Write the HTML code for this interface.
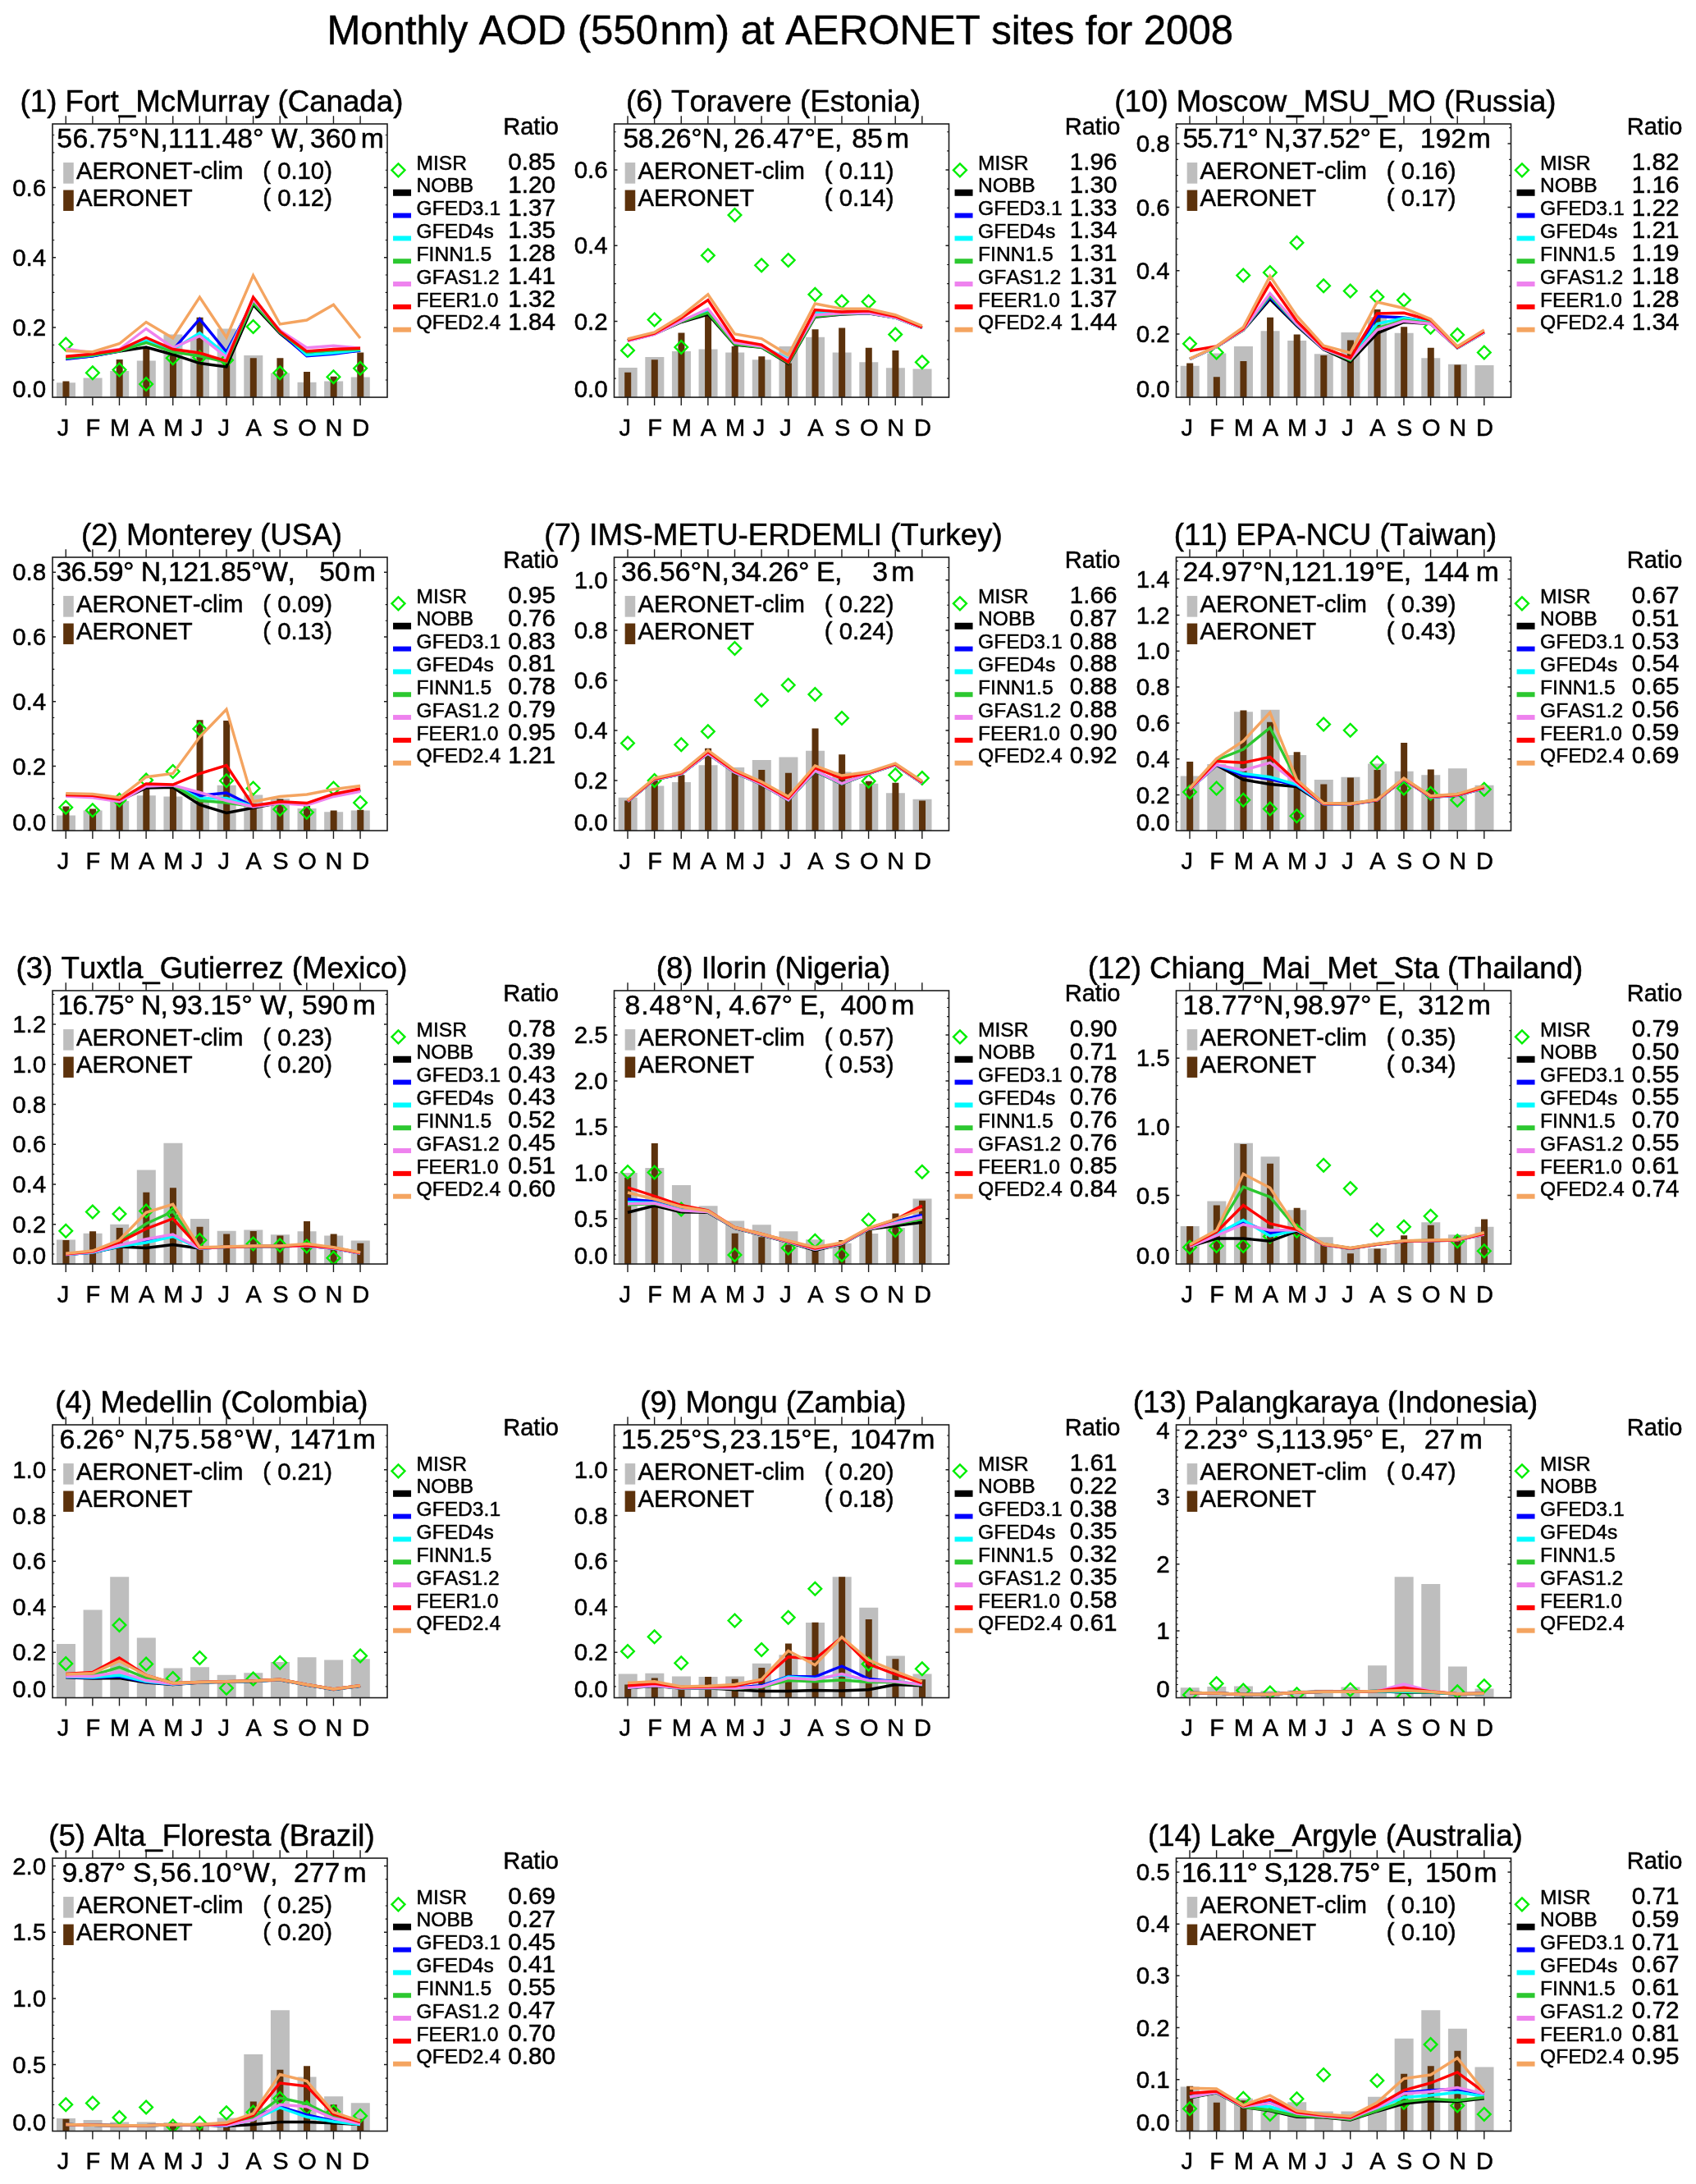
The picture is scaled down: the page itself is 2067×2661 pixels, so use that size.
<!DOCTYPE html>
<html><head><meta charset="utf-8"><title>Monthly AOD (550 nm) at AERONET sites for 2008</title>
<style>
html,body{margin:0;padding:0;background:#fff;overflow:hidden;}
svg{display:block;will-change:transform;}
text{font-family:"Liberation Sans",sans-serif;fill:#000;stroke:#000;stroke-width:0.5px;font-kerning:none;font-variant-ligatures:none;}
</style></head><body>
<svg width="2067" height="2661" viewBox="0 0 2067 2661" shape-rendering="geometricPrecision">
<rect width="2067" height="2661" fill="#fff"/>
<text transform="translate(398.5 53.8) scale(1 1)" font-size="49.05" xml:space="preserve">Monthly AOD (550</text>
<text transform="translate(1503 53.8) scale(1 1)" font-size="49.1" text-anchor="end" xml:space="preserve">nm) at AERONET sites for 2008</text>
<g>
<rect x="68.95" y="466.25" width="23" height="18" fill="#bebebe"/>
<rect x="101.57" y="460.5" width="23" height="23.75" fill="#bebebe"/>
<rect x="134.19" y="452" width="23" height="32.25" fill="#bebebe"/>
<rect x="166.81" y="439.5" width="23" height="44.75" fill="#bebebe"/>
<rect x="199.43" y="407.5" width="23" height="76.75" fill="#bebebe"/>
<rect x="232.05" y="411.25" width="23" height="73" fill="#bebebe"/>
<rect x="264.67" y="400.5" width="23" height="83.75" fill="#bebebe"/>
<rect x="297.29" y="433" width="23" height="51.25" fill="#bebebe"/>
<rect x="329.91" y="454.5" width="23" height="29.75" fill="#bebebe"/>
<rect x="362.53" y="465.75" width="23" height="18.5" fill="#bebebe"/>
<rect x="395.15" y="464.5" width="23" height="19.75" fill="#bebebe"/>
<rect x="427.77" y="459.5" width="23" height="24.75" fill="#bebebe"/>
<rect x="76.45" y="464.5" width="8" height="19.75" fill="#5c320c"/>
<rect x="141.69" y="438" width="8" height="46.25" fill="#5c320c"/>
<rect x="174.31" y="422.5" width="8" height="61.75" fill="#5c320c"/>
<rect x="206.93" y="426.25" width="8" height="58" fill="#5c320c"/>
<rect x="239.55" y="386.75" width="8" height="97.5" fill="#5c320c"/>
<rect x="272.17" y="442.5" width="8" height="41.75" fill="#5c320c"/>
<rect x="304.79" y="436.25" width="8" height="48" fill="#5c320c"/>
<rect x="337.41" y="436.25" width="8" height="48" fill="#5c320c"/>
<rect x="370.03" y="453" width="8" height="31.25" fill="#5c320c"/>
<rect x="402.65" y="458.75" width="8" height="25.5" fill="#5c320c"/>
<rect x="435.27" y="429.5" width="8" height="54.75" fill="#5c320c"/>
<clipPath id="c1"><rect x="64.75" y="151.75" width="407.5" height="332.5"/></clipPath>
<g clip-path="url(#c1)">
<path d="M72.45 419.5L80.25 411.7L88.05 419.5L80.25 427.3Z" fill="none" stroke="#00ee00" stroke-width="2.4"/>
<path d="M105.07 454.25L112.87 446.45L120.67 454.25L112.87 462.05Z" fill="none" stroke="#00ee00" stroke-width="2.4"/>
<path d="M137.69 450.5L145.49 442.7L153.29 450.5L145.49 458.3Z" fill="none" stroke="#00ee00" stroke-width="2.4"/>
<path d="M170.31 468L178.11 460.2L185.91 468L178.11 475.8Z" fill="none" stroke="#00ee00" stroke-width="2.4"/>
<path d="M202.93 436.25L210.73 428.45L218.53 436.25L210.73 444.05Z" fill="none" stroke="#00ee00" stroke-width="2.4"/>
<path d="M235.55 435.5L243.35 427.7L251.15 435.5L243.35 443.3Z" fill="none" stroke="#00ee00" stroke-width="2.4"/>
<path d="M268.17 438.75L275.97 430.95L283.77 438.75L275.97 446.55Z" fill="none" stroke="#00ee00" stroke-width="2.4"/>
<path d="M300.79 398L308.59 390.2L316.39 398L308.59 405.8Z" fill="none" stroke="#00ee00" stroke-width="2.4"/>
<path d="M333.41 454.25L341.21 446.45L349.01 454.25L341.21 462.05Z" fill="none" stroke="#00ee00" stroke-width="2.4"/>
<path d="M398.65 459.25L406.45 451.45L414.25 459.25L406.45 467.05Z" fill="none" stroke="#00ee00" stroke-width="2.4"/>
<path d="M431.27 448.75L439.07 440.95L446.87 448.75L439.07 456.55Z" fill="none" stroke="#00ee00" stroke-width="2.4"/>
<polyline points="80.25,437 112.87,433.75 145.49,428 178.11,423 210.73,432 243.35,442.5 275.97,447 308.59,371.25 341.21,406.25 373.83,432.5 406.45,430 439.07,427" fill="none" stroke="#000000" stroke-width="3.4" stroke-linejoin="miter"/>
<polyline points="80.25,437.5 112.87,433.75 145.49,427.5 178.11,416.25 210.73,426.25 243.35,388.75 275.97,428.75 308.59,367.5 341.21,405 373.83,433.75 406.45,431.25 439.07,427" fill="none" stroke="#0000ff" stroke-width="3.4" stroke-linejoin="miter"/>
<polyline points="80.25,436.25 112.87,433 145.49,427.5 178.11,415 210.73,426.25 243.35,405.5 275.97,432.5 308.59,367 341.21,402.5 373.83,432.5 406.45,430 439.07,426.25" fill="none" stroke="#00fbff" stroke-width="3.4" stroke-linejoin="miter"/>
<polyline points="80.25,436.25 112.87,432.5 145.49,427.5 178.11,417.5 210.73,428.75 243.35,433.75 275.97,441.25 308.59,368.75 341.21,405 373.83,429 406.45,426.75 439.07,425.25" fill="none" stroke="#2cc830" stroke-width="3.4" stroke-linejoin="miter"/>
<polyline points="80.25,425 112.87,430 145.49,425.5 178.11,400.5 210.73,423.75 243.35,409.5 275.97,435 308.59,365 341.21,402.5 373.83,423.75 406.45,421.25 439.07,424.25" fill="none" stroke="#ee82ee" stroke-width="3.4" stroke-linejoin="miter"/>
<polyline points="80.25,434.25 112.87,431.25 145.49,426.25 178.11,411.25 210.73,425.5 243.35,430 275.97,440 308.59,362 341.21,403.75 373.83,428 406.45,425.5 439.07,424.25" fill="none" stroke="#ff0000" stroke-width="3.4" stroke-linejoin="miter"/>
<polyline points="80.25,427.5 112.87,428.75 145.49,418.75 178.11,392.5 210.73,412 243.35,362 275.97,411.25 308.59,335.5 341.21,395 373.83,390 406.45,371.25 439.07,412" fill="none" stroke="#f4a460" stroke-width="3.4" stroke-linejoin="miter"/>
</g>
<rect x="64" y="151" width="408" height="333.05" fill="none" stroke="#1c1c1c" stroke-width="1.6"/>
<path d="M80.25 151v-9.8M80.25 484.05v10M112.87 151v-9.8M112.87 484.05v10M145.49 151v-9.8M145.49 484.05v10M178.11 151v-9.8M178.11 484.05v10M210.73 151v-9.8M210.73 484.05v10M243.35 151v-9.8M243.35 484.05v10M275.97 151v-9.8M275.97 484.05v10M308.59 151v-9.8M308.59 484.05v10M341.21 151v-9.8M341.21 484.05v10M373.83 151v-9.8M373.83 484.05v10M406.45 151v-9.8M406.45 484.05v10M439.07 151v-9.8M439.07 484.05v10M64 228.5h4M472 228.5h-4M64 313.75h4M472 313.75h-4M64 399h4M472 399h-4" stroke="#1c1c1c" stroke-width="1.4" fill="none"/>
<path d="M64 462.94h2.3M472 462.94h-2.3M64 441.62h2.3M472 441.62h-2.3M64 420.31h2.3M472 420.31h-2.3M64 377.69h2.3M472 377.69h-2.3M64 356.38h2.3M472 356.38h-2.3M64 335.06h2.3M472 335.06h-2.3M64 292.44h2.3M472 292.44h-2.3M64 271.12h2.3M472 271.12h-2.3M64 249.81h2.3M472 249.81h-2.3M64 207.19h2.3M472 207.19h-2.3M64 185.88h2.3M472 185.88h-2.3M64 164.56h2.3M472 164.56h-2.3" stroke="#111" stroke-width="1.1" fill="none"/>
<text transform="translate(56.15 483.85) scale(1 1)" font-size="29.5" text-anchor="end" xml:space="preserve">0.0</text>
<text transform="translate(56.15 409.1) scale(1 1)" font-size="29.5" text-anchor="end" xml:space="preserve">0.2</text>
<text transform="translate(56.15 323.85) scale(1 1)" font-size="29.5" text-anchor="end" xml:space="preserve">0.4</text>
<text transform="translate(56.15 238.6) scale(1 1)" font-size="29.5" text-anchor="end" xml:space="preserve">0.6</text>
<text transform="translate(77.05 530.85) scale(1 1)" font-size="29" text-anchor="middle" xml:space="preserve">J</text>
<text transform="translate(113.47 530.85) scale(1 1)" font-size="29" text-anchor="middle" xml:space="preserve">F</text>
<text transform="translate(146.09 530.85) scale(1 1)" font-size="29" text-anchor="middle" xml:space="preserve">M</text>
<text transform="translate(178.71 530.85) scale(1 1)" font-size="29" text-anchor="middle" xml:space="preserve">A</text>
<text transform="translate(211.33 530.85) scale(1 1)" font-size="29" text-anchor="middle" xml:space="preserve">M</text>
<text transform="translate(240.15 530.85) scale(1 1)" font-size="29" text-anchor="middle" xml:space="preserve">J</text>
<text transform="translate(272.77 530.85) scale(1 1)" font-size="29" text-anchor="middle" xml:space="preserve">J</text>
<text transform="translate(309.19 530.85) scale(1 1)" font-size="29" text-anchor="middle" xml:space="preserve">A</text>
<text transform="translate(341.81 530.85) scale(1 1)" font-size="29" text-anchor="middle" xml:space="preserve">S</text>
<text transform="translate(374.43 530.85) scale(1 1)" font-size="29" text-anchor="middle" xml:space="preserve">O</text>
<text transform="translate(407.05 530.85) scale(1 1)" font-size="29" text-anchor="middle" xml:space="preserve">N</text>
<text transform="translate(439.67 530.85) scale(1 1)" font-size="29" text-anchor="middle" xml:space="preserve">D</text>
<text transform="translate(257.95 136.45) scale(1 1)" font-size="36.7" text-anchor="middle" xml:space="preserve">(1) Fort_McMurray (Canada)</text>
<text transform="translate(69.15 180.35) scale(1 1)" font-size="33.8" textLength="135.75" lengthAdjust="spacing" xml:space="preserve">56.75°N,</text>
<text transform="translate(204.9 180.35) scale(1 1)" font-size="33.8" textLength="167" lengthAdjust="spacing" xml:space="preserve">111.48° W,</text>
<text transform="translate(377.9 180.35) scale(1 1)" font-size="33.8" xml:space="preserve">360</text>
<text transform="translate(468 180.35) scale(1 1)" font-size="33.8" text-anchor="end" xml:space="preserve">m</text>
<rect x="77.15" y="198.05" width="12.6" height="25.6" fill="#bebebe"/>
<rect x="77.15" y="231.55" width="12.6" height="25.4" fill="#5c320c"/>
<text transform="translate(93.05 217.55) scale(1 1)" font-size="29.3" xml:space="preserve">AERONET-clim</text>
<text transform="translate(93.05 251.25) scale(1 1)" font-size="29.3" xml:space="preserve">AERONET</text>
<text transform="translate(320.25 217.55) scale(1 1)" font-size="29.3" xml:space="preserve">( 0.10)</text>
<text transform="translate(320.25 251.25) scale(1 1)" font-size="29.3" xml:space="preserve">( 0.12)</text>
<text transform="translate(613.25 163.95) scale(1 1)" font-size="29" xml:space="preserve">Ratio</text>
<text transform="translate(507.55 206.65) scale(1 1)" font-size="24.6" xml:space="preserve">MISR</text>
<path d="M477.45 207.35L485.45 199.35L493.45 207.35L485.45 215.35Z" fill="none" stroke="#00ee00" stroke-width="2.4"/>
<text transform="translate(619.25 206.95) scale(1 1)" font-size="29.6" xml:space="preserve">0.85</text>
<text transform="translate(507.55 234.47) scale(1 1)" font-size="24.6" xml:space="preserve">NOBB</text>
<rect x="479.05" y="230.77" width="22" height="8" fill="#000000"/>
<text transform="translate(619.25 234.77) scale(1 1)" font-size="29.6" xml:space="preserve">1.20</text>
<text transform="translate(507.55 262.29) scale(1 1)" font-size="24.6" xml:space="preserve">GFED3.1</text>
<rect x="479.05" y="259.59" width="22" height="6" fill="#0000ff"/>
<text transform="translate(619.25 262.59) scale(1 1)" font-size="29.6" xml:space="preserve">1.37</text>
<text transform="translate(507.55 290.11) scale(1 1)" font-size="24.6" xml:space="preserve">GFED4s</text>
<rect x="479.05" y="287.41" width="22" height="6" fill="#00fbff"/>
<text transform="translate(619.25 290.41) scale(1 1)" font-size="29.6" xml:space="preserve">1.35</text>
<text transform="translate(507.55 317.93) scale(1 1)" font-size="24.6" xml:space="preserve">FINN1.5</text>
<rect x="479.05" y="315.23" width="22" height="6" fill="#2cc830"/>
<text transform="translate(619.25 318.23) scale(1 1)" font-size="29.6" xml:space="preserve">1.28</text>
<text transform="translate(507.55 345.75) scale(1 1)" font-size="24.6" xml:space="preserve">GFAS1.2</text>
<rect x="479.05" y="343.05" width="22" height="6" fill="#ee82ee"/>
<text transform="translate(619.25 346.05) scale(1 1)" font-size="29.6" xml:space="preserve">1.41</text>
<text transform="translate(507.55 373.57) scale(1 1)" font-size="24.6" xml:space="preserve">FEER1.0</text>
<rect x="479.05" y="370.87" width="22" height="6" fill="#ff0000"/>
<text transform="translate(619.25 373.87) scale(1 1)" font-size="29.6" xml:space="preserve">1.32</text>
<text transform="translate(507.55 401.39) scale(1 1)" font-size="24.6" xml:space="preserve">QFED2.4</text>
<rect x="479.05" y="398.69" width="22" height="6" fill="#f4a460"/>
<text transform="translate(619.25 401.69) scale(1 1)" font-size="29.6" xml:space="preserve">1.84</text>
</g>
<g>
<rect x="68.95" y="993.5" width="23" height="18.75" fill="#bebebe"/>
<rect x="101.57" y="987.5" width="23" height="24.75" fill="#bebebe"/>
<rect x="134.19" y="976" width="23" height="36.25" fill="#bebebe"/>
<rect x="166.81" y="969.25" width="23" height="43" fill="#bebebe"/>
<rect x="199.43" y="970.5" width="23" height="41.75" fill="#bebebe"/>
<rect x="232.05" y="976.75" width="23" height="35.5" fill="#bebebe"/>
<rect x="264.67" y="956.75" width="23" height="55.5" fill="#bebebe"/>
<rect x="297.29" y="968.5" width="23" height="43.75" fill="#bebebe"/>
<rect x="329.91" y="973" width="23" height="39.25" fill="#bebebe"/>
<rect x="362.53" y="985" width="23" height="27.25" fill="#bebebe"/>
<rect x="395.15" y="989.25" width="23" height="23" fill="#bebebe"/>
<rect x="427.77" y="987.5" width="23" height="24.75" fill="#bebebe"/>
<rect x="76.45" y="982.5" width="8" height="29.75" fill="#5c320c"/>
<rect x="109.07" y="985.5" width="8" height="26.75" fill="#5c320c"/>
<rect x="141.69" y="973" width="8" height="39.25" fill="#5c320c"/>
<rect x="174.31" y="955.5" width="8" height="56.75" fill="#5c320c"/>
<rect x="206.93" y="958" width="8" height="54.25" fill="#5c320c"/>
<rect x="239.55" y="877.25" width="8" height="135" fill="#5c320c"/>
<rect x="272.17" y="878" width="8" height="134.25" fill="#5c320c"/>
<rect x="304.79" y="979.25" width="8" height="33" fill="#5c320c"/>
<rect x="337.41" y="973.5" width="8" height="38.75" fill="#5c320c"/>
<rect x="370.03" y="981.75" width="8" height="30.5" fill="#5c320c"/>
<rect x="402.65" y="987.5" width="8" height="24.75" fill="#5c320c"/>
<rect x="435.27" y="986.75" width="8" height="25.5" fill="#5c320c"/>
<clipPath id="c2"><rect x="64.75" y="679.75" width="407.5" height="332.5"/></clipPath>
<g clip-path="url(#c2)">
<path d="M72.45 983.75L80.25 975.95L88.05 983.75L80.25 991.55Z" fill="none" stroke="#00ee00" stroke-width="2.4"/>
<path d="M105.07 987.25L112.87 979.45L120.67 987.25L112.87 995.05Z" fill="none" stroke="#00ee00" stroke-width="2.4"/>
<path d="M137.69 974.75L145.49 966.95L153.29 974.75L145.49 982.55Z" fill="none" stroke="#00ee00" stroke-width="2.4"/>
<path d="M170.31 950.5L178.11 942.7L185.91 950.5L178.11 958.3Z" fill="none" stroke="#00ee00" stroke-width="2.4"/>
<path d="M202.93 940L210.73 932.2L218.53 940L210.73 947.8Z" fill="none" stroke="#00ee00" stroke-width="2.4"/>
<path d="M235.55 888L243.35 880.2L251.15 888L243.35 895.8Z" fill="none" stroke="#00ee00" stroke-width="2.4"/>
<path d="M268.17 951.25L275.97 943.45L283.77 951.25L275.97 959.05Z" fill="none" stroke="#00ee00" stroke-width="2.4"/>
<path d="M300.79 960.5L308.59 952.7L316.39 960.5L308.59 968.3Z" fill="none" stroke="#00ee00" stroke-width="2.4"/>
<path d="M333.41 986L341.21 978.2L349.01 986L341.21 993.8Z" fill="none" stroke="#00ee00" stroke-width="2.4"/>
<path d="M366.03 989.75L373.83 981.95L381.63 989.75L373.83 997.55Z" fill="none" stroke="#00ee00" stroke-width="2.4"/>
<path d="M398.65 960.5L406.45 952.7L414.25 960.5L406.45 968.3Z" fill="none" stroke="#00ee00" stroke-width="2.4"/>
<path d="M431.27 978L439.07 970.2L446.87 978L439.07 985.8Z" fill="none" stroke="#00ee00" stroke-width="2.4"/>
<polyline points="80.25,969.25 112.87,970.5 145.49,975.5 178.11,960 210.73,959.25 243.35,980.5 275.97,990.5 308.59,984.25 341.21,978 373.83,980 406.45,969.25 439.07,962.5" fill="none" stroke="#000000" stroke-width="3.4" stroke-linejoin="miter"/>
<polyline points="80.25,969.25 112.87,970.5 145.49,975.5 178.11,956.75 210.73,956.75 243.35,969.25 275.97,966 308.59,982.5 341.21,978 373.83,980 406.45,969.25 439.07,962.5" fill="none" stroke="#0000ff" stroke-width="3.4" stroke-linejoin="miter"/>
<polyline points="80.25,969.25 112.87,970.5 145.49,975.5 178.11,956.75 210.73,956.75 243.35,973 275.97,972.5 308.59,982.5 341.21,978 373.83,980 406.45,969.25 439.07,962.5" fill="none" stroke="#00fbff" stroke-width="3.4" stroke-linejoin="miter"/>
<polyline points="80.25,969.25 112.87,970.5 145.49,975.5 178.11,956.75 210.73,956.75 243.35,975.5 275.97,978 308.59,982.5 341.21,978 373.83,980 406.45,969.25 439.07,962.5" fill="none" stroke="#2cc830" stroke-width="3.4" stroke-linejoin="miter"/>
<polyline points="80.25,970 112.87,971.75 145.49,976.75 178.11,958 210.73,956.75 243.35,965.5 275.97,975.5 308.59,983 341.21,978.5 373.83,981 406.45,970.5 439.07,964.25" fill="none" stroke="#ee82ee" stroke-width="3.4" stroke-linejoin="miter"/>
<polyline points="80.25,968.5 112.87,969.25 145.49,974.25 178.11,955 210.73,956 243.35,942.5 275.97,932.5 308.59,981.75 341.21,976.75 373.83,978.5 406.45,967.5 439.07,961" fill="none" stroke="#ff0000" stroke-width="3.4" stroke-linejoin="miter"/>
<polyline points="80.25,966.75 112.87,967.5 145.49,971.75 178.11,946.75 210.73,942.5 243.35,898 275.97,864.25 308.59,976.75 341.21,970.5 373.83,968 406.45,961.75 439.07,957.5" fill="none" stroke="#f4a460" stroke-width="3.4" stroke-linejoin="miter"/>
</g>
<rect x="64" y="679" width="408" height="333.05" fill="none" stroke="#1c1c1c" stroke-width="1.6"/>
<path d="M80.25 679v-9.8M80.25 1012.05v10M112.87 679v-9.8M112.87 1012.05v10M145.49 679v-9.8M145.49 1012.05v10M178.11 679v-9.8M178.11 1012.05v10M210.73 679v-9.8M210.73 1012.05v10M243.35 679v-9.8M243.35 1012.05v10M275.97 679v-9.8M275.97 1012.05v10M308.59 679v-9.8M308.59 1012.05v10M341.21 679v-9.8M341.21 1012.05v10M373.83 679v-9.8M373.83 1012.05v10M406.45 679v-9.8M406.45 1012.05v10M439.07 679v-9.8M439.07 1012.05v10M64 697.25h4M472 697.25h-4M64 776h4M472 776h-4M64 854.75h4M472 854.75h-4M64 933.5h4M472 933.5h-4" stroke="#1c1c1c" stroke-width="1.4" fill="none"/>
<path d="M64 992.56h2.3M472 992.56h-2.3M64 972.88h2.3M472 972.88h-2.3M64 953.19h2.3M472 953.19h-2.3M64 913.81h2.3M472 913.81h-2.3M64 894.12h2.3M472 894.12h-2.3M64 874.44h2.3M472 874.44h-2.3M64 835.06h2.3M472 835.06h-2.3M64 815.38h2.3M472 815.38h-2.3M64 795.69h2.3M472 795.69h-2.3M64 756.31h2.3M472 756.31h-2.3M64 736.62h2.3M472 736.62h-2.3M64 716.94h2.3M472 716.94h-2.3" stroke="#111" stroke-width="1.1" fill="none"/>
<text transform="translate(56.15 1011.85) scale(1 1)" font-size="29.5" text-anchor="end" xml:space="preserve">0.0</text>
<text transform="translate(56.15 943.6) scale(1 1)" font-size="29.5" text-anchor="end" xml:space="preserve">0.2</text>
<text transform="translate(56.15 864.85) scale(1 1)" font-size="29.5" text-anchor="end" xml:space="preserve">0.4</text>
<text transform="translate(56.15 786.1) scale(1 1)" font-size="29.5" text-anchor="end" xml:space="preserve">0.6</text>
<text transform="translate(56.15 707.35) scale(1 1)" font-size="29.5" text-anchor="end" xml:space="preserve">0.8</text>
<text transform="translate(77.05 1058.85) scale(1 1)" font-size="29" text-anchor="middle" xml:space="preserve">J</text>
<text transform="translate(113.47 1058.85) scale(1 1)" font-size="29" text-anchor="middle" xml:space="preserve">F</text>
<text transform="translate(146.09 1058.85) scale(1 1)" font-size="29" text-anchor="middle" xml:space="preserve">M</text>
<text transform="translate(178.71 1058.85) scale(1 1)" font-size="29" text-anchor="middle" xml:space="preserve">A</text>
<text transform="translate(211.33 1058.85) scale(1 1)" font-size="29" text-anchor="middle" xml:space="preserve">M</text>
<text transform="translate(240.15 1058.85) scale(1 1)" font-size="29" text-anchor="middle" xml:space="preserve">J</text>
<text transform="translate(272.77 1058.85) scale(1 1)" font-size="29" text-anchor="middle" xml:space="preserve">J</text>
<text transform="translate(309.19 1058.85) scale(1 1)" font-size="29" text-anchor="middle" xml:space="preserve">A</text>
<text transform="translate(341.81 1058.85) scale(1 1)" font-size="29" text-anchor="middle" xml:space="preserve">S</text>
<text transform="translate(374.43 1058.85) scale(1 1)" font-size="29" text-anchor="middle" xml:space="preserve">O</text>
<text transform="translate(407.05 1058.85) scale(1 1)" font-size="29" text-anchor="middle" xml:space="preserve">N</text>
<text transform="translate(439.67 1058.85) scale(1 1)" font-size="29" text-anchor="middle" xml:space="preserve">D</text>
<text transform="translate(257.95 664.45) scale(1 1)" font-size="36.7" text-anchor="middle" xml:space="preserve">(2) Monterey (USA)</text>
<text transform="translate(68.4 708.35) scale(1 1)" font-size="33.8" textLength="136.5" lengthAdjust="spacing" xml:space="preserve">36.59° N,</text>
<text transform="translate(204.9 708.35) scale(1 1)" font-size="33.8" textLength="155" lengthAdjust="spacing" xml:space="preserve">121.85°W,</text>
<text transform="translate(389.15 708.35) scale(1 1)" font-size="33.8" xml:space="preserve">50</text>
<text transform="translate(458 708.35) scale(1 1)" font-size="33.8" text-anchor="end" xml:space="preserve">m</text>
<rect x="77.15" y="726.05" width="12.6" height="25.6" fill="#bebebe"/>
<rect x="77.15" y="759.55" width="12.6" height="25.4" fill="#5c320c"/>
<text transform="translate(93.05 745.55) scale(1 1)" font-size="29.3" xml:space="preserve">AERONET-clim</text>
<text transform="translate(93.05 779.25) scale(1 1)" font-size="29.3" xml:space="preserve">AERONET</text>
<text transform="translate(320.25 745.55) scale(1 1)" font-size="29.3" xml:space="preserve">( 0.09)</text>
<text transform="translate(320.25 779.25) scale(1 1)" font-size="29.3" xml:space="preserve">( 0.13)</text>
<text transform="translate(613.25 691.95) scale(1 1)" font-size="29" xml:space="preserve">Ratio</text>
<text transform="translate(507.55 734.65) scale(1 1)" font-size="24.6" xml:space="preserve">MISR</text>
<path d="M477.45 735.35L485.45 727.35L493.45 735.35L485.45 743.35Z" fill="none" stroke="#00ee00" stroke-width="2.4"/>
<text transform="translate(619.25 734.95) scale(1 1)" font-size="29.6" xml:space="preserve">0.95</text>
<text transform="translate(507.55 762.47) scale(1 1)" font-size="24.6" xml:space="preserve">NOBB</text>
<rect x="479.05" y="758.77" width="22" height="8" fill="#000000"/>
<text transform="translate(619.25 762.77) scale(1 1)" font-size="29.6" xml:space="preserve">0.76</text>
<text transform="translate(507.55 790.29) scale(1 1)" font-size="24.6" xml:space="preserve">GFED3.1</text>
<rect x="479.05" y="787.59" width="22" height="6" fill="#0000ff"/>
<text transform="translate(619.25 790.59) scale(1 1)" font-size="29.6" xml:space="preserve">0.83</text>
<text transform="translate(507.55 818.11) scale(1 1)" font-size="24.6" xml:space="preserve">GFED4s</text>
<rect x="479.05" y="815.41" width="22" height="6" fill="#00fbff"/>
<text transform="translate(619.25 818.41) scale(1 1)" font-size="29.6" xml:space="preserve">0.81</text>
<text transform="translate(507.55 845.93) scale(1 1)" font-size="24.6" xml:space="preserve">FINN1.5</text>
<rect x="479.05" y="843.23" width="22" height="6" fill="#2cc830"/>
<text transform="translate(619.25 846.23) scale(1 1)" font-size="29.6" xml:space="preserve">0.78</text>
<text transform="translate(507.55 873.75) scale(1 1)" font-size="24.6" xml:space="preserve">GFAS1.2</text>
<rect x="479.05" y="871.05" width="22" height="6" fill="#ee82ee"/>
<text transform="translate(619.25 874.05) scale(1 1)" font-size="29.6" xml:space="preserve">0.79</text>
<text transform="translate(507.55 901.57) scale(1 1)" font-size="24.6" xml:space="preserve">FEER1.0</text>
<rect x="479.05" y="898.87" width="22" height="6" fill="#ff0000"/>
<text transform="translate(619.25 901.87) scale(1 1)" font-size="29.6" xml:space="preserve">0.95</text>
<text transform="translate(507.55 929.39) scale(1 1)" font-size="24.6" xml:space="preserve">QFED2.4</text>
<rect x="479.05" y="926.69" width="22" height="6" fill="#f4a460"/>
<text transform="translate(619.25 929.69) scale(1 1)" font-size="29.6" xml:space="preserve">1.21</text>
</g>
<g>
<rect x="68.95" y="1510.5" width="23" height="29.75" fill="#bebebe"/>
<rect x="101.57" y="1502.75" width="23" height="37.5" fill="#bebebe"/>
<rect x="134.19" y="1491.75" width="23" height="48.5" fill="#bebebe"/>
<rect x="166.81" y="1425.5" width="23" height="114.75" fill="#bebebe"/>
<rect x="199.43" y="1392.75" width="23" height="147.5" fill="#bebebe"/>
<rect x="232.05" y="1485" width="23" height="55.25" fill="#bebebe"/>
<rect x="264.67" y="1499.75" width="23" height="40.5" fill="#bebebe"/>
<rect x="297.29" y="1498.5" width="23" height="41.75" fill="#bebebe"/>
<rect x="329.91" y="1504.25" width="23" height="36" fill="#bebebe"/>
<rect x="362.53" y="1500.25" width="23" height="40" fill="#bebebe"/>
<rect x="395.15" y="1505.5" width="23" height="34.75" fill="#bebebe"/>
<rect x="427.77" y="1511.5" width="23" height="28.75" fill="#bebebe"/>
<rect x="76.45" y="1511" width="8" height="29.25" fill="#5c320c"/>
<rect x="109.07" y="1500.25" width="8" height="40" fill="#5c320c"/>
<rect x="141.69" y="1496" width="8" height="44.25" fill="#5c320c"/>
<rect x="174.31" y="1452.75" width="8" height="87.5" fill="#5c320c"/>
<rect x="206.93" y="1447.25" width="8" height="93" fill="#5c320c"/>
<rect x="239.55" y="1494.75" width="8" height="45.5" fill="#5c320c"/>
<rect x="272.17" y="1503.5" width="8" height="36.75" fill="#5c320c"/>
<rect x="304.79" y="1500" width="8" height="40.25" fill="#5c320c"/>
<rect x="337.41" y="1505.5" width="8" height="34.75" fill="#5c320c"/>
<rect x="370.03" y="1488" width="8" height="52.25" fill="#5c320c"/>
<rect x="402.65" y="1503.5" width="8" height="36.75" fill="#5c320c"/>
<rect x="435.27" y="1514.75" width="8" height="25.5" fill="#5c320c"/>
<clipPath id="c3"><rect x="64.75" y="1207.75" width="407.5" height="332.5"/></clipPath>
<g clip-path="url(#c3)">
<path d="M72.45 1499.75L80.25 1491.95L88.05 1499.75L80.25 1507.55Z" fill="none" stroke="#00ee00" stroke-width="2.4"/>
<path d="M105.07 1476.5L112.87 1468.7L120.67 1476.5L112.87 1484.3Z" fill="none" stroke="#00ee00" stroke-width="2.4"/>
<path d="M137.69 1479L145.49 1471.2L153.29 1479L145.49 1486.8Z" fill="none" stroke="#00ee00" stroke-width="2.4"/>
<path d="M170.31 1475.5L178.11 1467.7L185.91 1475.5L178.11 1483.3Z" fill="none" stroke="#00ee00" stroke-width="2.4"/>
<path d="M202.93 1479L210.73 1471.2L218.53 1479L210.73 1486.8Z" fill="none" stroke="#00ee00" stroke-width="2.4"/>
<path d="M235.55 1511L243.35 1503.2L251.15 1511L243.35 1518.8Z" fill="none" stroke="#00ee00" stroke-width="2.4"/>
<path d="M300.79 1515.5L308.59 1507.7L316.39 1515.5L308.59 1523.3Z" fill="none" stroke="#00ee00" stroke-width="2.4"/>
<path d="M333.41 1517.25L341.21 1509.45L349.01 1517.25L341.21 1525.05Z" fill="none" stroke="#00ee00" stroke-width="2.4"/>
<path d="M366.03 1518.5L373.83 1510.7L381.63 1518.5L373.83 1526.3Z" fill="none" stroke="#00ee00" stroke-width="2.4"/>
<path d="M398.65 1532.75L406.45 1524.95L414.25 1532.75L406.45 1540.55Z" fill="none" stroke="#00ee00" stroke-width="2.4"/>
<polyline points="80.25,1528.5 112.87,1526 145.49,1519 178.11,1520.5 210.73,1516.5 243.35,1521 275.97,1519.25 308.59,1518.5 341.21,1518.5 373.83,1518 406.45,1521 439.07,1527" fill="none" stroke="#000000" stroke-width="3.4" stroke-linejoin="miter"/>
<polyline points="80.25,1528.5 112.87,1526 145.49,1518.5 178.11,1512.25 210.73,1505.5 243.35,1521 275.97,1519.25 308.59,1518.5 341.21,1518.5 373.83,1518 406.45,1521 439.07,1527" fill="none" stroke="#0000ff" stroke-width="3.4" stroke-linejoin="miter"/>
<polyline points="80.25,1528.5 112.87,1526 145.49,1518.5 178.11,1514 210.73,1506.5 243.35,1521 275.97,1519.25 308.59,1518.5 341.21,1518.5 373.83,1518 406.45,1521 439.07,1527" fill="none" stroke="#00fbff" stroke-width="3.4" stroke-linejoin="miter"/>
<polyline points="80.25,1527.75 112.87,1524.75 145.49,1513 178.11,1491 210.73,1476 243.35,1520.5 275.97,1519.25 308.59,1518.5 341.21,1518.5 373.83,1516.5 406.45,1520.25 439.07,1526.5" fill="none" stroke="#2cc830" stroke-width="3.4" stroke-linejoin="miter"/>
<polyline points="80.25,1528.5 112.87,1525.5 145.49,1517.25 178.11,1509.75 210.73,1504 243.35,1521 275.97,1519.25 308.59,1518.5 341.21,1518.5 373.83,1518 406.45,1521 439.07,1527" fill="none" stroke="#ee82ee" stroke-width="3.4" stroke-linejoin="miter"/>
<polyline points="80.25,1527.75 112.87,1524.75 145.49,1513.5 178.11,1497.25 210.73,1484.75 243.35,1520.5 275.97,1519.25 308.59,1518.5 341.21,1518.5 373.83,1517.25 406.45,1520.25 439.07,1526.5" fill="none" stroke="#ff0000" stroke-width="3.4" stroke-linejoin="miter"/>
<polyline points="80.25,1527.25 112.87,1524 145.49,1511 178.11,1477.25 210.73,1467.25 243.35,1519.75 275.97,1519 308.59,1518 341.21,1518 373.83,1515.5 406.45,1519.75 439.07,1526" fill="none" stroke="#f4a460" stroke-width="3.4" stroke-linejoin="miter"/>
</g>
<rect x="64" y="1207" width="408" height="333.05" fill="none" stroke="#1c1c1c" stroke-width="1.6"/>
<path d="M80.25 1207v-9.8M80.25 1540.05v10M112.87 1207v-9.8M112.87 1540.05v10M145.49 1207v-9.8M145.49 1540.05v10M178.11 1207v-9.8M178.11 1540.05v10M210.73 1207v-9.8M210.73 1540.05v10M243.35 1207v-9.8M243.35 1540.05v10M275.97 1207v-9.8M275.97 1540.05v10M308.59 1207v-9.8M308.59 1540.05v10M341.21 1207v-9.8M341.21 1540.05v10M373.83 1207v-9.8M373.83 1540.05v10M406.45 1207v-9.8M406.45 1540.05v10M439.07 1207v-9.8M439.07 1540.05v10M64 1248h4M472 1248h-4M64 1296.75h4M472 1296.75h-4M64 1345.5h4M472 1345.5h-4M64 1394.25h4M472 1394.25h-4M64 1443h4M472 1443h-4M64 1491.75h4M472 1491.75h-4" stroke="#1c1c1c" stroke-width="1.4" fill="none"/>
<path d="M64 1528.07h2.3M472 1528.07h-2.3M64 1515.9h2.3M472 1515.9h-2.3M64 1503.72h2.3M472 1503.72h-2.3M64 1479.36h2.3M472 1479.36h-2.3M64 1467.19h2.3M472 1467.19h-2.3M64 1455.01h2.3M472 1455.01h-2.3M64 1430.66h2.3M472 1430.66h-2.3M64 1418.48h2.3M472 1418.48h-2.3M64 1406.3h2.3M472 1406.3h-2.3M64 1381.95h2.3M472 1381.95h-2.3M64 1369.77h2.3M472 1369.77h-2.3M64 1357.59h2.3M472 1357.59h-2.3M64 1333.24h2.3M472 1333.24h-2.3M64 1321.06h2.3M472 1321.06h-2.3M64 1308.89h2.3M472 1308.89h-2.3M64 1284.53h2.3M472 1284.53h-2.3M64 1272.35h2.3M472 1272.35h-2.3M64 1260.18h2.3M472 1260.18h-2.3M64 1235.82h2.3M472 1235.82h-2.3M64 1223.65h2.3M472 1223.65h-2.3M64 1211.47h2.3M472 1211.47h-2.3" stroke="#111" stroke-width="1.1" fill="none"/>
<text transform="translate(56.15 1539.85) scale(1 1)" font-size="29.5" text-anchor="end" xml:space="preserve">0.0</text>
<text transform="translate(56.15 1501.85) scale(1 1)" font-size="29.5" text-anchor="end" xml:space="preserve">0.2</text>
<text transform="translate(56.15 1453.1) scale(1 1)" font-size="29.5" text-anchor="end" xml:space="preserve">0.4</text>
<text transform="translate(56.15 1404.35) scale(1 1)" font-size="29.5" text-anchor="end" xml:space="preserve">0.6</text>
<text transform="translate(56.15 1355.6) scale(1 1)" font-size="29.5" text-anchor="end" xml:space="preserve">0.8</text>
<text transform="translate(56.15 1306.85) scale(1 1)" font-size="29.5" text-anchor="end" xml:space="preserve">1.0</text>
<text transform="translate(56.15 1258.1) scale(1 1)" font-size="29.5" text-anchor="end" xml:space="preserve">1.2</text>
<text transform="translate(77.05 1586.85) scale(1 1)" font-size="29" text-anchor="middle" xml:space="preserve">J</text>
<text transform="translate(113.47 1586.85) scale(1 1)" font-size="29" text-anchor="middle" xml:space="preserve">F</text>
<text transform="translate(146.09 1586.85) scale(1 1)" font-size="29" text-anchor="middle" xml:space="preserve">M</text>
<text transform="translate(178.71 1586.85) scale(1 1)" font-size="29" text-anchor="middle" xml:space="preserve">A</text>
<text transform="translate(211.33 1586.85) scale(1 1)" font-size="29" text-anchor="middle" xml:space="preserve">M</text>
<text transform="translate(240.15 1586.85) scale(1 1)" font-size="29" text-anchor="middle" xml:space="preserve">J</text>
<text transform="translate(272.77 1586.85) scale(1 1)" font-size="29" text-anchor="middle" xml:space="preserve">J</text>
<text transform="translate(309.19 1586.85) scale(1 1)" font-size="29" text-anchor="middle" xml:space="preserve">A</text>
<text transform="translate(341.81 1586.85) scale(1 1)" font-size="29" text-anchor="middle" xml:space="preserve">S</text>
<text transform="translate(374.43 1586.85) scale(1 1)" font-size="29" text-anchor="middle" xml:space="preserve">O</text>
<text transform="translate(407.05 1586.85) scale(1 1)" font-size="29" text-anchor="middle" xml:space="preserve">N</text>
<text transform="translate(439.67 1586.85) scale(1 1)" font-size="29" text-anchor="middle" xml:space="preserve">D</text>
<text transform="translate(257.95 1192.45) scale(1 1)" font-size="36.7" text-anchor="middle" xml:space="preserve">(3) Tuxtla_Gutierrez (Mexico)</text>
<text transform="translate(70.4 1236.35) scale(1 1)" font-size="33.8" textLength="134.5" lengthAdjust="spacing" xml:space="preserve">16.75° N,</text>
<text transform="translate(209.15 1236.35) scale(1 1)" font-size="33.8" textLength="149.5" lengthAdjust="spacing" xml:space="preserve">93.15° W,</text>
<text transform="translate(367.9 1236.35) scale(1 1)" font-size="33.8" xml:space="preserve">590</text>
<text transform="translate(458 1236.35) scale(1 1)" font-size="33.8" text-anchor="end" xml:space="preserve">m</text>
<rect x="77.15" y="1254.05" width="12.6" height="25.6" fill="#bebebe"/>
<rect x="77.15" y="1287.55" width="12.6" height="25.4" fill="#5c320c"/>
<text transform="translate(93.05 1273.55) scale(1 1)" font-size="29.3" xml:space="preserve">AERONET-clim</text>
<text transform="translate(93.05 1307.25) scale(1 1)" font-size="29.3" xml:space="preserve">AERONET</text>
<text transform="translate(320.25 1273.55) scale(1 1)" font-size="29.3" xml:space="preserve">( 0.23)</text>
<text transform="translate(320.25 1307.25) scale(1 1)" font-size="29.3" xml:space="preserve">( 0.20)</text>
<text transform="translate(613.25 1219.95) scale(1 1)" font-size="29" xml:space="preserve">Ratio</text>
<text transform="translate(507.55 1262.65) scale(1 1)" font-size="24.6" xml:space="preserve">MISR</text>
<path d="M477.45 1263.35L485.45 1255.35L493.45 1263.35L485.45 1271.35Z" fill="none" stroke="#00ee00" stroke-width="2.4"/>
<text transform="translate(619.25 1262.95) scale(1 1)" font-size="29.6" xml:space="preserve">0.78</text>
<text transform="translate(507.55 1290.47) scale(1 1)" font-size="24.6" xml:space="preserve">NOBB</text>
<rect x="479.05" y="1286.77" width="22" height="8" fill="#000000"/>
<text transform="translate(619.25 1290.77) scale(1 1)" font-size="29.6" xml:space="preserve">0.39</text>
<text transform="translate(507.55 1318.29) scale(1 1)" font-size="24.6" xml:space="preserve">GFED3.1</text>
<rect x="479.05" y="1315.59" width="22" height="6" fill="#0000ff"/>
<text transform="translate(619.25 1318.59) scale(1 1)" font-size="29.6" xml:space="preserve">0.43</text>
<text transform="translate(507.55 1346.11) scale(1 1)" font-size="24.6" xml:space="preserve">GFED4s</text>
<rect x="479.05" y="1343.41" width="22" height="6" fill="#00fbff"/>
<text transform="translate(619.25 1346.41) scale(1 1)" font-size="29.6" xml:space="preserve">0.43</text>
<text transform="translate(507.55 1373.93) scale(1 1)" font-size="24.6" xml:space="preserve">FINN1.5</text>
<rect x="479.05" y="1371.23" width="22" height="6" fill="#2cc830"/>
<text transform="translate(619.25 1374.23) scale(1 1)" font-size="29.6" xml:space="preserve">0.52</text>
<text transform="translate(507.55 1401.75) scale(1 1)" font-size="24.6" xml:space="preserve">GFAS1.2</text>
<rect x="479.05" y="1399.05" width="22" height="6" fill="#ee82ee"/>
<text transform="translate(619.25 1402.05) scale(1 1)" font-size="29.6" xml:space="preserve">0.45</text>
<text transform="translate(507.55 1429.57) scale(1 1)" font-size="24.6" xml:space="preserve">FEER1.0</text>
<rect x="479.05" y="1426.87" width="22" height="6" fill="#ff0000"/>
<text transform="translate(619.25 1429.87) scale(1 1)" font-size="29.6" xml:space="preserve">0.51</text>
<text transform="translate(507.55 1457.39) scale(1 1)" font-size="24.6" xml:space="preserve">QFED2.4</text>
<rect x="479.05" y="1454.69" width="22" height="6" fill="#f4a460"/>
<text transform="translate(619.25 1457.69) scale(1 1)" font-size="29.6" xml:space="preserve">0.60</text>
</g>
<g>
<rect x="68.95" y="2003" width="23" height="65.75" fill="#bebebe"/>
<rect x="101.57" y="1961.5" width="23" height="107.25" fill="#bebebe"/>
<rect x="134.19" y="1921.25" width="23" height="147.5" fill="#bebebe"/>
<rect x="166.81" y="1995.5" width="23" height="73.25" fill="#bebebe"/>
<rect x="199.43" y="2032.5" width="23" height="36.25" fill="#bebebe"/>
<rect x="232.05" y="2031.25" width="23" height="37.5" fill="#bebebe"/>
<rect x="264.67" y="2040.75" width="23" height="28" fill="#bebebe"/>
<rect x="297.29" y="2038.25" width="23" height="30.5" fill="#bebebe"/>
<rect x="329.91" y="2025" width="23" height="43.75" fill="#bebebe"/>
<rect x="362.53" y="2019.25" width="23" height="49.5" fill="#bebebe"/>
<rect x="395.15" y="2022.5" width="23" height="46.25" fill="#bebebe"/>
<rect x="427.77" y="2021.25" width="23" height="47.5" fill="#bebebe"/>
<clipPath id="c4"><rect x="64.75" y="1736.75" width="407.5" height="332"/></clipPath>
<g clip-path="url(#c4)">
<path d="M72.45 2027L80.25 2019.2L88.05 2027L80.25 2034.8Z" fill="none" stroke="#00ee00" stroke-width="2.4"/>
<path d="M137.69 1980L145.49 1972.2L153.29 1980L145.49 1987.8Z" fill="none" stroke="#00ee00" stroke-width="2.4"/>
<path d="M170.31 2027.5L178.11 2019.7L185.91 2027.5L178.11 2035.3Z" fill="none" stroke="#00ee00" stroke-width="2.4"/>
<path d="M202.93 2045L210.73 2037.2L218.53 2045L210.73 2052.8Z" fill="none" stroke="#00ee00" stroke-width="2.4"/>
<path d="M235.55 2020L243.35 2012.2L251.15 2020L243.35 2027.8Z" fill="none" stroke="#00ee00" stroke-width="2.4"/>
<path d="M268.17 2056.75L275.97 2048.95L283.77 2056.75L275.97 2064.55Z" fill="none" stroke="#00ee00" stroke-width="2.4"/>
<path d="M300.79 2045.5L308.59 2037.7L316.39 2045.5L308.59 2053.3Z" fill="none" stroke="#00ee00" stroke-width="2.4"/>
<path d="M333.41 2025.75L341.21 2017.95L349.01 2025.75L341.21 2033.55Z" fill="none" stroke="#00ee00" stroke-width="2.4"/>
<path d="M431.27 2017.5L439.07 2009.7L446.87 2017.5L439.07 2025.3Z" fill="none" stroke="#00ee00" stroke-width="2.4"/>
<polyline points="80.25,2043.75 112.87,2045 145.49,2044.5 178.11,2050 210.73,2052.5 243.35,2050 275.97,2049.25 308.59,2048.5 341.21,2046.75 373.83,2053 406.45,2058.5 439.07,2054.25" fill="none" stroke="#000000" stroke-width="3.4" stroke-linejoin="miter"/>
<polyline points="80.25,2043.25 112.87,2044.25 145.49,2042.5 178.11,2049.25 210.73,2052 243.35,2049.75 275.97,2049 308.59,2048.25 341.21,2046.5 373.83,2052.75 406.45,2058.25 439.07,2054" fill="none" stroke="#0000ff" stroke-width="3.4" stroke-linejoin="miter"/>
<polyline points="80.25,2043 112.87,2043.75 145.49,2041.25 178.11,2048.75 210.73,2052 243.35,2049.75 275.97,2049 308.59,2048.25 341.21,2046.5 373.83,2052.75 406.45,2058.25 439.07,2054" fill="none" stroke="#00fbff" stroke-width="3.4" stroke-linejoin="miter"/>
<polyline points="80.25,2041.25 112.87,2041.25 145.49,2031.25 178.11,2044.5 210.73,2051.25 243.35,2049.5 275.97,2048.75 308.59,2048 341.21,2046.25 373.83,2052.5 406.45,2058 439.07,2053.75" fill="none" stroke="#2cc830" stroke-width="3.4" stroke-linejoin="miter"/>
<polyline points="80.25,2042.5 112.87,2042.5 145.49,2037 178.11,2047.5 210.73,2051.75 243.35,2049.5 275.97,2048.75 308.59,2048 341.21,2046.25 373.83,2052.5 406.45,2058 439.07,2053.75" fill="none" stroke="#ee82ee" stroke-width="3.4" stroke-linejoin="miter"/>
<polyline points="80.25,2039.5 112.87,2037.5 145.49,2020 178.11,2041.25 210.73,2050.75 243.35,2049.5 275.97,2048.75 308.59,2048 341.21,2046.25 373.83,2052.5 406.45,2058 439.07,2053.75" fill="none" stroke="#ff0000" stroke-width="3.4" stroke-linejoin="miter"/>
<polyline points="80.25,2040 112.87,2038.75 145.49,2023.75 178.11,2041.25 210.73,2050.75 243.35,2049.5 275.97,2048.75 308.59,2048 341.21,2046.25 373.83,2052.5 406.45,2058 439.07,2053.75" fill="none" stroke="#f4a460" stroke-width="3.4" stroke-linejoin="miter"/>
</g>
<rect x="64" y="1736" width="408" height="332.55" fill="none" stroke="#1c1c1c" stroke-width="1.6"/>
<path d="M80.25 1736v-9.8M80.25 2068.55v10M112.87 1736v-9.8M112.87 2068.55v10M145.49 1736v-9.8M145.49 2068.55v10M178.11 1736v-9.8M178.11 2068.55v10M210.73 1736v-9.8M210.73 2068.55v10M243.35 1736v-9.8M243.35 2068.55v10M275.97 1736v-9.8M275.97 2068.55v10M308.59 1736v-9.8M308.59 2068.55v10M341.21 1736v-9.8M341.21 2068.55v10M373.83 1736v-9.8M373.83 2068.55v10M406.45 1736v-9.8M406.45 2068.55v10M439.07 1736v-9.8M439.07 2068.55v10M64 1790.75h4M472 1790.75h-4M64 1846.5h4M472 1846.5h-4M64 1902.25h4M472 1902.25h-4M64 1957.75h4M472 1957.75h-4M64 2013.25h4M472 2013.25h-4" stroke="#1c1c1c" stroke-width="1.4" fill="none"/>
<path d="M64 2054.85h2.3M472 2054.85h-2.3M64 2040.95h2.3M472 2040.95h-2.3M64 2027.05h2.3M472 2027.05h-2.3M64 1999.25h2.3M472 1999.25h-2.3M64 1985.35h2.3M472 1985.35h-2.3M64 1971.45h2.3M472 1971.45h-2.3M64 1943.65h2.3M472 1943.65h-2.3M64 1929.75h2.3M472 1929.75h-2.3M64 1915.85h2.3M472 1915.85h-2.3M64 1888.05h2.3M472 1888.05h-2.3M64 1874.15h2.3M472 1874.15h-2.3M64 1860.25h2.3M472 1860.25h-2.3M64 1832.45h2.3M472 1832.45h-2.3M64 1818.55h2.3M472 1818.55h-2.3M64 1804.65h2.3M472 1804.65h-2.3M64 1776.85h2.3M472 1776.85h-2.3M64 1762.95h2.3M472 1762.95h-2.3M64 1749.05h2.3M472 1749.05h-2.3" stroke="#111" stroke-width="1.1" fill="none"/>
<text transform="translate(56.15 2068.35) scale(1 1)" font-size="29.5" text-anchor="end" xml:space="preserve">0.0</text>
<text transform="translate(56.15 2023.35) scale(1 1)" font-size="29.5" text-anchor="end" xml:space="preserve">0.2</text>
<text transform="translate(56.15 1967.85) scale(1 1)" font-size="29.5" text-anchor="end" xml:space="preserve">0.4</text>
<text transform="translate(56.15 1912.35) scale(1 1)" font-size="29.5" text-anchor="end" xml:space="preserve">0.6</text>
<text transform="translate(56.15 1856.6) scale(1 1)" font-size="29.5" text-anchor="end" xml:space="preserve">0.8</text>
<text transform="translate(56.15 1800.85) scale(1 1)" font-size="29.5" text-anchor="end" xml:space="preserve">1.0</text>
<text transform="translate(77.05 2115.35) scale(1 1)" font-size="29" text-anchor="middle" xml:space="preserve">J</text>
<text transform="translate(113.47 2115.35) scale(1 1)" font-size="29" text-anchor="middle" xml:space="preserve">F</text>
<text transform="translate(146.09 2115.35) scale(1 1)" font-size="29" text-anchor="middle" xml:space="preserve">M</text>
<text transform="translate(178.71 2115.35) scale(1 1)" font-size="29" text-anchor="middle" xml:space="preserve">A</text>
<text transform="translate(211.33 2115.35) scale(1 1)" font-size="29" text-anchor="middle" xml:space="preserve">M</text>
<text transform="translate(240.15 2115.35) scale(1 1)" font-size="29" text-anchor="middle" xml:space="preserve">J</text>
<text transform="translate(272.77 2115.35) scale(1 1)" font-size="29" text-anchor="middle" xml:space="preserve">J</text>
<text transform="translate(309.19 2115.35) scale(1 1)" font-size="29" text-anchor="middle" xml:space="preserve">A</text>
<text transform="translate(341.81 2115.35) scale(1 1)" font-size="29" text-anchor="middle" xml:space="preserve">S</text>
<text transform="translate(374.43 2115.35) scale(1 1)" font-size="29" text-anchor="middle" xml:space="preserve">O</text>
<text transform="translate(407.05 2115.35) scale(1 1)" font-size="29" text-anchor="middle" xml:space="preserve">N</text>
<text transform="translate(439.67 2115.35) scale(1 1)" font-size="29" text-anchor="middle" xml:space="preserve">D</text>
<text transform="translate(257.95 1721.45) scale(1 1)" font-size="36.7" text-anchor="middle" xml:space="preserve">(4) Medellin (Colombia)</text>
<text transform="translate(72.4 1765.35) scale(1 1)" font-size="33.8" textLength="123.75" lengthAdjust="spacing" xml:space="preserve">6.26° N,</text>
<text transform="translate(192.4 1765.35) scale(1 1)" font-size="33.8" textLength="150" lengthAdjust="spacing" xml:space="preserve">75.58°W,</text>
<text transform="translate(352.9 1765.35) scale(1 1)" font-size="33.8" xml:space="preserve">1471</text>
<text transform="translate(458 1765.35) scale(1 1)" font-size="33.8" text-anchor="end" xml:space="preserve">m</text>
<rect x="77.15" y="1783.05" width="12.6" height="25.6" fill="#bebebe"/>
<rect x="77.15" y="1816.55" width="12.6" height="25.4" fill="#5c320c"/>
<text transform="translate(93.05 1802.55) scale(1 1)" font-size="29.3" xml:space="preserve">AERONET-clim</text>
<text transform="translate(93.05 1836.25) scale(1 1)" font-size="29.3" xml:space="preserve">AERONET</text>
<text transform="translate(320.25 1802.55) scale(1 1)" font-size="29.3" xml:space="preserve">( 0.21)</text>
<text transform="translate(613.25 1748.95) scale(1 1)" font-size="29" xml:space="preserve">Ratio</text>
<text transform="translate(507.55 1791.65) scale(1 1)" font-size="24.6" xml:space="preserve">MISR</text>
<path d="M477.45 1792.35L485.45 1784.35L493.45 1792.35L485.45 1800.35Z" fill="none" stroke="#00ee00" stroke-width="2.4"/>
<text transform="translate(507.55 1819.47) scale(1 1)" font-size="24.6" xml:space="preserve">NOBB</text>
<rect x="479.05" y="1815.77" width="22" height="8" fill="#000000"/>
<text transform="translate(507.55 1847.29) scale(1 1)" font-size="24.6" xml:space="preserve">GFED3.1</text>
<rect x="479.05" y="1844.59" width="22" height="6" fill="#0000ff"/>
<text transform="translate(507.55 1875.11) scale(1 1)" font-size="24.6" xml:space="preserve">GFED4s</text>
<rect x="479.05" y="1872.41" width="22" height="6" fill="#00fbff"/>
<text transform="translate(507.55 1902.93) scale(1 1)" font-size="24.6" xml:space="preserve">FINN1.5</text>
<rect x="479.05" y="1900.23" width="22" height="6" fill="#2cc830"/>
<text transform="translate(507.55 1930.75) scale(1 1)" font-size="24.6" xml:space="preserve">GFAS1.2</text>
<rect x="479.05" y="1928.05" width="22" height="6" fill="#ee82ee"/>
<text transform="translate(507.55 1958.57) scale(1 1)" font-size="24.6" xml:space="preserve">FEER1.0</text>
<rect x="479.05" y="1955.87" width="22" height="6" fill="#ff0000"/>
<text transform="translate(507.55 1986.39) scale(1 1)" font-size="24.6" xml:space="preserve">QFED2.4</text>
<rect x="479.05" y="1983.69" width="22" height="6" fill="#f4a460"/>
</g>
<g>
<rect x="68.95" y="2581" width="23" height="15.75" fill="#bebebe"/>
<rect x="101.57" y="2583" width="23" height="13.75" fill="#bebebe"/>
<rect x="134.19" y="2585.5" width="23" height="11.25" fill="#bebebe"/>
<rect x="166.81" y="2585.5" width="23" height="11.25" fill="#bebebe"/>
<rect x="199.43" y="2586" width="23" height="10.75" fill="#bebebe"/>
<rect x="232.05" y="2586" width="23" height="10.75" fill="#bebebe"/>
<rect x="264.67" y="2580.5" width="23" height="16.25" fill="#bebebe"/>
<rect x="297.29" y="2503" width="23" height="93.75" fill="#bebebe"/>
<rect x="329.91" y="2449.25" width="23" height="147.5" fill="#bebebe"/>
<rect x="362.53" y="2530.5" width="23" height="66.25" fill="#bebebe"/>
<rect x="395.15" y="2554.25" width="23" height="42.5" fill="#bebebe"/>
<rect x="427.77" y="2562.25" width="23" height="34.5" fill="#bebebe"/>
<rect x="76.45" y="2581.75" width="8" height="15" fill="#5c320c"/>
<rect x="206.93" y="2586" width="8" height="10.75" fill="#5c320c"/>
<rect x="239.55" y="2587.5" width="8" height="9.25" fill="#5c320c"/>
<rect x="272.17" y="2588.5" width="8" height="8.25" fill="#5c320c"/>
<rect x="304.79" y="2560.5" width="8" height="36.25" fill="#5c320c"/>
<rect x="337.41" y="2521.75" width="8" height="75" fill="#5c320c"/>
<rect x="370.03" y="2517.25" width="8" height="79.5" fill="#5c320c"/>
<rect x="402.65" y="2564.25" width="8" height="32.5" fill="#5c320c"/>
<rect x="435.27" y="2581.75" width="8" height="15" fill="#5c320c"/>
<clipPath id="c5"><rect x="64.75" y="2264.75" width="407.5" height="332"/></clipPath>
<g clip-path="url(#c5)">
<path d="M72.45 2564.25L80.25 2556.45L88.05 2564.25L80.25 2572.05Z" fill="none" stroke="#00ee00" stroke-width="2.4"/>
<path d="M105.07 2562.5L112.87 2554.7L120.67 2562.5L112.87 2570.3Z" fill="none" stroke="#00ee00" stroke-width="2.4"/>
<path d="M137.69 2580L145.49 2572.2L153.29 2580L145.49 2587.8Z" fill="none" stroke="#00ee00" stroke-width="2.4"/>
<path d="M170.31 2567.5L178.11 2559.7L185.91 2567.5L178.11 2575.3Z" fill="none" stroke="#00ee00" stroke-width="2.4"/>
<path d="M202.93 2590.5L210.73 2582.7L218.53 2590.5L210.73 2598.3Z" fill="none" stroke="#00ee00" stroke-width="2.4"/>
<path d="M235.55 2586.75L243.35 2578.95L251.15 2586.75L243.35 2594.55Z" fill="none" stroke="#00ee00" stroke-width="2.4"/>
<path d="M268.17 2574.25L275.97 2566.45L283.77 2574.25L275.97 2582.05Z" fill="none" stroke="#00ee00" stroke-width="2.4"/>
<path d="M300.79 2573.5L308.59 2565.7L316.39 2573.5L308.59 2581.3Z" fill="none" stroke="#00ee00" stroke-width="2.4"/>
<path d="M333.41 2556.75L341.21 2548.95L349.01 2556.75L341.21 2564.55Z" fill="none" stroke="#00ee00" stroke-width="2.4"/>
<path d="M366.03 2568L373.83 2560.2L381.63 2568L373.83 2575.8Z" fill="none" stroke="#00ee00" stroke-width="2.4"/>
<path d="M398.65 2573L406.45 2565.2L414.25 2573L406.45 2580.8Z" fill="none" stroke="#00ee00" stroke-width="2.4"/>
<path d="M431.27 2578L439.07 2570.2L446.87 2578L439.07 2585.8Z" fill="none" stroke="#00ee00" stroke-width="2.4"/>
<polyline points="80.25,2588.5 112.87,2589.25 145.49,2589.75 178.11,2589.75 210.73,2588.75 243.35,2588.75 275.97,2590.5 308.59,2588.5 341.21,2585.5 373.83,2585.5 406.45,2586.75 439.07,2588.5" fill="none" stroke="#000000" stroke-width="3.4" stroke-linejoin="miter"/>
<polyline points="80.25,2588.5 112.87,2589.25 145.49,2589.75 178.11,2589.75 210.73,2588.75 243.35,2588.75 275.97,2590 308.59,2579.25 341.21,2566.75 373.83,2576.75 406.45,2584.25 439.07,2588" fill="none" stroke="#0000ff" stroke-width="3.4" stroke-linejoin="miter"/>
<polyline points="80.25,2588.5 112.87,2589.25 145.49,2589.75 178.11,2589.75 210.73,2588.75 243.35,2588.75 275.97,2590 308.59,2583 341.21,2568 373.83,2579.25 406.45,2585 439.07,2588.5" fill="none" stroke="#00fbff" stroke-width="3.4" stroke-linejoin="miter"/>
<polyline points="80.25,2588.5 112.87,2589.25 145.49,2589.75 178.11,2589.75 210.73,2588.75 243.35,2588.75 275.97,2589.25 308.59,2580.5 341.21,2556 373.83,2563 406.45,2579.25 439.07,2586.75" fill="none" stroke="#2cc830" stroke-width="3.4" stroke-linejoin="miter"/>
<polyline points="80.25,2588.5 112.87,2589.25 145.49,2589.75 178.11,2589.75 210.73,2588.75 243.35,2588.75 275.97,2589.75 308.59,2583 341.21,2564.25 373.83,2566.75 406.45,2581 439.07,2587.5" fill="none" stroke="#ee82ee" stroke-width="3.4" stroke-linejoin="miter"/>
<polyline points="80.25,2588.5 112.87,2589.25 145.49,2589.75 178.11,2589.75 210.73,2588.75 243.35,2588.75 275.97,2588 308.59,2577.5 341.21,2538 373.83,2541.75 406.45,2576 439.07,2585.5" fill="none" stroke="#ff0000" stroke-width="3.4" stroke-linejoin="miter"/>
<polyline points="80.25,2588.5 112.87,2589.25 145.49,2589.75 178.11,2589.75 210.73,2588.5 243.35,2588.5 275.97,2586.25 308.59,2575 341.21,2527.5 373.83,2535.5 406.45,2573.5 439.07,2584.25" fill="none" stroke="#f4a460" stroke-width="3.4" stroke-linejoin="miter"/>
</g>
<rect x="64" y="2264" width="408" height="332.55" fill="none" stroke="#1c1c1c" stroke-width="1.6"/>
<path d="M80.25 2264v-9.8M80.25 2596.55v10M112.87 2264v-9.8M112.87 2596.55v10M145.49 2264v-9.8M145.49 2596.55v10M178.11 2264v-9.8M178.11 2596.55v10M210.73 2264v-9.8M210.73 2596.55v10M243.35 2264v-9.8M243.35 2596.55v10M275.97 2264v-9.8M275.97 2596.55v10M308.59 2264v-9.8M308.59 2596.55v10M341.21 2264v-9.8M341.21 2596.55v10M373.83 2264v-9.8M373.83 2596.55v10M406.45 2264v-9.8M406.45 2596.55v10M439.07 2264v-9.8M439.07 2596.55v10M64 2273.5h4M472 2273.5h-4M64 2354.25h4M472 2354.25h-4M64 2435h4M472 2435h-4M64 2515.5h4M472 2515.5h-4" stroke="#1c1c1c" stroke-width="1.4" fill="none"/>
<path d="M64 2580.59h2.3M472 2580.59h-2.3M64 2564.43h2.3M472 2564.43h-2.3M64 2548.26h2.3M472 2548.26h-2.3M64 2532.1h2.3M472 2532.1h-2.3M64 2499.78h2.3M472 2499.78h-2.3M64 2483.61h2.3M472 2483.61h-2.3M64 2467.45h2.3M472 2467.45h-2.3M64 2451.29h2.3M472 2451.29h-2.3M64 2418.96h2.3M472 2418.96h-2.3M64 2402.8h2.3M472 2402.8h-2.3M64 2386.64h2.3M472 2386.64h-2.3M64 2370.47h2.3M472 2370.47h-2.3M64 2338.15h2.3M472 2338.15h-2.3M64 2321.99h2.3M472 2321.99h-2.3M64 2305.82h2.3M472 2305.82h-2.3M64 2289.66h2.3M472 2289.66h-2.3" stroke="#111" stroke-width="1.1" fill="none"/>
<text transform="translate(56.15 2596.35) scale(1 1)" font-size="29.5" text-anchor="end" xml:space="preserve">0.0</text>
<text transform="translate(56.15 2525.6) scale(1 1)" font-size="29.5" text-anchor="end" xml:space="preserve">0.5</text>
<text transform="translate(56.15 2445.1) scale(1 1)" font-size="29.5" text-anchor="end" xml:space="preserve">1.0</text>
<text transform="translate(56.15 2364.35) scale(1 1)" font-size="29.5" text-anchor="end" xml:space="preserve">1.5</text>
<text transform="translate(56.15 2283.6) scale(1 1)" font-size="29.5" text-anchor="end" xml:space="preserve">2.0</text>
<text transform="translate(77.05 2643.35) scale(1 1)" font-size="29" text-anchor="middle" xml:space="preserve">J</text>
<text transform="translate(113.47 2643.35) scale(1 1)" font-size="29" text-anchor="middle" xml:space="preserve">F</text>
<text transform="translate(146.09 2643.35) scale(1 1)" font-size="29" text-anchor="middle" xml:space="preserve">M</text>
<text transform="translate(178.71 2643.35) scale(1 1)" font-size="29" text-anchor="middle" xml:space="preserve">A</text>
<text transform="translate(211.33 2643.35) scale(1 1)" font-size="29" text-anchor="middle" xml:space="preserve">M</text>
<text transform="translate(240.15 2643.35) scale(1 1)" font-size="29" text-anchor="middle" xml:space="preserve">J</text>
<text transform="translate(272.77 2643.35) scale(1 1)" font-size="29" text-anchor="middle" xml:space="preserve">J</text>
<text transform="translate(309.19 2643.35) scale(1 1)" font-size="29" text-anchor="middle" xml:space="preserve">A</text>
<text transform="translate(341.81 2643.35) scale(1 1)" font-size="29" text-anchor="middle" xml:space="preserve">S</text>
<text transform="translate(374.43 2643.35) scale(1 1)" font-size="29" text-anchor="middle" xml:space="preserve">O</text>
<text transform="translate(407.05 2643.35) scale(1 1)" font-size="29" text-anchor="middle" xml:space="preserve">N</text>
<text transform="translate(439.67 2643.35) scale(1 1)" font-size="29" text-anchor="middle" xml:space="preserve">D</text>
<text transform="translate(257.95 2249.45) scale(1 1)" font-size="36.7" text-anchor="middle" xml:space="preserve">(5) Alta_Floresta (Brazil)</text>
<text transform="translate(75.4 2293.35) scale(1 1)" font-size="33.8" textLength="118.25" lengthAdjust="spacing" xml:space="preserve">9.87° S,</text>
<text transform="translate(195.4 2293.35) scale(1 1)" font-size="33.8" textLength="143.25" lengthAdjust="spacing" xml:space="preserve">56.10°W,</text>
<text transform="translate(357.9 2293.35) scale(1 1)" font-size="33.8" xml:space="preserve">277</text>
<text transform="translate(446.75 2293.35) scale(1 1)" font-size="33.8" text-anchor="end" xml:space="preserve">m</text>
<rect x="77.15" y="2311.05" width="12.6" height="25.6" fill="#bebebe"/>
<rect x="77.15" y="2344.55" width="12.6" height="25.4" fill="#5c320c"/>
<text transform="translate(93.05 2330.55) scale(1 1)" font-size="29.3" xml:space="preserve">AERONET-clim</text>
<text transform="translate(93.05 2364.25) scale(1 1)" font-size="29.3" xml:space="preserve">AERONET</text>
<text transform="translate(320.25 2330.55) scale(1 1)" font-size="29.3" xml:space="preserve">( 0.25)</text>
<text transform="translate(320.25 2364.25) scale(1 1)" font-size="29.3" xml:space="preserve">( 0.20)</text>
<text transform="translate(613.25 2276.95) scale(1 1)" font-size="29" xml:space="preserve">Ratio</text>
<text transform="translate(507.55 2319.65) scale(1 1)" font-size="24.6" xml:space="preserve">MISR</text>
<path d="M477.45 2320.35L485.45 2312.35L493.45 2320.35L485.45 2328.35Z" fill="none" stroke="#00ee00" stroke-width="2.4"/>
<text transform="translate(619.25 2319.95) scale(1 1)" font-size="29.6" xml:space="preserve">0.69</text>
<text transform="translate(507.55 2347.47) scale(1 1)" font-size="24.6" xml:space="preserve">NOBB</text>
<rect x="479.05" y="2343.77" width="22" height="8" fill="#000000"/>
<text transform="translate(619.25 2347.77) scale(1 1)" font-size="29.6" xml:space="preserve">0.27</text>
<text transform="translate(507.55 2375.29) scale(1 1)" font-size="24.6" xml:space="preserve">GFED3.1</text>
<rect x="479.05" y="2372.59" width="22" height="6" fill="#0000ff"/>
<text transform="translate(619.25 2375.59) scale(1 1)" font-size="29.6" xml:space="preserve">0.45</text>
<text transform="translate(507.55 2403.11) scale(1 1)" font-size="24.6" xml:space="preserve">GFED4s</text>
<rect x="479.05" y="2400.41" width="22" height="6" fill="#00fbff"/>
<text transform="translate(619.25 2403.41) scale(1 1)" font-size="29.6" xml:space="preserve">0.41</text>
<text transform="translate(507.55 2430.93) scale(1 1)" font-size="24.6" xml:space="preserve">FINN1.5</text>
<rect x="479.05" y="2428.23" width="22" height="6" fill="#2cc830"/>
<text transform="translate(619.25 2431.23) scale(1 1)" font-size="29.6" xml:space="preserve">0.55</text>
<text transform="translate(507.55 2458.75) scale(1 1)" font-size="24.6" xml:space="preserve">GFAS1.2</text>
<rect x="479.05" y="2456.05" width="22" height="6" fill="#ee82ee"/>
<text transform="translate(619.25 2459.05) scale(1 1)" font-size="29.6" xml:space="preserve">0.47</text>
<text transform="translate(507.55 2486.57) scale(1 1)" font-size="24.6" xml:space="preserve">FEER1.0</text>
<rect x="479.05" y="2483.87" width="22" height="6" fill="#ff0000"/>
<text transform="translate(619.25 2486.87) scale(1 1)" font-size="29.6" xml:space="preserve">0.70</text>
<text transform="translate(507.55 2514.39) scale(1 1)" font-size="24.6" xml:space="preserve">QFED2.4</text>
<rect x="479.05" y="2511.69" width="22" height="6" fill="#f4a460"/>
<text transform="translate(619.25 2514.69) scale(1 1)" font-size="29.6" xml:space="preserve">0.80</text>
</g>
<g>
<rect x="753.7" y="448" width="23" height="36.25" fill="#bebebe"/>
<rect x="786.32" y="435" width="23" height="49.25" fill="#bebebe"/>
<rect x="818.94" y="428" width="23" height="56.25" fill="#bebebe"/>
<rect x="851.56" y="425.5" width="23" height="58.75" fill="#bebebe"/>
<rect x="884.18" y="429.5" width="23" height="54.75" fill="#bebebe"/>
<rect x="916.8" y="438.25" width="23" height="46" fill="#bebebe"/>
<rect x="949.42" y="422" width="23" height="62.25" fill="#bebebe"/>
<rect x="982.04" y="410.75" width="23" height="73.5" fill="#bebebe"/>
<rect x="1014.66" y="429.5" width="23" height="54.75" fill="#bebebe"/>
<rect x="1047.28" y="441.25" width="23" height="43" fill="#bebebe"/>
<rect x="1079.9" y="448.25" width="23" height="36" fill="#bebebe"/>
<rect x="1112.52" y="449.5" width="23" height="34.75" fill="#bebebe"/>
<rect x="761.2" y="453.75" width="8" height="30.5" fill="#5c320c"/>
<rect x="793.82" y="438.25" width="8" height="46" fill="#5c320c"/>
<rect x="826.44" y="405.5" width="8" height="78.75" fill="#5c320c"/>
<rect x="859.06" y="384.5" width="8" height="99.75" fill="#5c320c"/>
<rect x="891.68" y="422" width="8" height="62.25" fill="#5c320c"/>
<rect x="924.3" y="434.25" width="8" height="50" fill="#5c320c"/>
<rect x="956.92" y="442.5" width="8" height="41.75" fill="#5c320c"/>
<rect x="989.54" y="401.25" width="8" height="83" fill="#5c320c"/>
<rect x="1022.16" y="399.5" width="8" height="84.75" fill="#5c320c"/>
<rect x="1054.78" y="423.75" width="8" height="60.5" fill="#5c320c"/>
<rect x="1087.4" y="427" width="8" height="57.25" fill="#5c320c"/>
<clipPath id="c6"><rect x="749.25" y="151.75" width="407.5" height="332.5"/></clipPath>
<g clip-path="url(#c6)">
<path d="M757.2 427L765 419.2L772.8 427L765 434.8Z" fill="none" stroke="#00ee00" stroke-width="2.4"/>
<path d="M789.82 389.5L797.62 381.7L805.42 389.5L797.62 397.3Z" fill="none" stroke="#00ee00" stroke-width="2.4"/>
<path d="M822.44 423L830.24 415.2L838.04 423L830.24 430.8Z" fill="none" stroke="#00ee00" stroke-width="2.4"/>
<path d="M855.06 311.25L862.86 303.45L870.66 311.25L862.86 319.05Z" fill="none" stroke="#00ee00" stroke-width="2.4"/>
<path d="M887.68 262L895.48 254.2L903.28 262L895.48 269.8Z" fill="none" stroke="#00ee00" stroke-width="2.4"/>
<path d="M920.3 323.25L928.1 315.45L935.9 323.25L928.1 331.05Z" fill="none" stroke="#00ee00" stroke-width="2.4"/>
<path d="M952.92 317L960.72 309.2L968.52 317L960.72 324.8Z" fill="none" stroke="#00ee00" stroke-width="2.4"/>
<path d="M985.54 358.75L993.34 350.95L1001.14 358.75L993.34 366.55Z" fill="none" stroke="#00ee00" stroke-width="2.4"/>
<path d="M1018.16 367.5L1025.96 359.7L1033.76 367.5L1025.96 375.3Z" fill="none" stroke="#00ee00" stroke-width="2.4"/>
<path d="M1050.78 367.5L1058.58 359.7L1066.38 367.5L1058.58 375.3Z" fill="none" stroke="#00ee00" stroke-width="2.4"/>
<path d="M1083.4 407.5L1091.2 399.7L1099 407.5L1091.2 415.3Z" fill="none" stroke="#00ee00" stroke-width="2.4"/>
<path d="M1116.02 441.25L1123.82 433.45L1131.62 441.25L1123.82 449.05Z" fill="none" stroke="#00ee00" stroke-width="2.4"/>
<polyline points="765,415 797.62,407 830.24,392.5 862.86,383 895.48,420 928.1,423.25 960.72,443 993.34,386.25 1025.96,383 1058.58,381.75 1091.2,387 1123.82,399.5" fill="none" stroke="#000000" stroke-width="3.4" stroke-linejoin="miter"/>
<polyline points="765,415 797.62,407 830.24,391.75 862.86,380 895.48,418.75 928.1,422.5 960.72,440 993.34,385 1025.96,382.5 1058.58,381.25 1091.2,387 1123.82,399.5" fill="none" stroke="#0000ff" stroke-width="3.4" stroke-linejoin="miter"/>
<polyline points="765,415 797.62,407 830.24,391.25 862.86,378 895.48,418.25 928.1,422 960.72,437.5 993.34,380 1025.96,382 1058.58,381.25 1091.2,387 1123.82,399.5" fill="none" stroke="#00fbff" stroke-width="3.4" stroke-linejoin="miter"/>
<polyline points="765,415 797.62,407 830.24,392 862.86,381.25 895.48,419.5 928.1,423 960.72,442 993.34,385.5 1025.96,382.5 1058.58,381.25 1091.2,387 1123.82,399.5" fill="none" stroke="#2cc830" stroke-width="3.4" stroke-linejoin="miter"/>
<polyline points="765,415.5 797.62,407.5 830.24,391.25 862.86,376.25 895.48,417.5 928.1,422 960.72,438.75 993.34,383.75 1025.96,381.75 1058.58,381.25 1091.2,387 1123.82,399.5" fill="none" stroke="#ee82ee" stroke-width="3.4" stroke-linejoin="miter"/>
<polyline points="765,414.25 797.62,406.25 830.24,387.5 862.86,365.5 895.48,414.5 928.1,420 960.72,441.25 993.34,377.5 1025.96,380 1058.58,378.75 1091.2,385.5 1123.82,398.75" fill="none" stroke="#ff0000" stroke-width="3.4" stroke-linejoin="miter"/>
<polyline points="765,413 797.62,405 830.24,385 862.86,358.75 895.48,407 928.1,412.5 960.72,432.5 993.34,370 1025.96,376.25 1058.58,376.25 1091.2,383.75 1123.82,397" fill="none" stroke="#f4a460" stroke-width="3.4" stroke-linejoin="miter"/>
</g>
<rect x="748.5" y="151" width="408" height="333.05" fill="none" stroke="#1c1c1c" stroke-width="1.6"/>
<path d="M765 151v-9.8M765 484.05v10M797.62 151v-9.8M797.62 484.05v10M830.24 151v-9.8M830.24 484.05v10M862.86 151v-9.8M862.86 484.05v10M895.48 151v-9.8M895.48 484.05v10M928.1 151v-9.8M928.1 484.05v10M960.72 151v-9.8M960.72 484.05v10M993.34 151v-9.8M993.34 484.05v10M1025.96 151v-9.8M1025.96 484.05v10M1058.58 151v-9.8M1058.58 484.05v10M1091.2 151v-9.8M1091.2 484.05v10M1123.82 151v-9.8M1123.82 484.05v10M748.5 207h4M1156.5 207h-4M748.5 299.25h4M1156.5 299.25h-4M748.5 391.5h4M1156.5 391.5h-4" stroke="#1c1c1c" stroke-width="1.4" fill="none"/>
<path d="M748.5 461.15h2.3M1156.5 461.15h-2.3M748.5 438.04h2.3M1156.5 438.04h-2.3M748.5 414.94h2.3M1156.5 414.94h-2.3M748.5 368.73h2.3M1156.5 368.73h-2.3M748.5 345.62h2.3M1156.5 345.62h-2.3M748.5 322.52h2.3M1156.5 322.52h-2.3M748.5 276.31h2.3M1156.5 276.31h-2.3M748.5 253.21h2.3M1156.5 253.21h-2.3M748.5 230.1h2.3M1156.5 230.1h-2.3M748.5 183.9h2.3M1156.5 183.9h-2.3M748.5 160.79h2.3M1156.5 160.79h-2.3" stroke="#111" stroke-width="1.1" fill="none"/>
<text transform="translate(740.65 483.85) scale(1 1)" font-size="29.5" text-anchor="end" xml:space="preserve">0.0</text>
<text transform="translate(740.65 401.6) scale(1 1)" font-size="29.5" text-anchor="end" xml:space="preserve">0.2</text>
<text transform="translate(740.65 309.35) scale(1 1)" font-size="29.5" text-anchor="end" xml:space="preserve">0.4</text>
<text transform="translate(740.65 217.1) scale(1 1)" font-size="29.5" text-anchor="end" xml:space="preserve">0.6</text>
<text transform="translate(761.8 530.85) scale(1 1)" font-size="29" text-anchor="middle" xml:space="preserve">J</text>
<text transform="translate(798.22 530.85) scale(1 1)" font-size="29" text-anchor="middle" xml:space="preserve">F</text>
<text transform="translate(830.84 530.85) scale(1 1)" font-size="29" text-anchor="middle" xml:space="preserve">M</text>
<text transform="translate(863.46 530.85) scale(1 1)" font-size="29" text-anchor="middle" xml:space="preserve">A</text>
<text transform="translate(896.08 530.85) scale(1 1)" font-size="29" text-anchor="middle" xml:space="preserve">M</text>
<text transform="translate(924.9 530.85) scale(1 1)" font-size="29" text-anchor="middle" xml:space="preserve">J</text>
<text transform="translate(957.52 530.85) scale(1 1)" font-size="29" text-anchor="middle" xml:space="preserve">J</text>
<text transform="translate(993.94 530.85) scale(1 1)" font-size="29" text-anchor="middle" xml:space="preserve">A</text>
<text transform="translate(1026.56 530.85) scale(1 1)" font-size="29" text-anchor="middle" xml:space="preserve">S</text>
<text transform="translate(1059.18 530.85) scale(1 1)" font-size="29" text-anchor="middle" xml:space="preserve">O</text>
<text transform="translate(1091.8 530.85) scale(1 1)" font-size="29" text-anchor="middle" xml:space="preserve">N</text>
<text transform="translate(1124.42 530.85) scale(1 1)" font-size="29" text-anchor="middle" xml:space="preserve">D</text>
<text transform="translate(942.45 136.45) scale(1 1)" font-size="36.7" text-anchor="middle" xml:space="preserve">(6) Toravere (Estonia)</text>
<text transform="translate(759.4 180.35) scale(1 1)" font-size="33.8" textLength="129.5" lengthAdjust="spacing" xml:space="preserve">58.26°N,</text>
<text transform="translate(894.4 180.35) scale(1 1)" font-size="33.8" textLength="132" lengthAdjust="spacing" xml:space="preserve">26.47°E,</text>
<text transform="translate(1038.15 180.35) scale(1 1)" font-size="33.8" xml:space="preserve">85</text>
<text transform="translate(1108.25 180.35) scale(1 1)" font-size="33.8" text-anchor="end" xml:space="preserve">m</text>
<rect x="761.65" y="198.05" width="12.6" height="25.6" fill="#bebebe"/>
<rect x="761.65" y="231.55" width="12.6" height="25.4" fill="#5c320c"/>
<text transform="translate(777.55 217.55) scale(1 1)" font-size="29.3" xml:space="preserve">AERONET-clim</text>
<text transform="translate(777.55 251.25) scale(1 1)" font-size="29.3" xml:space="preserve">AERONET</text>
<text transform="translate(1004.75 217.55) scale(1 1)" font-size="29.3" xml:space="preserve">( 0.11)</text>
<text transform="translate(1004.75 251.25) scale(1 1)" font-size="29.3" xml:space="preserve">( 0.14)</text>
<text transform="translate(1297.75 163.95) scale(1 1)" font-size="29" xml:space="preserve">Ratio</text>
<text transform="translate(1192.05 206.65) scale(1 1)" font-size="24.6" xml:space="preserve">MISR</text>
<path d="M1161.95 207.35L1169.95 199.35L1177.95 207.35L1169.95 215.35Z" fill="none" stroke="#00ee00" stroke-width="2.4"/>
<text transform="translate(1303.75 206.95) scale(1 1)" font-size="29.6" xml:space="preserve">1.96</text>
<text transform="translate(1192.05 234.47) scale(1 1)" font-size="24.6" xml:space="preserve">NOBB</text>
<rect x="1163.55" y="230.77" width="22" height="8" fill="#000000"/>
<text transform="translate(1303.75 234.77) scale(1 1)" font-size="29.6" xml:space="preserve">1.30</text>
<text transform="translate(1192.05 262.29) scale(1 1)" font-size="24.6" xml:space="preserve">GFED3.1</text>
<rect x="1163.55" y="259.59" width="22" height="6" fill="#0000ff"/>
<text transform="translate(1303.75 262.59) scale(1 1)" font-size="29.6" xml:space="preserve">1.33</text>
<text transform="translate(1192.05 290.11) scale(1 1)" font-size="24.6" xml:space="preserve">GFED4s</text>
<rect x="1163.55" y="287.41" width="22" height="6" fill="#00fbff"/>
<text transform="translate(1303.75 290.41) scale(1 1)" font-size="29.6" xml:space="preserve">1.34</text>
<text transform="translate(1192.05 317.93) scale(1 1)" font-size="24.6" xml:space="preserve">FINN1.5</text>
<rect x="1163.55" y="315.23" width="22" height="6" fill="#2cc830"/>
<text transform="translate(1303.75 318.23) scale(1 1)" font-size="29.6" xml:space="preserve">1.31</text>
<text transform="translate(1192.05 345.75) scale(1 1)" font-size="24.6" xml:space="preserve">GFAS1.2</text>
<rect x="1163.55" y="343.05" width="22" height="6" fill="#ee82ee"/>
<text transform="translate(1303.75 346.05) scale(1 1)" font-size="29.6" xml:space="preserve">1.31</text>
<text transform="translate(1192.05 373.57) scale(1 1)" font-size="24.6" xml:space="preserve">FEER1.0</text>
<rect x="1163.55" y="370.87" width="22" height="6" fill="#ff0000"/>
<text transform="translate(1303.75 373.87) scale(1 1)" font-size="29.6" xml:space="preserve">1.37</text>
<text transform="translate(1192.05 401.39) scale(1 1)" font-size="24.6" xml:space="preserve">QFED2.4</text>
<rect x="1163.55" y="398.69" width="22" height="6" fill="#f4a460"/>
<text transform="translate(1303.75 401.69) scale(1 1)" font-size="29.6" xml:space="preserve">1.44</text>
</g>
<g>
<rect x="753.7" y="971.75" width="23" height="40.5" fill="#bebebe"/>
<rect x="786.32" y="957.5" width="23" height="54.75" fill="#bebebe"/>
<rect x="818.94" y="953" width="23" height="59.25" fill="#bebebe"/>
<rect x="851.56" y="932.25" width="23" height="80" fill="#bebebe"/>
<rect x="884.18" y="935" width="23" height="77.25" fill="#bebebe"/>
<rect x="916.8" y="926" width="23" height="86.25" fill="#bebebe"/>
<rect x="949.42" y="922.5" width="23" height="89.75" fill="#bebebe"/>
<rect x="982.04" y="914.75" width="23" height="97.5" fill="#bebebe"/>
<rect x="1014.66" y="940.5" width="23" height="71.75" fill="#bebebe"/>
<rect x="1047.28" y="954.75" width="23" height="57.5" fill="#bebebe"/>
<rect x="1079.9" y="966.25" width="23" height="46" fill="#bebebe"/>
<rect x="1112.52" y="973.75" width="23" height="38.5" fill="#bebebe"/>
<rect x="761.2" y="975.5" width="8" height="36.75" fill="#5c320c"/>
<rect x="793.82" y="950.5" width="8" height="61.75" fill="#5c320c"/>
<rect x="826.44" y="944.25" width="8" height="68" fill="#5c320c"/>
<rect x="859.06" y="911.75" width="8" height="100.5" fill="#5c320c"/>
<rect x="891.68" y="941.75" width="8" height="70.5" fill="#5c320c"/>
<rect x="924.3" y="938" width="8" height="74.25" fill="#5c320c"/>
<rect x="956.92" y="941.75" width="8" height="70.5" fill="#5c320c"/>
<rect x="989.54" y="887.5" width="8" height="124.75" fill="#5c320c"/>
<rect x="1022.16" y="919.25" width="8" height="93" fill="#5c320c"/>
<rect x="1054.78" y="951.75" width="8" height="60.5" fill="#5c320c"/>
<rect x="1087.4" y="953.75" width="8" height="58.5" fill="#5c320c"/>
<rect x="1120.02" y="975.5" width="8" height="36.75" fill="#5c320c"/>
<clipPath id="c7"><rect x="749.25" y="679.75" width="407.5" height="332.5"/></clipPath>
<g clip-path="url(#c7)">
<path d="M757.2 905.5L765 897.7L772.8 905.5L765 913.3Z" fill="none" stroke="#00ee00" stroke-width="2.4"/>
<path d="M789.82 951L797.62 943.2L805.42 951L797.62 958.8Z" fill="none" stroke="#00ee00" stroke-width="2.4"/>
<path d="M822.44 907.25L830.24 899.45L838.04 907.25L830.24 915.05Z" fill="none" stroke="#00ee00" stroke-width="2.4"/>
<path d="M855.06 891.25L862.86 883.45L870.66 891.25L862.86 899.05Z" fill="none" stroke="#00ee00" stroke-width="2.4"/>
<path d="M887.68 790L895.48 782.2L903.28 790L895.48 797.8Z" fill="none" stroke="#00ee00" stroke-width="2.4"/>
<path d="M920.3 853L928.1 845.2L935.9 853L928.1 860.8Z" fill="none" stroke="#00ee00" stroke-width="2.4"/>
<path d="M952.92 834.75L960.72 826.95L968.52 834.75L960.72 842.55Z" fill="none" stroke="#00ee00" stroke-width="2.4"/>
<path d="M985.54 846L993.34 838.2L1001.14 846L993.34 853.8Z" fill="none" stroke="#00ee00" stroke-width="2.4"/>
<path d="M1018.16 875L1025.96 867.2L1033.76 875L1025.96 882.8Z" fill="none" stroke="#00ee00" stroke-width="2.4"/>
<path d="M1050.78 951.75L1058.58 943.95L1066.38 951.75L1058.58 959.55Z" fill="none" stroke="#00ee00" stroke-width="2.4"/>
<path d="M1083.4 944.25L1091.2 936.45L1099 944.25L1091.2 952.05Z" fill="none" stroke="#00ee00" stroke-width="2.4"/>
<path d="M1116.02 948L1123.82 940.2L1131.62 948L1123.82 955.8Z" fill="none" stroke="#00ee00" stroke-width="2.4"/>
<polyline points="765,976.75 797.62,950 830.24,943.25 862.86,918.25 895.48,941.25 928.1,955.75 960.72,974.75 993.34,939.75 1025.96,955.25 1058.58,942.75 1091.2,932 1123.82,954.25" fill="none" stroke="#000000" stroke-width="3.4" stroke-linejoin="miter"/>
<polyline points="765,976.5 797.62,949.75 830.24,943 862.86,918 895.48,941 928.1,955.5 960.72,974.5 993.34,939.5 1025.96,955 1058.58,942.5 1091.2,931.75 1123.82,954" fill="none" stroke="#0000ff" stroke-width="3.4" stroke-linejoin="miter"/>
<polyline points="765,976.5 797.62,949.75 830.24,943 862.86,918 895.48,941 928.1,955.5 960.72,974.5 993.34,939.5 1025.96,955 1058.58,942.5 1091.2,931.75 1123.82,954" fill="none" stroke="#00fbff" stroke-width="3.4" stroke-linejoin="miter"/>
<polyline points="765,976.5 797.62,949.75 830.24,943 862.86,918 895.48,941 928.1,955.5 960.72,974.5 993.34,939.5 1025.96,955 1058.58,942.5 1091.2,931.75 1123.82,954" fill="none" stroke="#2cc830" stroke-width="3.4" stroke-linejoin="miter"/>
<polyline points="765,976.5 797.62,949.75 830.24,943 862.86,918 895.48,941 928.1,955.5 960.72,974.5 993.34,939 1025.96,954.75 1058.58,942.5 1091.2,931.75 1123.82,954" fill="none" stroke="#ee82ee" stroke-width="3.4" stroke-linejoin="miter"/>
<polyline points="765,975.75 797.62,949 830.24,942 862.86,916 895.48,939.5 928.1,954 960.72,972.25 993.34,935.5 1025.96,948.5 1058.58,941.5 1091.2,931 1123.82,953" fill="none" stroke="#ff0000" stroke-width="3.4" stroke-linejoin="miter"/>
<polyline points="765,975 797.62,948 830.24,941 862.86,914.25 895.48,938 928.1,952.5 960.72,970.5 993.34,933 1025.96,945 1058.58,940.5 1091.2,930 1123.82,951.75" fill="none" stroke="#f4a460" stroke-width="3.4" stroke-linejoin="miter"/>
</g>
<rect x="748.5" y="679" width="408" height="333.05" fill="none" stroke="#1c1c1c" stroke-width="1.6"/>
<path d="M765 679v-9.8M765 1012.05v10M797.62 679v-9.8M797.62 1012.05v10M830.24 679v-9.8M830.24 1012.05v10M862.86 679v-9.8M862.86 1012.05v10M895.48 679v-9.8M895.48 1012.05v10M928.1 679v-9.8M928.1 1012.05v10M960.72 679v-9.8M960.72 1012.05v10M993.34 679v-9.8M993.34 1012.05v10M1025.96 679v-9.8M1025.96 1012.05v10M1058.58 679v-9.8M1058.58 1012.05v10M1091.2 679v-9.8M1091.2 1012.05v10M1123.82 679v-9.8M1123.82 1012.05v10M748.5 706.75h4M1156.5 706.75h-4M748.5 768h4M1156.5 768h-4M748.5 829h4M1156.5 829h-4M748.5 890h4M1156.5 890h-4M748.5 951h4M1156.5 951h-4" stroke="#1c1c1c" stroke-width="1.4" fill="none"/>
<path d="M748.5 996.98h2.3M1156.5 996.98h-2.3M748.5 981.7h2.3M1156.5 981.7h-2.3M748.5 966.42h2.3M1156.5 966.42h-2.3M748.5 935.88h2.3M1156.5 935.88h-2.3M748.5 920.6h2.3M1156.5 920.6h-2.3M748.5 905.33h2.3M1156.5 905.33h-2.3M748.5 874.77h2.3M1156.5 874.77h-2.3M748.5 859.5h2.3M1156.5 859.5h-2.3M748.5 844.23h2.3M1156.5 844.23h-2.3M748.5 813.67h2.3M1156.5 813.67h-2.3M748.5 798.4h2.3M1156.5 798.4h-2.3M748.5 783.12h2.3M1156.5 783.12h-2.3M748.5 752.58h2.3M1156.5 752.58h-2.3M748.5 737.3h2.3M1156.5 737.3h-2.3M748.5 722.02h2.3M1156.5 722.02h-2.3M748.5 691.47h2.3M1156.5 691.47h-2.3" stroke="#111" stroke-width="1.1" fill="none"/>
<text transform="translate(740.65 1011.85) scale(1 1)" font-size="29.5" text-anchor="end" xml:space="preserve">0.0</text>
<text transform="translate(740.65 961.1) scale(1 1)" font-size="29.5" text-anchor="end" xml:space="preserve">0.2</text>
<text transform="translate(740.65 900.1) scale(1 1)" font-size="29.5" text-anchor="end" xml:space="preserve">0.4</text>
<text transform="translate(740.65 839.1) scale(1 1)" font-size="29.5" text-anchor="end" xml:space="preserve">0.6</text>
<text transform="translate(740.65 778.1) scale(1 1)" font-size="29.5" text-anchor="end" xml:space="preserve">0.8</text>
<text transform="translate(740.65 716.85) scale(1 1)" font-size="29.5" text-anchor="end" xml:space="preserve">1.0</text>
<text transform="translate(761.8 1058.85) scale(1 1)" font-size="29" text-anchor="middle" xml:space="preserve">J</text>
<text transform="translate(798.22 1058.85) scale(1 1)" font-size="29" text-anchor="middle" xml:space="preserve">F</text>
<text transform="translate(830.84 1058.85) scale(1 1)" font-size="29" text-anchor="middle" xml:space="preserve">M</text>
<text transform="translate(863.46 1058.85) scale(1 1)" font-size="29" text-anchor="middle" xml:space="preserve">A</text>
<text transform="translate(896.08 1058.85) scale(1 1)" font-size="29" text-anchor="middle" xml:space="preserve">M</text>
<text transform="translate(924.9 1058.85) scale(1 1)" font-size="29" text-anchor="middle" xml:space="preserve">J</text>
<text transform="translate(957.52 1058.85) scale(1 1)" font-size="29" text-anchor="middle" xml:space="preserve">J</text>
<text transform="translate(993.94 1058.85) scale(1 1)" font-size="29" text-anchor="middle" xml:space="preserve">A</text>
<text transform="translate(1026.56 1058.85) scale(1 1)" font-size="29" text-anchor="middle" xml:space="preserve">S</text>
<text transform="translate(1059.18 1058.85) scale(1 1)" font-size="29" text-anchor="middle" xml:space="preserve">O</text>
<text transform="translate(1091.8 1058.85) scale(1 1)" font-size="29" text-anchor="middle" xml:space="preserve">N</text>
<text transform="translate(1124.42 1058.85) scale(1 1)" font-size="29" text-anchor="middle" xml:space="preserve">D</text>
<text transform="translate(942.45 664.45) scale(1 1)" font-size="36.7" text-anchor="middle" xml:space="preserve">(7) IMS-METU-ERDEMLI (Turkey)</text>
<text transform="translate(756.9 708.35) scale(1 1)" font-size="33.8" textLength="132" lengthAdjust="spacing" xml:space="preserve">36.56°N,</text>
<text transform="translate(890.65 708.35) scale(1 1)" font-size="33.8" textLength="135.75" lengthAdjust="spacing" xml:space="preserve">34.26° E,</text>
<text transform="translate(1063.15 708.35) scale(1 1)" font-size="33.8" xml:space="preserve">3</text>
<text transform="translate(1114.5 708.35) scale(1 1)" font-size="33.8" text-anchor="end" xml:space="preserve">m</text>
<rect x="761.65" y="726.05" width="12.6" height="25.6" fill="#bebebe"/>
<rect x="761.65" y="759.55" width="12.6" height="25.4" fill="#5c320c"/>
<text transform="translate(777.55 745.55) scale(1 1)" font-size="29.3" xml:space="preserve">AERONET-clim</text>
<text transform="translate(777.55 779.25) scale(1 1)" font-size="29.3" xml:space="preserve">AERONET</text>
<text transform="translate(1004.75 745.55) scale(1 1)" font-size="29.3" xml:space="preserve">( 0.22)</text>
<text transform="translate(1004.75 779.25) scale(1 1)" font-size="29.3" xml:space="preserve">( 0.24)</text>
<text transform="translate(1297.75 691.95) scale(1 1)" font-size="29" xml:space="preserve">Ratio</text>
<text transform="translate(1192.05 734.65) scale(1 1)" font-size="24.6" xml:space="preserve">MISR</text>
<path d="M1161.95 735.35L1169.95 727.35L1177.95 735.35L1169.95 743.35Z" fill="none" stroke="#00ee00" stroke-width="2.4"/>
<text transform="translate(1303.75 734.95) scale(1 1)" font-size="29.6" xml:space="preserve">1.66</text>
<text transform="translate(1192.05 762.47) scale(1 1)" font-size="24.6" xml:space="preserve">NOBB</text>
<rect x="1163.55" y="758.77" width="22" height="8" fill="#000000"/>
<text transform="translate(1303.75 762.77) scale(1 1)" font-size="29.6" xml:space="preserve">0.87</text>
<text transform="translate(1192.05 790.29) scale(1 1)" font-size="24.6" xml:space="preserve">GFED3.1</text>
<rect x="1163.55" y="787.59" width="22" height="6" fill="#0000ff"/>
<text transform="translate(1303.75 790.59) scale(1 1)" font-size="29.6" xml:space="preserve">0.88</text>
<text transform="translate(1192.05 818.11) scale(1 1)" font-size="24.6" xml:space="preserve">GFED4s</text>
<rect x="1163.55" y="815.41" width="22" height="6" fill="#00fbff"/>
<text transform="translate(1303.75 818.41) scale(1 1)" font-size="29.6" xml:space="preserve">0.88</text>
<text transform="translate(1192.05 845.93) scale(1 1)" font-size="24.6" xml:space="preserve">FINN1.5</text>
<rect x="1163.55" y="843.23" width="22" height="6" fill="#2cc830"/>
<text transform="translate(1303.75 846.23) scale(1 1)" font-size="29.6" xml:space="preserve">0.88</text>
<text transform="translate(1192.05 873.75) scale(1 1)" font-size="24.6" xml:space="preserve">GFAS1.2</text>
<rect x="1163.55" y="871.05" width="22" height="6" fill="#ee82ee"/>
<text transform="translate(1303.75 874.05) scale(1 1)" font-size="29.6" xml:space="preserve">0.88</text>
<text transform="translate(1192.05 901.57) scale(1 1)" font-size="24.6" xml:space="preserve">FEER1.0</text>
<rect x="1163.55" y="898.87" width="22" height="6" fill="#ff0000"/>
<text transform="translate(1303.75 901.87) scale(1 1)" font-size="29.6" xml:space="preserve">0.90</text>
<text transform="translate(1192.05 929.39) scale(1 1)" font-size="24.6" xml:space="preserve">QFED2.4</text>
<rect x="1163.55" y="926.69" width="22" height="6" fill="#f4a460"/>
<text transform="translate(1303.75 929.69) scale(1 1)" font-size="29.6" xml:space="preserve">0.92</text>
</g>
<g>
<rect x="753.7" y="1429" width="23" height="111.25" fill="#bebebe"/>
<rect x="786.32" y="1423" width="23" height="117.25" fill="#bebebe"/>
<rect x="818.94" y="1444" width="23" height="96.25" fill="#bebebe"/>
<rect x="851.56" y="1469.25" width="23" height="71" fill="#bebebe"/>
<rect x="884.18" y="1487.5" width="23" height="52.75" fill="#bebebe"/>
<rect x="916.8" y="1492.25" width="23" height="48" fill="#bebebe"/>
<rect x="949.42" y="1500.25" width="23" height="40" fill="#bebebe"/>
<rect x="982.04" y="1510.25" width="23" height="30" fill="#bebebe"/>
<rect x="1014.66" y="1514.75" width="23" height="25.5" fill="#bebebe"/>
<rect x="1047.28" y="1503" width="23" height="37.25" fill="#bebebe"/>
<rect x="1079.9" y="1496" width="23" height="44.25" fill="#bebebe"/>
<rect x="1112.52" y="1460.5" width="23" height="79.75" fill="#bebebe"/>
<rect x="761.2" y="1434.75" width="8" height="105.5" fill="#5c320c"/>
<rect x="793.82" y="1393" width="8" height="147.25" fill="#5c320c"/>
<rect x="891.68" y="1502.75" width="8" height="37.5" fill="#5c320c"/>
<rect x="924.3" y="1507.25" width="8" height="33" fill="#5c320c"/>
<rect x="956.92" y="1516.5" width="8" height="23.75" fill="#5c320c"/>
<rect x="989.54" y="1519.75" width="8" height="20.5" fill="#5c320c"/>
<rect x="1022.16" y="1511" width="8" height="29.25" fill="#5c320c"/>
<rect x="1054.78" y="1496" width="8" height="44.25" fill="#5c320c"/>
<rect x="1087.4" y="1478.5" width="8" height="61.75" fill="#5c320c"/>
<rect x="1120.02" y="1462.75" width="8" height="77.5" fill="#5c320c"/>
<clipPath id="c8"><rect x="749.25" y="1207.75" width="407.5" height="332.5"/></clipPath>
<g clip-path="url(#c8)">
<path d="M757.2 1428L765 1420.2L772.8 1428L765 1435.8Z" fill="none" stroke="#00ee00" stroke-width="2.4"/>
<path d="M789.82 1428.5L797.62 1420.7L805.42 1428.5L797.62 1436.3Z" fill="none" stroke="#00ee00" stroke-width="2.4"/>
<path d="M822.44 1473.5L830.24 1465.7L838.04 1473.5L830.24 1481.3Z" fill="none" stroke="#00ee00" stroke-width="2.4"/>
<path d="M887.68 1529L895.48 1521.2L903.28 1529L895.48 1536.8Z" fill="none" stroke="#00ee00" stroke-width="2.4"/>
<path d="M952.92 1520.5L960.72 1512.7L968.52 1520.5L960.72 1528.3Z" fill="none" stroke="#00ee00" stroke-width="2.4"/>
<path d="M985.54 1511.75L993.34 1503.95L1001.14 1511.75L993.34 1519.55Z" fill="none" stroke="#00ee00" stroke-width="2.4"/>
<path d="M1018.16 1529L1025.96 1521.2L1033.76 1529L1025.96 1536.8Z" fill="none" stroke="#00ee00" stroke-width="2.4"/>
<path d="M1050.78 1486.5L1058.58 1478.7L1066.38 1486.5L1058.58 1494.3Z" fill="none" stroke="#00ee00" stroke-width="2.4"/>
<path d="M1083.4 1499L1091.2 1491.2L1099 1499L1091.2 1506.8Z" fill="none" stroke="#00ee00" stroke-width="2.4"/>
<path d="M1116.02 1427.75L1123.82 1419.95L1131.62 1427.75L1123.82 1435.55Z" fill="none" stroke="#00ee00" stroke-width="2.4"/>
<polyline points="765,1477.25 797.62,1469 830.24,1476.75 862.86,1477.25 895.48,1496.5 928.1,1504.75 960.72,1513.5 993.34,1523.5 1025.96,1516 1058.58,1497.75 1091.2,1493.5 1123.82,1489.25" fill="none" stroke="#000000" stroke-width="3.4" stroke-linejoin="miter"/>
<polyline points="765,1461 797.62,1464 830.24,1473 862.86,1476 895.48,1496 928.1,1504.25 960.72,1513 993.34,1522.25 1025.96,1515.5 1058.58,1497.25 1091.2,1488.5 1123.82,1480.25" fill="none" stroke="#0000ff" stroke-width="3.4" stroke-linejoin="miter"/>
<polyline points="765,1464.75 797.62,1465.5 830.24,1474 862.86,1476.5 895.48,1496 928.1,1504.25 960.72,1513 993.34,1522.25 1025.96,1515.5 1058.58,1497.25 1091.2,1489.75 1123.82,1483" fill="none" stroke="#00fbff" stroke-width="3.4" stroke-linejoin="miter"/>
<polyline points="765,1468 797.62,1466.5 830.24,1474.75 862.86,1476.5 895.48,1496 928.1,1504.25 960.72,1513 993.34,1522.25 1025.96,1515.5 1058.58,1497.25 1091.2,1491 1123.82,1485.5" fill="none" stroke="#2cc830" stroke-width="3.4" stroke-linejoin="miter"/>
<polyline points="765,1466.75 797.62,1466 830.24,1474.75 862.86,1476.5 895.48,1496 928.1,1504.25 960.72,1513 993.34,1522.25 1025.96,1515.5 1058.58,1497.25 1091.2,1490.5 1123.82,1483" fill="none" stroke="#ee82ee" stroke-width="3.4" stroke-linejoin="miter"/>
<polyline points="765,1446.75 797.62,1457.25 830.24,1468.5 862.86,1474.75 895.48,1495.5 928.1,1503.5 960.72,1512.25 993.34,1521 1025.96,1514.75 1058.58,1496.5 1091.2,1486 1123.82,1469" fill="none" stroke="#ff0000" stroke-width="3.4" stroke-linejoin="miter"/>
<polyline points="765,1453 797.62,1461 830.24,1470.5 862.86,1475.5 895.48,1495.5 928.1,1503.5 960.72,1511.75 993.34,1519.75 1025.96,1514 1058.58,1496 1091.2,1485.5 1123.82,1473.5" fill="none" stroke="#f4a460" stroke-width="3.4" stroke-linejoin="miter"/>
</g>
<rect x="748.5" y="1207" width="408" height="333.05" fill="none" stroke="#1c1c1c" stroke-width="1.6"/>
<path d="M765 1207v-9.8M765 1540.05v10M797.62 1207v-9.8M797.62 1540.05v10M830.24 1207v-9.8M830.24 1540.05v10M862.86 1207v-9.8M862.86 1540.05v10M895.48 1207v-9.8M895.48 1540.05v10M928.1 1207v-9.8M928.1 1540.05v10M960.72 1207v-9.8M960.72 1540.05v10M993.34 1207v-9.8M993.34 1540.05v10M1025.96 1207v-9.8M1025.96 1540.05v10M1058.58 1207v-9.8M1058.58 1540.05v10M1091.2 1207v-9.8M1091.2 1540.05v10M1123.82 1207v-9.8M1123.82 1540.05v10M748.5 1261h4M1156.5 1261h-4M748.5 1317h4M1156.5 1317h-4M748.5 1373h4M1156.5 1373h-4M748.5 1428.75h4M1156.5 1428.75h-4M748.5 1484.75h4M1156.5 1484.75h-4" stroke="#1c1c1c" stroke-width="1.4" fill="none"/>
<path d="M748.5 1529.08h2.3M1156.5 1529.08h-2.3M748.5 1517.91h2.3M1156.5 1517.91h-2.3M748.5 1506.74h2.3M1156.5 1506.74h-2.3M748.5 1495.57h2.3M1156.5 1495.57h-2.3M748.5 1473.23h2.3M1156.5 1473.23h-2.3M748.5 1462.06h2.3M1156.5 1462.06h-2.3M748.5 1450.89h2.3M1156.5 1450.89h-2.3M748.5 1439.72h2.3M1156.5 1439.72h-2.3M748.5 1417.38h2.3M1156.5 1417.38h-2.3M748.5 1406.21h2.3M1156.5 1406.21h-2.3M748.5 1395.04h2.3M1156.5 1395.04h-2.3M748.5 1383.87h2.3M1156.5 1383.87h-2.3M748.5 1361.53h2.3M1156.5 1361.53h-2.3M748.5 1350.36h2.3M1156.5 1350.36h-2.3M748.5 1339.19h2.3M1156.5 1339.19h-2.3M748.5 1328.02h2.3M1156.5 1328.02h-2.3M748.5 1305.68h2.3M1156.5 1305.68h-2.3M748.5 1294.51h2.3M1156.5 1294.51h-2.3M748.5 1283.34h2.3M1156.5 1283.34h-2.3M748.5 1272.17h2.3M1156.5 1272.17h-2.3M748.5 1249.83h2.3M1156.5 1249.83h-2.3M748.5 1238.66h2.3M1156.5 1238.66h-2.3M748.5 1227.49h2.3M1156.5 1227.49h-2.3M748.5 1216.32h2.3M1156.5 1216.32h-2.3" stroke="#111" stroke-width="1.1" fill="none"/>
<text transform="translate(740.65 1539.85) scale(1 1)" font-size="29.5" text-anchor="end" xml:space="preserve">0.0</text>
<text transform="translate(740.65 1494.85) scale(1 1)" font-size="29.5" text-anchor="end" xml:space="preserve">0.5</text>
<text transform="translate(740.65 1438.85) scale(1 1)" font-size="29.5" text-anchor="end" xml:space="preserve">1.0</text>
<text transform="translate(740.65 1383.1) scale(1 1)" font-size="29.5" text-anchor="end" xml:space="preserve">1.5</text>
<text transform="translate(740.65 1327.1) scale(1 1)" font-size="29.5" text-anchor="end" xml:space="preserve">2.0</text>
<text transform="translate(740.65 1271.1) scale(1 1)" font-size="29.5" text-anchor="end" xml:space="preserve">2.5</text>
<text transform="translate(761.8 1586.85) scale(1 1)" font-size="29" text-anchor="middle" xml:space="preserve">J</text>
<text transform="translate(798.22 1586.85) scale(1 1)" font-size="29" text-anchor="middle" xml:space="preserve">F</text>
<text transform="translate(830.84 1586.85) scale(1 1)" font-size="29" text-anchor="middle" xml:space="preserve">M</text>
<text transform="translate(863.46 1586.85) scale(1 1)" font-size="29" text-anchor="middle" xml:space="preserve">A</text>
<text transform="translate(896.08 1586.85) scale(1 1)" font-size="29" text-anchor="middle" xml:space="preserve">M</text>
<text transform="translate(924.9 1586.85) scale(1 1)" font-size="29" text-anchor="middle" xml:space="preserve">J</text>
<text transform="translate(957.52 1586.85) scale(1 1)" font-size="29" text-anchor="middle" xml:space="preserve">J</text>
<text transform="translate(993.94 1586.85) scale(1 1)" font-size="29" text-anchor="middle" xml:space="preserve">A</text>
<text transform="translate(1026.56 1586.85) scale(1 1)" font-size="29" text-anchor="middle" xml:space="preserve">S</text>
<text transform="translate(1059.18 1586.85) scale(1 1)" font-size="29" text-anchor="middle" xml:space="preserve">O</text>
<text transform="translate(1091.8 1586.85) scale(1 1)" font-size="29" text-anchor="middle" xml:space="preserve">N</text>
<text transform="translate(1124.42 1586.85) scale(1 1)" font-size="29" text-anchor="middle" xml:space="preserve">D</text>
<text transform="translate(942.45 1192.45) scale(1 1)" font-size="36.7" text-anchor="middle" xml:space="preserve">(8) Ilorin (Nigeria)</text>
<text transform="translate(761.4 1236.35) scale(1 1)" font-size="33.8" textLength="118.75" lengthAdjust="spacing" xml:space="preserve">8.48°N,</text>
<text transform="translate(888.15 1236.35) scale(1 1)" font-size="33.8" textLength="118.25" lengthAdjust="spacing" xml:space="preserve">4.67° E,</text>
<text transform="translate(1024.4 1236.35) scale(1 1)" font-size="33.8" xml:space="preserve">400</text>
<text transform="translate(1114.5 1236.35) scale(1 1)" font-size="33.8" text-anchor="end" xml:space="preserve">m</text>
<rect x="761.65" y="1254.05" width="12.6" height="25.6" fill="#bebebe"/>
<rect x="761.65" y="1287.55" width="12.6" height="25.4" fill="#5c320c"/>
<text transform="translate(777.55 1273.55) scale(1 1)" font-size="29.3" xml:space="preserve">AERONET-clim</text>
<text transform="translate(777.55 1307.25) scale(1 1)" font-size="29.3" xml:space="preserve">AERONET</text>
<text transform="translate(1004.75 1273.55) scale(1 1)" font-size="29.3" xml:space="preserve">( 0.57)</text>
<text transform="translate(1004.75 1307.25) scale(1 1)" font-size="29.3" xml:space="preserve">( 0.53)</text>
<text transform="translate(1297.75 1219.95) scale(1 1)" font-size="29" xml:space="preserve">Ratio</text>
<text transform="translate(1192.05 1262.65) scale(1 1)" font-size="24.6" xml:space="preserve">MISR</text>
<path d="M1161.95 1263.35L1169.95 1255.35L1177.95 1263.35L1169.95 1271.35Z" fill="none" stroke="#00ee00" stroke-width="2.4"/>
<text transform="translate(1303.75 1262.95) scale(1 1)" font-size="29.6" xml:space="preserve">0.90</text>
<text transform="translate(1192.05 1290.47) scale(1 1)" font-size="24.6" xml:space="preserve">NOBB</text>
<rect x="1163.55" y="1286.77" width="22" height="8" fill="#000000"/>
<text transform="translate(1303.75 1290.77) scale(1 1)" font-size="29.6" xml:space="preserve">0.71</text>
<text transform="translate(1192.05 1318.29) scale(1 1)" font-size="24.6" xml:space="preserve">GFED3.1</text>
<rect x="1163.55" y="1315.59" width="22" height="6" fill="#0000ff"/>
<text transform="translate(1303.75 1318.59) scale(1 1)" font-size="29.6" xml:space="preserve">0.78</text>
<text transform="translate(1192.05 1346.11) scale(1 1)" font-size="24.6" xml:space="preserve">GFED4s</text>
<rect x="1163.55" y="1343.41" width="22" height="6" fill="#00fbff"/>
<text transform="translate(1303.75 1346.41) scale(1 1)" font-size="29.6" xml:space="preserve">0.76</text>
<text transform="translate(1192.05 1373.93) scale(1 1)" font-size="24.6" xml:space="preserve">FINN1.5</text>
<rect x="1163.55" y="1371.23" width="22" height="6" fill="#2cc830"/>
<text transform="translate(1303.75 1374.23) scale(1 1)" font-size="29.6" xml:space="preserve">0.76</text>
<text transform="translate(1192.05 1401.75) scale(1 1)" font-size="24.6" xml:space="preserve">GFAS1.2</text>
<rect x="1163.55" y="1399.05" width="22" height="6" fill="#ee82ee"/>
<text transform="translate(1303.75 1402.05) scale(1 1)" font-size="29.6" xml:space="preserve">0.76</text>
<text transform="translate(1192.05 1429.57) scale(1 1)" font-size="24.6" xml:space="preserve">FEER1.0</text>
<rect x="1163.55" y="1426.87" width="22" height="6" fill="#ff0000"/>
<text transform="translate(1303.75 1429.87) scale(1 1)" font-size="29.6" xml:space="preserve">0.85</text>
<text transform="translate(1192.05 1457.39) scale(1 1)" font-size="24.6" xml:space="preserve">QFED2.4</text>
<rect x="1163.55" y="1454.69" width="22" height="6" fill="#f4a460"/>
<text transform="translate(1303.75 1457.69) scale(1 1)" font-size="29.6" xml:space="preserve">0.84</text>
</g>
<g>
<rect x="753.7" y="2039.5" width="23" height="29.25" fill="#bebebe"/>
<rect x="786.32" y="2038.75" width="23" height="30" fill="#bebebe"/>
<rect x="818.94" y="2042.5" width="23" height="26.25" fill="#bebebe"/>
<rect x="851.56" y="2043" width="23" height="25.75" fill="#bebebe"/>
<rect x="884.18" y="2042.5" width="23" height="26.25" fill="#bebebe"/>
<rect x="916.8" y="2026.75" width="23" height="42" fill="#bebebe"/>
<rect x="949.42" y="2016.25" width="23" height="52.5" fill="#bebebe"/>
<rect x="982.04" y="1977" width="23" height="91.75" fill="#bebebe"/>
<rect x="1014.66" y="1921.25" width="23" height="147.5" fill="#bebebe"/>
<rect x="1047.28" y="1958.75" width="23" height="110" fill="#bebebe"/>
<rect x="1079.9" y="2017.5" width="23" height="51.25" fill="#bebebe"/>
<rect x="1112.52" y="2039.5" width="23" height="29.25" fill="#bebebe"/>
<rect x="761.2" y="2052.5" width="8" height="16.25" fill="#5c320c"/>
<rect x="793.82" y="2044.5" width="8" height="24.25" fill="#5c320c"/>
<rect x="826.44" y="2053.75" width="8" height="15" fill="#5c320c"/>
<rect x="859.06" y="2043" width="8" height="25.75" fill="#5c320c"/>
<rect x="891.68" y="2045.75" width="8" height="23" fill="#5c320c"/>
<rect x="924.3" y="2032" width="8" height="36.75" fill="#5c320c"/>
<rect x="956.92" y="2002.5" width="8" height="66.25" fill="#5c320c"/>
<rect x="989.54" y="1976.75" width="8" height="92" fill="#5c320c"/>
<rect x="1022.16" y="1921.25" width="8" height="147.5" fill="#5c320c"/>
<rect x="1054.78" y="1973" width="8" height="95.75" fill="#5c320c"/>
<rect x="1087.4" y="2021.25" width="8" height="47.5" fill="#5c320c"/>
<rect x="1120.02" y="2046.25" width="8" height="22.5" fill="#5c320c"/>
<clipPath id="c9"><rect x="749.25" y="1736.75" width="407.5" height="332"/></clipPath>
<g clip-path="url(#c9)">
<path d="M757.2 2012L765 2004.2L772.8 2012L765 2019.8Z" fill="none" stroke="#00ee00" stroke-width="2.4"/>
<path d="M789.82 1994.25L797.62 1986.45L805.42 1994.25L797.62 2002.05Z" fill="none" stroke="#00ee00" stroke-width="2.4"/>
<path d="M822.44 2026.25L830.24 2018.45L838.04 2026.25L830.24 2034.05Z" fill="none" stroke="#00ee00" stroke-width="2.4"/>
<path d="M887.68 1974.5L895.48 1966.7L903.28 1974.5L895.48 1982.3Z" fill="none" stroke="#00ee00" stroke-width="2.4"/>
<path d="M920.3 2010L928.1 2002.2L935.9 2010L928.1 2017.8Z" fill="none" stroke="#00ee00" stroke-width="2.4"/>
<path d="M952.92 1970.75L960.72 1962.95L968.52 1970.75L960.72 1978.55Z" fill="none" stroke="#00ee00" stroke-width="2.4"/>
<path d="M985.54 1935.75L993.34 1927.95L1001.14 1935.75L993.34 1943.55Z" fill="none" stroke="#00ee00" stroke-width="2.4"/>
<path d="M1050.78 2027.5L1058.58 2019.7L1066.38 2027.5L1058.58 2035.3Z" fill="none" stroke="#00ee00" stroke-width="2.4"/>
<path d="M1116.02 2033.25L1123.82 2025.45L1131.62 2033.25L1123.82 2041.05Z" fill="none" stroke="#00ee00" stroke-width="2.4"/>
<polyline points="765,2056.75 797.62,2054.25 830.24,2057 862.86,2056.75 895.48,2058.75 928.1,2060.5 960.72,2060.5 993.34,2059.5 1025.96,2060 1058.58,2058.75 1091.2,2052.5 1123.82,2053.75" fill="none" stroke="#000000" stroke-width="3.4" stroke-linejoin="miter"/>
<polyline points="765,2056.25 797.62,2053.75 830.24,2056.75 862.86,2056.25 895.48,2056.25 928.1,2053.75 960.72,2042.5 993.34,2043 1025.96,2030 1058.58,2045.5 1091.2,2048.75 1123.82,2053" fill="none" stroke="#0000ff" stroke-width="3.4" stroke-linejoin="miter"/>
<polyline points="765,2056.25 797.62,2053.75 830.24,2056.75 862.86,2056.25 895.48,2057 928.1,2055 960.72,2043 993.34,2045.5 1025.96,2040.5 1058.58,2047.5 1091.2,2048.75 1123.82,2052.5" fill="none" stroke="#00fbff" stroke-width="3.4" stroke-linejoin="miter"/>
<polyline points="765,2056.25 797.62,2053.75 830.24,2056.75 862.86,2056.25 895.48,2057.5 928.1,2055.5 960.72,2047.5 993.34,2048.75 1025.96,2047 1058.58,2049.5 1091.2,2049.5 1123.82,2053" fill="none" stroke="#2cc830" stroke-width="3.4" stroke-linejoin="miter"/>
<polyline points="765,2056.25 797.62,2053.75 830.24,2056.75 862.86,2056.25 895.48,2057 928.1,2055 960.72,2044.5 993.34,2046.25 1025.96,2039.5 1058.58,2047.5 1091.2,2048.75 1123.82,2052.5" fill="none" stroke="#ee82ee" stroke-width="3.4" stroke-linejoin="miter"/>
<polyline points="765,2053.75 797.62,2051.25 830.24,2055.75 862.86,2055 895.48,2054.25 928.1,2047.5 960.72,2018.75 993.34,2021.25 1025.96,1995 1058.58,2027.5 1091.2,2040 1123.82,2050.75" fill="none" stroke="#ff0000" stroke-width="3.4" stroke-linejoin="miter"/>
<polyline points="765,2050.5 797.62,2048.75 830.24,2055 862.86,2054.25 895.48,2052.5 928.1,2046.25 960.72,2011.25 993.34,2028.75 1025.96,1994.5 1058.58,2022.5 1091.2,2036.25 1123.82,2048.75" fill="none" stroke="#f4a460" stroke-width="3.4" stroke-linejoin="miter"/>
</g>
<rect x="748.5" y="1736" width="408" height="332.55" fill="none" stroke="#1c1c1c" stroke-width="1.6"/>
<path d="M765 1736v-9.8M765 2068.55v10M797.62 1736v-9.8M797.62 2068.55v10M830.24 1736v-9.8M830.24 2068.55v10M862.86 1736v-9.8M862.86 2068.55v10M895.48 1736v-9.8M895.48 2068.55v10M928.1 1736v-9.8M928.1 2068.55v10M960.72 1736v-9.8M960.72 2068.55v10M993.34 1736v-9.8M993.34 2068.55v10M1025.96 1736v-9.8M1025.96 2068.55v10M1058.58 1736v-9.8M1058.58 2068.55v10M1091.2 1736v-9.8M1091.2 2068.55v10M1123.82 1736v-9.8M1123.82 2068.55v10M748.5 1790.75h4M1156.5 1790.75h-4M748.5 1846.5h4M1156.5 1846.5h-4M748.5 1902h4M1156.5 1902h-4M748.5 1957.75h4M1156.5 1957.75h-4M748.5 2013.25h4M1156.5 2013.25h-4" stroke="#1c1c1c" stroke-width="1.4" fill="none"/>
<path d="M748.5 2054.85h2.3M1156.5 2054.85h-2.3M748.5 2040.95h2.3M1156.5 2040.95h-2.3M748.5 2027.05h2.3M1156.5 2027.05h-2.3M748.5 1999.25h2.3M1156.5 1999.25h-2.3M748.5 1985.35h2.3M1156.5 1985.35h-2.3M748.5 1971.45h2.3M1156.5 1971.45h-2.3M748.5 1943.65h2.3M1156.5 1943.65h-2.3M748.5 1929.75h2.3M1156.5 1929.75h-2.3M748.5 1915.85h2.3M1156.5 1915.85h-2.3M748.5 1888.05h2.3M1156.5 1888.05h-2.3M748.5 1874.15h2.3M1156.5 1874.15h-2.3M748.5 1860.25h2.3M1156.5 1860.25h-2.3M748.5 1832.45h2.3M1156.5 1832.45h-2.3M748.5 1818.55h2.3M1156.5 1818.55h-2.3M748.5 1804.65h2.3M1156.5 1804.65h-2.3M748.5 1776.85h2.3M1156.5 1776.85h-2.3M748.5 1762.95h2.3M1156.5 1762.95h-2.3M748.5 1749.05h2.3M1156.5 1749.05h-2.3" stroke="#111" stroke-width="1.1" fill="none"/>
<text transform="translate(740.65 2068.35) scale(1 1)" font-size="29.5" text-anchor="end" xml:space="preserve">0.0</text>
<text transform="translate(740.65 2023.35) scale(1 1)" font-size="29.5" text-anchor="end" xml:space="preserve">0.2</text>
<text transform="translate(740.65 1967.85) scale(1 1)" font-size="29.5" text-anchor="end" xml:space="preserve">0.4</text>
<text transform="translate(740.65 1912.1) scale(1 1)" font-size="29.5" text-anchor="end" xml:space="preserve">0.6</text>
<text transform="translate(740.65 1856.6) scale(1 1)" font-size="29.5" text-anchor="end" xml:space="preserve">0.8</text>
<text transform="translate(740.65 1800.85) scale(1 1)" font-size="29.5" text-anchor="end" xml:space="preserve">1.0</text>
<text transform="translate(761.8 2115.35) scale(1 1)" font-size="29" text-anchor="middle" xml:space="preserve">J</text>
<text transform="translate(798.22 2115.35) scale(1 1)" font-size="29" text-anchor="middle" xml:space="preserve">F</text>
<text transform="translate(830.84 2115.35) scale(1 1)" font-size="29" text-anchor="middle" xml:space="preserve">M</text>
<text transform="translate(863.46 2115.35) scale(1 1)" font-size="29" text-anchor="middle" xml:space="preserve">A</text>
<text transform="translate(896.08 2115.35) scale(1 1)" font-size="29" text-anchor="middle" xml:space="preserve">M</text>
<text transform="translate(924.9 2115.35) scale(1 1)" font-size="29" text-anchor="middle" xml:space="preserve">J</text>
<text transform="translate(957.52 2115.35) scale(1 1)" font-size="29" text-anchor="middle" xml:space="preserve">J</text>
<text transform="translate(993.94 2115.35) scale(1 1)" font-size="29" text-anchor="middle" xml:space="preserve">A</text>
<text transform="translate(1026.56 2115.35) scale(1 1)" font-size="29" text-anchor="middle" xml:space="preserve">S</text>
<text transform="translate(1059.18 2115.35) scale(1 1)" font-size="29" text-anchor="middle" xml:space="preserve">O</text>
<text transform="translate(1091.8 2115.35) scale(1 1)" font-size="29" text-anchor="middle" xml:space="preserve">N</text>
<text transform="translate(1124.42 2115.35) scale(1 1)" font-size="29" text-anchor="middle" xml:space="preserve">D</text>
<text transform="translate(942.45 1721.45) scale(1 1)" font-size="36.7" text-anchor="middle" xml:space="preserve">(9) Mongu (Zambia)</text>
<text transform="translate(756.9 1765.35) scale(1 1)" font-size="33.8" textLength="130.75" lengthAdjust="spacing" xml:space="preserve">15.25°S,</text>
<text transform="translate(889.4 1765.35) scale(1 1)" font-size="33.8" textLength="133.25" lengthAdjust="spacing" xml:space="preserve">23.15°E,</text>
<text transform="translate(1035.65 1765.35) scale(1 1)" font-size="33.8" xml:space="preserve">1047</text>
<text transform="translate(1139.5 1765.35) scale(1 1)" font-size="33.8" text-anchor="end" xml:space="preserve">m</text>
<rect x="761.65" y="1783.05" width="12.6" height="25.6" fill="#bebebe"/>
<rect x="761.65" y="1816.55" width="12.6" height="25.4" fill="#5c320c"/>
<text transform="translate(777.55 1802.55) scale(1 1)" font-size="29.3" xml:space="preserve">AERONET-clim</text>
<text transform="translate(777.55 1836.25) scale(1 1)" font-size="29.3" xml:space="preserve">AERONET</text>
<text transform="translate(1004.75 1802.55) scale(1 1)" font-size="29.3" xml:space="preserve">( 0.20)</text>
<text transform="translate(1004.75 1836.25) scale(1 1)" font-size="29.3" xml:space="preserve">( 0.18)</text>
<text transform="translate(1297.75 1748.95) scale(1 1)" font-size="29" xml:space="preserve">Ratio</text>
<text transform="translate(1192.05 1791.65) scale(1 1)" font-size="24.6" xml:space="preserve">MISR</text>
<path d="M1161.95 1792.35L1169.95 1784.35L1177.95 1792.35L1169.95 1800.35Z" fill="none" stroke="#00ee00" stroke-width="2.4"/>
<text transform="translate(1303.75 1791.95) scale(1 1)" font-size="29.6" xml:space="preserve">1.61</text>
<text transform="translate(1192.05 1819.47) scale(1 1)" font-size="24.6" xml:space="preserve">NOBB</text>
<rect x="1163.55" y="1815.77" width="22" height="8" fill="#000000"/>
<text transform="translate(1303.75 1819.77) scale(1 1)" font-size="29.6" xml:space="preserve">0.22</text>
<text transform="translate(1192.05 1847.29) scale(1 1)" font-size="24.6" xml:space="preserve">GFED3.1</text>
<rect x="1163.55" y="1844.59" width="22" height="6" fill="#0000ff"/>
<text transform="translate(1303.75 1847.59) scale(1 1)" font-size="29.6" xml:space="preserve">0.38</text>
<text transform="translate(1192.05 1875.11) scale(1 1)" font-size="24.6" xml:space="preserve">GFED4s</text>
<rect x="1163.55" y="1872.41" width="22" height="6" fill="#00fbff"/>
<text transform="translate(1303.75 1875.41) scale(1 1)" font-size="29.6" xml:space="preserve">0.35</text>
<text transform="translate(1192.05 1902.93) scale(1 1)" font-size="24.6" xml:space="preserve">FINN1.5</text>
<rect x="1163.55" y="1900.23" width="22" height="6" fill="#2cc830"/>
<text transform="translate(1303.75 1903.23) scale(1 1)" font-size="29.6" xml:space="preserve">0.32</text>
<text transform="translate(1192.05 1930.75) scale(1 1)" font-size="24.6" xml:space="preserve">GFAS1.2</text>
<rect x="1163.55" y="1928.05" width="22" height="6" fill="#ee82ee"/>
<text transform="translate(1303.75 1931.05) scale(1 1)" font-size="29.6" xml:space="preserve">0.35</text>
<text transform="translate(1192.05 1958.57) scale(1 1)" font-size="24.6" xml:space="preserve">FEER1.0</text>
<rect x="1163.55" y="1955.87" width="22" height="6" fill="#ff0000"/>
<text transform="translate(1303.75 1958.87) scale(1 1)" font-size="29.6" xml:space="preserve">0.58</text>
<text transform="translate(1192.05 1986.39) scale(1 1)" font-size="24.6" xml:space="preserve">QFED2.4</text>
<rect x="1163.55" y="1983.69" width="22" height="6" fill="#f4a460"/>
<text transform="translate(1303.75 1986.69) scale(1 1)" font-size="29.6" xml:space="preserve">0.61</text>
</g>
<g>
<rect x="1438.7" y="445.75" width="23" height="38.5" fill="#bebebe"/>
<rect x="1471.32" y="430.5" width="23" height="53.75" fill="#bebebe"/>
<rect x="1503.94" y="422" width="23" height="62.25" fill="#bebebe"/>
<rect x="1536.56" y="403.25" width="23" height="81" fill="#bebebe"/>
<rect x="1569.18" y="415" width="23" height="69.25" fill="#bebebe"/>
<rect x="1601.8" y="431.25" width="23" height="53" fill="#bebebe"/>
<rect x="1634.42" y="405" width="23" height="79.25" fill="#bebebe"/>
<rect x="1667.04" y="386.25" width="23" height="98" fill="#bebebe"/>
<rect x="1699.66" y="405.75" width="23" height="78.5" fill="#bebebe"/>
<rect x="1732.28" y="436.25" width="23" height="48" fill="#bebebe"/>
<rect x="1764.9" y="443.75" width="23" height="40.5" fill="#bebebe"/>
<rect x="1797.52" y="445" width="23" height="39.25" fill="#bebebe"/>
<rect x="1446.2" y="442.5" width="8" height="41.75" fill="#5c320c"/>
<rect x="1478.82" y="459.25" width="8" height="25" fill="#5c320c"/>
<rect x="1511.44" y="440" width="8" height="44.25" fill="#5c320c"/>
<rect x="1544.06" y="386.75" width="8" height="97.5" fill="#5c320c"/>
<rect x="1576.68" y="407.5" width="8" height="76.75" fill="#5c320c"/>
<rect x="1609.3" y="433" width="8" height="51.25" fill="#5c320c"/>
<rect x="1641.92" y="414.5" width="8" height="69.75" fill="#5c320c"/>
<rect x="1674.54" y="377" width="8" height="107.25" fill="#5c320c"/>
<rect x="1707.16" y="398.25" width="8" height="86" fill="#5c320c"/>
<rect x="1739.78" y="423.75" width="8" height="60.5" fill="#5c320c"/>
<rect x="1772.4" y="444.5" width="8" height="39.75" fill="#5c320c"/>
<clipPath id="c10"><rect x="1434.25" y="151.75" width="407.5" height="332.5"/></clipPath>
<g clip-path="url(#c10)">
<path d="M1442.2 418.75L1450 410.95L1457.8 418.75L1450 426.55Z" fill="none" stroke="#00ee00" stroke-width="2.4"/>
<path d="M1474.82 429.5L1482.62 421.7L1490.42 429.5L1482.62 437.3Z" fill="none" stroke="#00ee00" stroke-width="2.4"/>
<path d="M1507.44 335.5L1515.24 327.7L1523.04 335.5L1515.24 343.3Z" fill="none" stroke="#00ee00" stroke-width="2.4"/>
<path d="M1540.06 332L1547.86 324.2L1555.66 332L1547.86 339.8Z" fill="none" stroke="#00ee00" stroke-width="2.4"/>
<path d="M1572.68 295.75L1580.48 287.95L1588.28 295.75L1580.48 303.55Z" fill="none" stroke="#00ee00" stroke-width="2.4"/>
<path d="M1605.3 348.25L1613.1 340.45L1620.9 348.25L1613.1 356.05Z" fill="none" stroke="#00ee00" stroke-width="2.4"/>
<path d="M1637.92 354.5L1645.72 346.7L1653.52 354.5L1645.72 362.3Z" fill="none" stroke="#00ee00" stroke-width="2.4"/>
<path d="M1670.54 361.75L1678.34 353.95L1686.14 361.75L1678.34 369.55Z" fill="none" stroke="#00ee00" stroke-width="2.4"/>
<path d="M1703.16 365.5L1710.96 357.7L1718.76 365.5L1710.96 373.3Z" fill="none" stroke="#00ee00" stroke-width="2.4"/>
<path d="M1735.78 398.75L1743.58 390.95L1751.38 398.75L1743.58 406.55Z" fill="none" stroke="#00ee00" stroke-width="2.4"/>
<path d="M1768.4 408L1776.2 400.2L1784 408L1776.2 415.8Z" fill="none" stroke="#00ee00" stroke-width="2.4"/>
<path d="M1801.02 429.5L1808.82 421.7L1816.62 429.5L1808.82 437.3Z" fill="none" stroke="#00ee00" stroke-width="2.4"/>
<polyline points="1450,437.5 1482.62,422.5 1515.24,402.25 1547.86,364.5 1580.48,397 1613.1,425.75 1645.72,440.75 1678.34,406.25 1710.96,392.5 1743.58,394.5 1776.2,424 1808.82,405" fill="none" stroke="#000000" stroke-width="3.4" stroke-linejoin="miter"/>
<polyline points="1450,437.5 1482.62,422.5 1515.24,401.75 1547.86,362 1580.48,395.75 1613.1,425 1645.72,438 1678.34,385.5 1710.96,387 1743.58,392.5 1776.2,423.75 1808.82,405" fill="none" stroke="#0000ff" stroke-width="3.4" stroke-linejoin="miter"/>
<polyline points="1450,437.5 1482.62,422.5 1515.24,401.75 1547.86,360 1580.48,395 1613.1,425 1645.72,438 1678.34,394.5 1710.96,387.5 1743.58,392.5 1776.2,423.75 1808.82,405" fill="none" stroke="#00fbff" stroke-width="3.4" stroke-linejoin="miter"/>
<polyline points="1450,437.5 1482.62,422.5 1515.24,402 1547.86,359.5 1580.48,395 1613.1,424.75 1645.72,439 1678.34,400 1710.96,390 1743.58,393.75 1776.2,423.75 1808.82,405" fill="none" stroke="#2cc830" stroke-width="3.4" stroke-linejoin="miter"/>
<polyline points="1450,437.5 1482.62,422.5 1515.24,401.75 1547.86,357.5 1580.48,394.5 1613.1,425 1645.72,437.5 1678.34,402 1710.96,391.25 1743.58,394.5 1776.2,423.75 1808.82,405" fill="none" stroke="#ee82ee" stroke-width="3.4" stroke-linejoin="miter"/>
<polyline points="1450,427.5 1482.62,422 1515.24,400.5 1547.86,345 1580.48,391.25 1613.1,423.75 1645.72,436.25 1678.34,382 1710.96,381.25 1743.58,390 1776.2,423 1808.82,403.75" fill="none" stroke="#ff0000" stroke-width="3.4" stroke-linejoin="miter"/>
<polyline points="1450,437 1482.62,422 1515.24,398.75 1547.86,336.25 1580.48,385 1613.1,421.25 1645.72,430 1678.34,368 1710.96,375.5 1743.58,388.75 1776.2,422 1808.82,402" fill="none" stroke="#f4a460" stroke-width="3.4" stroke-linejoin="miter"/>
</g>
<rect x="1433.5" y="151" width="408" height="333.05" fill="none" stroke="#1c1c1c" stroke-width="1.6"/>
<path d="M1450 151v-9.8M1450 484.05v10M1482.62 151v-9.8M1482.62 484.05v10M1515.24 151v-9.8M1515.24 484.05v10M1547.86 151v-9.8M1547.86 484.05v10M1580.48 151v-9.8M1580.48 484.05v10M1613.1 151v-9.8M1613.1 484.05v10M1645.72 151v-9.8M1645.72 484.05v10M1678.34 151v-9.8M1678.34 484.05v10M1710.96 151v-9.8M1710.96 484.05v10M1743.58 151v-9.8M1743.58 484.05v10M1776.2 151v-9.8M1776.2 484.05v10M1808.82 151v-9.8M1808.82 484.05v10M1433.5 175h4M1841.5 175h-4M1433.5 252.5h4M1841.5 252.5h-4M1433.5 329.75h4M1841.5 329.75h-4M1433.5 407h4M1841.5 407h-4" stroke="#1c1c1c" stroke-width="1.4" fill="none"/>
<path d="M1433.5 464.92h2.3M1841.5 464.92h-2.3M1433.5 445.59h2.3M1841.5 445.59h-2.3M1433.5 426.27h2.3M1841.5 426.27h-2.3M1433.5 387.61h2.3M1841.5 387.61h-2.3M1433.5 368.28h2.3M1841.5 368.28h-2.3M1433.5 348.95h2.3M1841.5 348.95h-2.3M1433.5 310.3h2.3M1841.5 310.3h-2.3M1433.5 290.97h2.3M1841.5 290.97h-2.3M1433.5 271.64h2.3M1841.5 271.64h-2.3M1433.5 232.98h2.3M1841.5 232.98h-2.3M1433.5 213.66h2.3M1841.5 213.66h-2.3M1433.5 194.33h2.3M1841.5 194.33h-2.3M1433.5 155.67h2.3M1841.5 155.67h-2.3" stroke="#111" stroke-width="1.1" fill="none"/>
<text transform="translate(1425.65 483.85) scale(1 1)" font-size="29.5" text-anchor="end" xml:space="preserve">0.0</text>
<text transform="translate(1425.65 417.1) scale(1 1)" font-size="29.5" text-anchor="end" xml:space="preserve">0.2</text>
<text transform="translate(1425.65 339.85) scale(1 1)" font-size="29.5" text-anchor="end" xml:space="preserve">0.4</text>
<text transform="translate(1425.65 262.6) scale(1 1)" font-size="29.5" text-anchor="end" xml:space="preserve">0.6</text>
<text transform="translate(1425.65 185.1) scale(1 1)" font-size="29.5" text-anchor="end" xml:space="preserve">0.8</text>
<text transform="translate(1446.8 530.85) scale(1 1)" font-size="29" text-anchor="middle" xml:space="preserve">J</text>
<text transform="translate(1483.22 530.85) scale(1 1)" font-size="29" text-anchor="middle" xml:space="preserve">F</text>
<text transform="translate(1515.84 530.85) scale(1 1)" font-size="29" text-anchor="middle" xml:space="preserve">M</text>
<text transform="translate(1548.46 530.85) scale(1 1)" font-size="29" text-anchor="middle" xml:space="preserve">A</text>
<text transform="translate(1581.08 530.85) scale(1 1)" font-size="29" text-anchor="middle" xml:space="preserve">M</text>
<text transform="translate(1609.9 530.85) scale(1 1)" font-size="29" text-anchor="middle" xml:space="preserve">J</text>
<text transform="translate(1642.52 530.85) scale(1 1)" font-size="29" text-anchor="middle" xml:space="preserve">J</text>
<text transform="translate(1678.94 530.85) scale(1 1)" font-size="29" text-anchor="middle" xml:space="preserve">A</text>
<text transform="translate(1711.56 530.85) scale(1 1)" font-size="29" text-anchor="middle" xml:space="preserve">S</text>
<text transform="translate(1744.18 530.85) scale(1 1)" font-size="29" text-anchor="middle" xml:space="preserve">O</text>
<text transform="translate(1776.8 530.85) scale(1 1)" font-size="29" text-anchor="middle" xml:space="preserve">N</text>
<text transform="translate(1809.42 530.85) scale(1 1)" font-size="29" text-anchor="middle" xml:space="preserve">D</text>
<text transform="translate(1627.45 136.45) scale(1 1)" font-size="36.7" text-anchor="middle" xml:space="preserve">(10) Moscow_MSU_MO (Russia)</text>
<text transform="translate(1441.4 180.35) scale(1 1)" font-size="33.8" textLength="132.5" lengthAdjust="spacing" xml:space="preserve">55.71° N,</text>
<text transform="translate(1574.4 180.35) scale(1 1)" font-size="33.8" textLength="137" lengthAdjust="spacing" xml:space="preserve">37.52° E,</text>
<text transform="translate(1730.65 180.35) scale(1 1)" font-size="33.8" xml:space="preserve">192</text>
<text transform="translate(1817 180.35) scale(1 1)" font-size="33.8" text-anchor="end" xml:space="preserve">m</text>
<rect x="1446.65" y="198.05" width="12.6" height="25.6" fill="#bebebe"/>
<rect x="1446.65" y="231.55" width="12.6" height="25.4" fill="#5c320c"/>
<text transform="translate(1462.55 217.55) scale(1 1)" font-size="29.3" xml:space="preserve">AERONET-clim</text>
<text transform="translate(1462.55 251.25) scale(1 1)" font-size="29.3" xml:space="preserve">AERONET</text>
<text transform="translate(1689.75 217.55) scale(1 1)" font-size="29.3" xml:space="preserve">( 0.16)</text>
<text transform="translate(1689.75 251.25) scale(1 1)" font-size="29.3" xml:space="preserve">( 0.17)</text>
<text transform="translate(1982.75 163.95) scale(1 1)" font-size="29" xml:space="preserve">Ratio</text>
<text transform="translate(1877.05 206.65) scale(1 1)" font-size="24.6" xml:space="preserve">MISR</text>
<path d="M1846.95 207.35L1854.95 199.35L1862.95 207.35L1854.95 215.35Z" fill="none" stroke="#00ee00" stroke-width="2.4"/>
<text transform="translate(1988.75 206.95) scale(1 1)" font-size="29.6" xml:space="preserve">1.82</text>
<text transform="translate(1877.05 234.47) scale(1 1)" font-size="24.6" xml:space="preserve">NOBB</text>
<rect x="1848.55" y="230.77" width="22" height="8" fill="#000000"/>
<text transform="translate(1988.75 234.77) scale(1 1)" font-size="29.6" xml:space="preserve">1.16</text>
<text transform="translate(1877.05 262.29) scale(1 1)" font-size="24.6" xml:space="preserve">GFED3.1</text>
<rect x="1848.55" y="259.59" width="22" height="6" fill="#0000ff"/>
<text transform="translate(1988.75 262.59) scale(1 1)" font-size="29.6" xml:space="preserve">1.22</text>
<text transform="translate(1877.05 290.11) scale(1 1)" font-size="24.6" xml:space="preserve">GFED4s</text>
<rect x="1848.55" y="287.41" width="22" height="6" fill="#00fbff"/>
<text transform="translate(1988.75 290.41) scale(1 1)" font-size="29.6" xml:space="preserve">1.21</text>
<text transform="translate(1877.05 317.93) scale(1 1)" font-size="24.6" xml:space="preserve">FINN1.5</text>
<rect x="1848.55" y="315.23" width="22" height="6" fill="#2cc830"/>
<text transform="translate(1988.75 318.23) scale(1 1)" font-size="29.6" xml:space="preserve">1.19</text>
<text transform="translate(1877.05 345.75) scale(1 1)" font-size="24.6" xml:space="preserve">GFAS1.2</text>
<rect x="1848.55" y="343.05" width="22" height="6" fill="#ee82ee"/>
<text transform="translate(1988.75 346.05) scale(1 1)" font-size="29.6" xml:space="preserve">1.18</text>
<text transform="translate(1877.05 373.57) scale(1 1)" font-size="24.6" xml:space="preserve">FEER1.0</text>
<rect x="1848.55" y="370.87" width="22" height="6" fill="#ff0000"/>
<text transform="translate(1988.75 373.87) scale(1 1)" font-size="29.6" xml:space="preserve">1.28</text>
<text transform="translate(1877.05 401.39) scale(1 1)" font-size="24.6" xml:space="preserve">QFED2.4</text>
<rect x="1848.55" y="398.69" width="22" height="6" fill="#f4a460"/>
<text transform="translate(1988.75 401.69) scale(1 1)" font-size="29.6" xml:space="preserve">1.34</text>
</g>
<g>
<rect x="1438.7" y="945.5" width="23" height="66.75" fill="#bebebe"/>
<rect x="1471.32" y="931" width="23" height="81.25" fill="#bebebe"/>
<rect x="1503.94" y="867.25" width="23" height="145" fill="#bebebe"/>
<rect x="1536.56" y="864.75" width="23" height="147.5" fill="#bebebe"/>
<rect x="1569.18" y="920" width="23" height="92.25" fill="#bebebe"/>
<rect x="1601.8" y="950" width="23" height="62.25" fill="#bebebe"/>
<rect x="1634.42" y="946.75" width="23" height="65.5" fill="#bebebe"/>
<rect x="1667.04" y="930.5" width="23" height="81.75" fill="#bebebe"/>
<rect x="1699.66" y="939.75" width="23" height="72.5" fill="#bebebe"/>
<rect x="1732.28" y="944.25" width="23" height="68" fill="#bebebe"/>
<rect x="1764.9" y="936.25" width="23" height="76" fill="#bebebe"/>
<rect x="1797.52" y="956.75" width="23" height="55.5" fill="#bebebe"/>
<rect x="1446.2" y="928" width="8" height="84.25" fill="#5c320c"/>
<rect x="1511.44" y="865.5" width="8" height="146.75" fill="#5c320c"/>
<rect x="1544.06" y="879.75" width="8" height="132.5" fill="#5c320c"/>
<rect x="1576.68" y="916.25" width="8" height="96" fill="#5c320c"/>
<rect x="1609.3" y="955.5" width="8" height="56.75" fill="#5c320c"/>
<rect x="1641.92" y="947.5" width="8" height="64.75" fill="#5c320c"/>
<rect x="1674.54" y="938" width="8" height="74.25" fill="#5c320c"/>
<rect x="1707.16" y="905" width="8" height="107.25" fill="#5c320c"/>
<rect x="1739.78" y="937.5" width="8" height="74.75" fill="#5c320c"/>
<clipPath id="c11"><rect x="1434.25" y="679.75" width="407.5" height="332.5"/></clipPath>
<g clip-path="url(#c11)">
<path d="M1442.2 965L1450 957.2L1457.8 965L1450 972.8Z" fill="none" stroke="#00ee00" stroke-width="2.4"/>
<path d="M1474.82 960.5L1482.62 952.7L1490.42 960.5L1482.62 968.3Z" fill="none" stroke="#00ee00" stroke-width="2.4"/>
<path d="M1507.44 974.75L1515.24 966.95L1523.04 974.75L1515.24 982.55Z" fill="none" stroke="#00ee00" stroke-width="2.4"/>
<path d="M1540.06 985.5L1547.86 977.7L1555.66 985.5L1547.86 993.3Z" fill="none" stroke="#00ee00" stroke-width="2.4"/>
<path d="M1572.68 994.25L1580.48 986.45L1588.28 994.25L1580.48 1002.05Z" fill="none" stroke="#00ee00" stroke-width="2.4"/>
<path d="M1605.3 882.5L1613.1 874.7L1620.9 882.5L1613.1 890.3Z" fill="none" stroke="#00ee00" stroke-width="2.4"/>
<path d="M1637.92 889.75L1645.72 881.95L1653.52 889.75L1645.72 897.55Z" fill="none" stroke="#00ee00" stroke-width="2.4"/>
<path d="M1670.54 929.25L1678.34 921.45L1686.14 929.25L1678.34 937.05Z" fill="none" stroke="#00ee00" stroke-width="2.4"/>
<path d="M1703.16 960.5L1710.96 952.7L1718.76 960.5L1710.96 968.3Z" fill="none" stroke="#00ee00" stroke-width="2.4"/>
<path d="M1735.78 966.75L1743.58 958.95L1751.38 966.75L1743.58 974.55Z" fill="none" stroke="#00ee00" stroke-width="2.4"/>
<path d="M1768.4 974.75L1776.2 966.95L1784 974.75L1776.2 982.55Z" fill="none" stroke="#00ee00" stroke-width="2.4"/>
<path d="M1801.02 961.75L1808.82 953.95L1816.62 961.75L1808.82 969.55Z" fill="none" stroke="#00ee00" stroke-width="2.4"/>
<polyline points="1450,961.75 1482.62,932.25 1515.24,950 1547.86,955.5 1580.48,958.5 1613.1,979.75 1645.72,980 1678.34,975.25 1710.96,949.5 1743.58,971.25 1776.2,969.25 1808.82,960.25" fill="none" stroke="#000000" stroke-width="3.4" stroke-linejoin="miter"/>
<polyline points="1450,961.75 1482.62,931.75 1515.24,945 1547.86,949.25 1580.48,956.75 1613.1,979.5 1645.72,979.75 1678.34,975 1710.96,949.25 1743.58,971 1776.2,969 1808.82,960" fill="none" stroke="#0000ff" stroke-width="3.4" stroke-linejoin="miter"/>
<polyline points="1450,961.75 1482.62,931.75 1515.24,942.5 1547.86,946.75 1580.48,956 1613.1,979.5 1645.72,979.75 1678.34,975 1710.96,949.25 1743.58,971 1776.2,969 1808.82,960" fill="none" stroke="#00fbff" stroke-width="3.4" stroke-linejoin="miter"/>
<polyline points="1450,961 1482.62,926 1515.24,913 1547.86,886.75 1580.48,951 1613.1,978.75 1645.72,979.25 1678.34,974.5 1710.96,948.5 1743.58,970 1776.2,968 1808.82,958.5" fill="none" stroke="#2cc830" stroke-width="3.4" stroke-linejoin="miter"/>
<polyline points="1450,961.75 1482.62,931.75 1515.24,938.5 1547.86,929.25 1580.48,954.25 1613.1,979.5 1645.72,979.75 1678.34,975 1710.96,949.25 1743.58,971 1776.2,969 1808.82,960" fill="none" stroke="#ee82ee" stroke-width="3.4" stroke-linejoin="miter"/>
<polyline points="1450,961.25 1482.62,927.5 1515.24,929.25 1547.86,922.25 1580.48,952.5 1613.1,979 1645.72,979.5 1678.34,974.75 1710.96,948.75 1743.58,970.5 1776.2,968.5 1808.82,959.25" fill="none" stroke="#ff0000" stroke-width="3.4" stroke-linejoin="miter"/>
<polyline points="1450,960.5 1482.62,924.25 1515.24,903 1547.86,868 1580.48,950 1613.1,978.5 1645.72,979.25 1678.34,974.25 1710.96,948 1743.58,969.75 1776.2,967.5 1808.82,957.5" fill="none" stroke="#f4a460" stroke-width="3.4" stroke-linejoin="miter"/>
</g>
<rect x="1433.5" y="679" width="408" height="333.05" fill="none" stroke="#1c1c1c" stroke-width="1.6"/>
<path d="M1450 679v-9.8M1450 1012.05v10M1482.62 679v-9.8M1482.62 1012.05v10M1515.24 679v-9.8M1515.24 1012.05v10M1547.86 679v-9.8M1547.86 1012.05v10M1580.48 679v-9.8M1580.48 1012.05v10M1613.1 679v-9.8M1613.1 1012.05v10M1645.72 679v-9.8M1645.72 1012.05v10M1678.34 679v-9.8M1678.34 1012.05v10M1710.96 679v-9.8M1710.96 1012.05v10M1743.58 679v-9.8M1743.58 1012.05v10M1776.2 679v-9.8M1776.2 1012.05v10M1808.82 679v-9.8M1808.82 1012.05v10M1433.5 705.5h4M1841.5 705.5h-4M1433.5 749.5h4M1841.5 749.5h-4M1433.5 793.25h4M1841.5 793.25h-4M1433.5 837h4M1841.5 837h-4M1433.5 881h4M1841.5 881h-4M1433.5 924.75h4M1841.5 924.75h-4M1433.5 968.5h4M1841.5 968.5h-4" stroke="#1c1c1c" stroke-width="1.4" fill="none"/>
<path d="M1433.5 1001.29h2.3M1841.5 1001.29h-2.3M1433.5 990.34h2.3M1841.5 990.34h-2.3M1433.5 979.38h2.3M1841.5 979.38h-2.3M1433.5 957.47h2.3M1841.5 957.47h-2.3M1433.5 946.52h2.3M1841.5 946.52h-2.3M1433.5 935.56h2.3M1841.5 935.56h-2.3M1433.5 913.65h2.3M1841.5 913.65h-2.3M1433.5 902.7h2.3M1841.5 902.7h-2.3M1433.5 891.74h2.3M1841.5 891.74h-2.3M1433.5 869.83h2.3M1841.5 869.83h-2.3M1433.5 858.88h2.3M1841.5 858.88h-2.3M1433.5 847.92h2.3M1841.5 847.92h-2.3M1433.5 826.01h2.3M1841.5 826.01h-2.3M1433.5 815.05h2.3M1841.5 815.05h-2.3M1433.5 804.1h2.3M1841.5 804.1h-2.3M1433.5 782.19h2.3M1841.5 782.19h-2.3M1433.5 771.23h2.3M1841.5 771.23h-2.3M1433.5 760.28h2.3M1841.5 760.28h-2.3M1433.5 738.37h2.3M1841.5 738.37h-2.3M1433.5 727.41h2.3M1841.5 727.41h-2.3M1433.5 716.46h2.3M1841.5 716.46h-2.3M1433.5 694.54h2.3M1841.5 694.54h-2.3M1433.5 683.59h2.3M1841.5 683.59h-2.3" stroke="#111" stroke-width="1.1" fill="none"/>
<text transform="translate(1425.65 1011.85) scale(1 1)" font-size="29.5" text-anchor="end" xml:space="preserve">0.0</text>
<text transform="translate(1425.65 978.6) scale(1 1)" font-size="29.5" text-anchor="end" xml:space="preserve">0.2</text>
<text transform="translate(1425.65 934.85) scale(1 1)" font-size="29.5" text-anchor="end" xml:space="preserve">0.4</text>
<text transform="translate(1425.65 891.1) scale(1 1)" font-size="29.5" text-anchor="end" xml:space="preserve">0.6</text>
<text transform="translate(1425.65 847.1) scale(1 1)" font-size="29.5" text-anchor="end" xml:space="preserve">0.8</text>
<text transform="translate(1425.65 803.35) scale(1 1)" font-size="29.5" text-anchor="end" xml:space="preserve">1.0</text>
<text transform="translate(1425.65 759.6) scale(1 1)" font-size="29.5" text-anchor="end" xml:space="preserve">1.2</text>
<text transform="translate(1425.65 715.6) scale(1 1)" font-size="29.5" text-anchor="end" xml:space="preserve">1.4</text>
<text transform="translate(1446.8 1058.85) scale(1 1)" font-size="29" text-anchor="middle" xml:space="preserve">J</text>
<text transform="translate(1483.22 1058.85) scale(1 1)" font-size="29" text-anchor="middle" xml:space="preserve">F</text>
<text transform="translate(1515.84 1058.85) scale(1 1)" font-size="29" text-anchor="middle" xml:space="preserve">M</text>
<text transform="translate(1548.46 1058.85) scale(1 1)" font-size="29" text-anchor="middle" xml:space="preserve">A</text>
<text transform="translate(1581.08 1058.85) scale(1 1)" font-size="29" text-anchor="middle" xml:space="preserve">M</text>
<text transform="translate(1609.9 1058.85) scale(1 1)" font-size="29" text-anchor="middle" xml:space="preserve">J</text>
<text transform="translate(1642.52 1058.85) scale(1 1)" font-size="29" text-anchor="middle" xml:space="preserve">J</text>
<text transform="translate(1678.94 1058.85) scale(1 1)" font-size="29" text-anchor="middle" xml:space="preserve">A</text>
<text transform="translate(1711.56 1058.85) scale(1 1)" font-size="29" text-anchor="middle" xml:space="preserve">S</text>
<text transform="translate(1744.18 1058.85) scale(1 1)" font-size="29" text-anchor="middle" xml:space="preserve">O</text>
<text transform="translate(1776.8 1058.85) scale(1 1)" font-size="29" text-anchor="middle" xml:space="preserve">N</text>
<text transform="translate(1809.42 1058.85) scale(1 1)" font-size="29" text-anchor="middle" xml:space="preserve">D</text>
<text transform="translate(1627.45 664.45) scale(1 1)" font-size="36.7" text-anchor="middle" xml:space="preserve">(11) EPA-NCU (Taiwan)</text>
<text transform="translate(1441.4 708.35) scale(1 1)" font-size="33.8" textLength="132.5" lengthAdjust="spacing" xml:space="preserve">24.97°N,</text>
<text transform="translate(1573.15 708.35) scale(1 1)" font-size="33.8" textLength="147" lengthAdjust="spacing" xml:space="preserve">121.19°E,</text>
<text transform="translate(1734.4 708.35) scale(1 1)" font-size="33.8" xml:space="preserve">144</text>
<text transform="translate(1827 708.35) scale(1 1)" font-size="33.8" text-anchor="end" xml:space="preserve">m</text>
<rect x="1446.65" y="726.05" width="12.6" height="25.6" fill="#bebebe"/>
<rect x="1446.65" y="759.55" width="12.6" height="25.4" fill="#5c320c"/>
<text transform="translate(1462.55 745.55) scale(1 1)" font-size="29.3" xml:space="preserve">AERONET-clim</text>
<text transform="translate(1462.55 779.25) scale(1 1)" font-size="29.3" xml:space="preserve">AERONET</text>
<text transform="translate(1689.75 745.55) scale(1 1)" font-size="29.3" xml:space="preserve">( 0.39)</text>
<text transform="translate(1689.75 779.25) scale(1 1)" font-size="29.3" xml:space="preserve">( 0.43)</text>
<text transform="translate(1982.75 691.95) scale(1 1)" font-size="29" xml:space="preserve">Ratio</text>
<text transform="translate(1877.05 734.65) scale(1 1)" font-size="24.6" xml:space="preserve">MISR</text>
<path d="M1846.95 735.35L1854.95 727.35L1862.95 735.35L1854.95 743.35Z" fill="none" stroke="#00ee00" stroke-width="2.4"/>
<text transform="translate(1988.75 734.95) scale(1 1)" font-size="29.6" xml:space="preserve">0.67</text>
<text transform="translate(1877.05 762.47) scale(1 1)" font-size="24.6" xml:space="preserve">NOBB</text>
<rect x="1848.55" y="758.77" width="22" height="8" fill="#000000"/>
<text transform="translate(1988.75 762.77) scale(1 1)" font-size="29.6" xml:space="preserve">0.51</text>
<text transform="translate(1877.05 790.29) scale(1 1)" font-size="24.6" xml:space="preserve">GFED3.1</text>
<rect x="1848.55" y="787.59" width="22" height="6" fill="#0000ff"/>
<text transform="translate(1988.75 790.59) scale(1 1)" font-size="29.6" xml:space="preserve">0.53</text>
<text transform="translate(1877.05 818.11) scale(1 1)" font-size="24.6" xml:space="preserve">GFED4s</text>
<rect x="1848.55" y="815.41" width="22" height="6" fill="#00fbff"/>
<text transform="translate(1988.75 818.41) scale(1 1)" font-size="29.6" xml:space="preserve">0.54</text>
<text transform="translate(1877.05 845.93) scale(1 1)" font-size="24.6" xml:space="preserve">FINN1.5</text>
<rect x="1848.55" y="843.23" width="22" height="6" fill="#2cc830"/>
<text transform="translate(1988.75 846.23) scale(1 1)" font-size="29.6" xml:space="preserve">0.65</text>
<text transform="translate(1877.05 873.75) scale(1 1)" font-size="24.6" xml:space="preserve">GFAS1.2</text>
<rect x="1848.55" y="871.05" width="22" height="6" fill="#ee82ee"/>
<text transform="translate(1988.75 874.05) scale(1 1)" font-size="29.6" xml:space="preserve">0.56</text>
<text transform="translate(1877.05 901.57) scale(1 1)" font-size="24.6" xml:space="preserve">FEER1.0</text>
<rect x="1848.55" y="898.87" width="22" height="6" fill="#ff0000"/>
<text transform="translate(1988.75 901.87) scale(1 1)" font-size="29.6" xml:space="preserve">0.59</text>
<text transform="translate(1877.05 929.39) scale(1 1)" font-size="24.6" xml:space="preserve">QFED2.4</text>
<rect x="1848.55" y="926.69" width="22" height="6" fill="#f4a460"/>
<text transform="translate(1988.75 929.69) scale(1 1)" font-size="29.6" xml:space="preserve">0.69</text>
</g>
<g>
<rect x="1438.7" y="1494" width="23" height="46.25" fill="#bebebe"/>
<rect x="1471.32" y="1463.5" width="23" height="76.75" fill="#bebebe"/>
<rect x="1503.94" y="1392.75" width="23" height="147.5" fill="#bebebe"/>
<rect x="1536.56" y="1409.25" width="23" height="131" fill="#bebebe"/>
<rect x="1569.18" y="1474.25" width="23" height="66" fill="#bebebe"/>
<rect x="1601.8" y="1507.25" width="23" height="33" fill="#bebebe"/>
<rect x="1634.42" y="1521" width="23" height="19.25" fill="#bebebe"/>
<rect x="1667.04" y="1521" width="23" height="19.25" fill="#bebebe"/>
<rect x="1699.66" y="1511" width="23" height="29.25" fill="#bebebe"/>
<rect x="1732.28" y="1489.25" width="23" height="51" fill="#bebebe"/>
<rect x="1764.9" y="1504.25" width="23" height="36" fill="#bebebe"/>
<rect x="1797.52" y="1494.75" width="23" height="45.5" fill="#bebebe"/>
<rect x="1446.2" y="1494" width="8" height="46.25" fill="#5c320c"/>
<rect x="1478.82" y="1468.5" width="8" height="71.75" fill="#5c320c"/>
<rect x="1511.44" y="1394" width="8" height="146.25" fill="#5c320c"/>
<rect x="1544.06" y="1417.75" width="8" height="122.5" fill="#5c320c"/>
<rect x="1576.68" y="1471.75" width="8" height="68.5" fill="#5c320c"/>
<rect x="1609.3" y="1516.5" width="8" height="23.75" fill="#5c320c"/>
<rect x="1641.92" y="1527.25" width="8" height="13" fill="#5c320c"/>
<rect x="1674.54" y="1521.5" width="8" height="18.75" fill="#5c320c"/>
<rect x="1707.16" y="1505.25" width="8" height="35" fill="#5c320c"/>
<rect x="1739.78" y="1492.75" width="8" height="47.5" fill="#5c320c"/>
<rect x="1772.4" y="1505.5" width="8" height="34.75" fill="#5c320c"/>
<rect x="1805.02" y="1485.5" width="8" height="54.75" fill="#5c320c"/>
<clipPath id="c12"><rect x="1434.25" y="1207.75" width="407.5" height="332.5"/></clipPath>
<g clip-path="url(#c12)">
<path d="M1442.2 1519.75L1450 1511.95L1457.8 1519.75L1450 1527.55Z" fill="none" stroke="#00ee00" stroke-width="2.4"/>
<path d="M1474.82 1518L1482.62 1510.2L1490.42 1518L1482.62 1525.8Z" fill="none" stroke="#00ee00" stroke-width="2.4"/>
<path d="M1507.44 1518L1515.24 1510.2L1523.04 1518L1515.24 1525.8Z" fill="none" stroke="#00ee00" stroke-width="2.4"/>
<path d="M1540.06 1506.5L1547.86 1498.7L1555.66 1506.5L1547.86 1514.3Z" fill="none" stroke="#00ee00" stroke-width="2.4"/>
<path d="M1572.68 1499.75L1580.48 1491.95L1588.28 1499.75L1580.48 1507.55Z" fill="none" stroke="#00ee00" stroke-width="2.4"/>
<path d="M1605.3 1419.75L1613.1 1411.95L1620.9 1419.75L1613.1 1427.55Z" fill="none" stroke="#00ee00" stroke-width="2.4"/>
<path d="M1637.92 1448L1645.72 1440.2L1653.52 1448L1645.72 1455.8Z" fill="none" stroke="#00ee00" stroke-width="2.4"/>
<path d="M1670.54 1498.5L1678.34 1490.7L1686.14 1498.5L1678.34 1506.3Z" fill="none" stroke="#00ee00" stroke-width="2.4"/>
<path d="M1703.16 1494.75L1710.96 1486.95L1718.76 1494.75L1710.96 1502.55Z" fill="none" stroke="#00ee00" stroke-width="2.4"/>
<path d="M1735.78 1481.75L1743.58 1473.95L1751.38 1481.75L1743.58 1489.55Z" fill="none" stroke="#00ee00" stroke-width="2.4"/>
<path d="M1768.4 1512.25L1776.2 1504.45L1784 1512.25L1776.2 1520.05Z" fill="none" stroke="#00ee00" stroke-width="2.4"/>
<path d="M1801.02 1524.25L1808.82 1516.45L1816.62 1524.25L1808.82 1532.05Z" fill="none" stroke="#00ee00" stroke-width="2.4"/>
<polyline points="1450,1518.5 1482.62,1509 1515.24,1509 1547.86,1512.25 1580.48,1500.25 1613.1,1516.5 1645.72,1521.25 1678.34,1516.25 1710.96,1512.5 1743.58,1511.75 1776.2,1511 1808.82,1504" fill="none" stroke="#000000" stroke-width="3.4" stroke-linejoin="miter"/>
<polyline points="1450,1518 1482.62,1503 1515.24,1488.5 1547.86,1502.25 1580.48,1499 1613.1,1516 1645.72,1521 1678.34,1516 1710.96,1512.25 1743.58,1511.5 1776.2,1510.75 1808.82,1503.5" fill="none" stroke="#0000ff" stroke-width="3.4" stroke-linejoin="miter"/>
<polyline points="1450,1518 1482.62,1504 1515.24,1486.5 1547.86,1506 1580.48,1499 1613.1,1516 1645.72,1521 1678.34,1516 1710.96,1512.25 1743.58,1511.5 1776.2,1510.75 1808.82,1503.5" fill="none" stroke="#00fbff" stroke-width="3.4" stroke-linejoin="miter"/>
<polyline points="1450,1517 1482.62,1499.75 1515.24,1446 1547.86,1458.5 1580.48,1497.25 1613.1,1515.75 1645.72,1520.75 1678.34,1515.75 1710.96,1512 1743.58,1511.25 1776.2,1510.5 1808.82,1502.5" fill="none" stroke="#2cc830" stroke-width="3.4" stroke-linejoin="miter"/>
<polyline points="1450,1519 1482.62,1505.5 1515.24,1491.75 1547.86,1499 1580.48,1498.5 1613.1,1516.5 1645.72,1521 1678.34,1516 1710.96,1512.25 1743.58,1511.75 1776.2,1511 1808.82,1504" fill="none" stroke="#ee82ee" stroke-width="3.4" stroke-linejoin="miter"/>
<polyline points="1450,1517.5 1482.62,1501 1515.24,1468.5 1547.86,1491 1580.48,1498 1613.1,1516 1645.72,1521 1678.34,1516 1710.96,1512.25 1743.58,1511.5 1776.2,1510.75 1808.82,1503" fill="none" stroke="#ff0000" stroke-width="3.4" stroke-linejoin="miter"/>
<polyline points="1450,1516.5 1482.62,1499 1515.24,1430.25 1547.86,1447.25 1580.48,1496.5 1613.1,1515.5 1645.72,1520.5 1678.34,1515.5 1710.96,1511.75 1743.58,1511 1776.2,1510.25 1808.82,1501.75" fill="none" stroke="#f4a460" stroke-width="3.4" stroke-linejoin="miter"/>
</g>
<rect x="1433.5" y="1207" width="408" height="333.05" fill="none" stroke="#1c1c1c" stroke-width="1.6"/>
<path d="M1450 1207v-9.8M1450 1540.05v10M1482.62 1207v-9.8M1482.62 1540.05v10M1515.24 1207v-9.8M1515.24 1540.05v10M1547.86 1207v-9.8M1547.86 1540.05v10M1580.48 1207v-9.8M1580.48 1540.05v10M1613.1 1207v-9.8M1613.1 1540.05v10M1645.72 1207v-9.8M1645.72 1540.05v10M1678.34 1207v-9.8M1678.34 1540.05v10M1710.96 1207v-9.8M1710.96 1540.05v10M1743.58 1207v-9.8M1743.58 1540.05v10M1776.2 1207v-9.8M1776.2 1540.05v10M1808.82 1207v-9.8M1808.82 1540.05v10M1433.5 1289.25h4M1841.5 1289.25h-4M1433.5 1373h4M1841.5 1373h-4M1433.5 1456.5h4M1841.5 1456.5h-4" stroke="#1c1c1c" stroke-width="1.4" fill="none"/>
<path d="M1433.5 1523.52h2.3M1841.5 1523.52h-2.3M1433.5 1506.78h2.3M1841.5 1506.78h-2.3M1433.5 1490.05h2.3M1841.5 1490.05h-2.3M1433.5 1473.32h2.3M1841.5 1473.32h-2.3M1433.5 1439.85h2.3M1841.5 1439.85h-2.3M1433.5 1423.12h2.3M1841.5 1423.12h-2.3M1433.5 1406.38h2.3M1841.5 1406.38h-2.3M1433.5 1389.65h2.3M1841.5 1389.65h-2.3M1433.5 1356.18h2.3M1841.5 1356.18h-2.3M1433.5 1339.45h2.3M1841.5 1339.45h-2.3M1433.5 1322.72h2.3M1841.5 1322.72h-2.3M1433.5 1305.98h2.3M1841.5 1305.98h-2.3M1433.5 1272.52h2.3M1841.5 1272.52h-2.3M1433.5 1255.78h2.3M1841.5 1255.78h-2.3M1433.5 1239.05h2.3M1841.5 1239.05h-2.3M1433.5 1222.32h2.3M1841.5 1222.32h-2.3" stroke="#111" stroke-width="1.1" fill="none"/>
<text transform="translate(1425.65 1539.85) scale(1 1)" font-size="29.5" text-anchor="end" xml:space="preserve">0.0</text>
<text transform="translate(1425.65 1466.6) scale(1 1)" font-size="29.5" text-anchor="end" xml:space="preserve">0.5</text>
<text transform="translate(1425.65 1383.1) scale(1 1)" font-size="29.5" text-anchor="end" xml:space="preserve">1.0</text>
<text transform="translate(1425.65 1299.35) scale(1 1)" font-size="29.5" text-anchor="end" xml:space="preserve">1.5</text>
<text transform="translate(1446.8 1586.85) scale(1 1)" font-size="29" text-anchor="middle" xml:space="preserve">J</text>
<text transform="translate(1483.22 1586.85) scale(1 1)" font-size="29" text-anchor="middle" xml:space="preserve">F</text>
<text transform="translate(1515.84 1586.85) scale(1 1)" font-size="29" text-anchor="middle" xml:space="preserve">M</text>
<text transform="translate(1548.46 1586.85) scale(1 1)" font-size="29" text-anchor="middle" xml:space="preserve">A</text>
<text transform="translate(1581.08 1586.85) scale(1 1)" font-size="29" text-anchor="middle" xml:space="preserve">M</text>
<text transform="translate(1609.9 1586.85) scale(1 1)" font-size="29" text-anchor="middle" xml:space="preserve">J</text>
<text transform="translate(1642.52 1586.85) scale(1 1)" font-size="29" text-anchor="middle" xml:space="preserve">J</text>
<text transform="translate(1678.94 1586.85) scale(1 1)" font-size="29" text-anchor="middle" xml:space="preserve">A</text>
<text transform="translate(1711.56 1586.85) scale(1 1)" font-size="29" text-anchor="middle" xml:space="preserve">S</text>
<text transform="translate(1744.18 1586.85) scale(1 1)" font-size="29" text-anchor="middle" xml:space="preserve">O</text>
<text transform="translate(1776.8 1586.85) scale(1 1)" font-size="29" text-anchor="middle" xml:space="preserve">N</text>
<text transform="translate(1809.42 1586.85) scale(1 1)" font-size="29" text-anchor="middle" xml:space="preserve">D</text>
<text transform="translate(1627.45 1192.45) scale(1 1)" font-size="36.7" text-anchor="middle" xml:space="preserve">(12) Chiang_Mai_Met_Sta (Thailand)</text>
<text transform="translate(1441.4 1236.35) scale(1 1)" font-size="33.8" textLength="132.5" lengthAdjust="spacing" xml:space="preserve">18.77°N,</text>
<text transform="translate(1575.65 1236.35) scale(1 1)" font-size="33.8" textLength="135.75" lengthAdjust="spacing" xml:space="preserve">98.97° E,</text>
<text transform="translate(1728.15 1236.35) scale(1 1)" font-size="33.8" xml:space="preserve">312</text>
<text transform="translate(1817 1236.35) scale(1 1)" font-size="33.8" text-anchor="end" xml:space="preserve">m</text>
<rect x="1446.65" y="1254.05" width="12.6" height="25.6" fill="#bebebe"/>
<rect x="1446.65" y="1287.55" width="12.6" height="25.4" fill="#5c320c"/>
<text transform="translate(1462.55 1273.55) scale(1 1)" font-size="29.3" xml:space="preserve">AERONET-clim</text>
<text transform="translate(1462.55 1307.25) scale(1 1)" font-size="29.3" xml:space="preserve">AERONET</text>
<text transform="translate(1689.75 1273.55) scale(1 1)" font-size="29.3" xml:space="preserve">( 0.35)</text>
<text transform="translate(1689.75 1307.25) scale(1 1)" font-size="29.3" xml:space="preserve">( 0.34)</text>
<text transform="translate(1982.75 1219.95) scale(1 1)" font-size="29" xml:space="preserve">Ratio</text>
<text transform="translate(1877.05 1262.65) scale(1 1)" font-size="24.6" xml:space="preserve">MISR</text>
<path d="M1846.95 1263.35L1854.95 1255.35L1862.95 1263.35L1854.95 1271.35Z" fill="none" stroke="#00ee00" stroke-width="2.4"/>
<text transform="translate(1988.75 1262.95) scale(1 1)" font-size="29.6" xml:space="preserve">0.79</text>
<text transform="translate(1877.05 1290.47) scale(1 1)" font-size="24.6" xml:space="preserve">NOBB</text>
<rect x="1848.55" y="1286.77" width="22" height="8" fill="#000000"/>
<text transform="translate(1988.75 1290.77) scale(1 1)" font-size="29.6" xml:space="preserve">0.50</text>
<text transform="translate(1877.05 1318.29) scale(1 1)" font-size="24.6" xml:space="preserve">GFED3.1</text>
<rect x="1848.55" y="1315.59" width="22" height="6" fill="#0000ff"/>
<text transform="translate(1988.75 1318.59) scale(1 1)" font-size="29.6" xml:space="preserve">0.55</text>
<text transform="translate(1877.05 1346.11) scale(1 1)" font-size="24.6" xml:space="preserve">GFED4s</text>
<rect x="1848.55" y="1343.41" width="22" height="6" fill="#00fbff"/>
<text transform="translate(1988.75 1346.41) scale(1 1)" font-size="29.6" xml:space="preserve">0.55</text>
<text transform="translate(1877.05 1373.93) scale(1 1)" font-size="24.6" xml:space="preserve">FINN1.5</text>
<rect x="1848.55" y="1371.23" width="22" height="6" fill="#2cc830"/>
<text transform="translate(1988.75 1374.23) scale(1 1)" font-size="29.6" xml:space="preserve">0.70</text>
<text transform="translate(1877.05 1401.75) scale(1 1)" font-size="24.6" xml:space="preserve">GFAS1.2</text>
<rect x="1848.55" y="1399.05" width="22" height="6" fill="#ee82ee"/>
<text transform="translate(1988.75 1402.05) scale(1 1)" font-size="29.6" xml:space="preserve">0.55</text>
<text transform="translate(1877.05 1429.57) scale(1 1)" font-size="24.6" xml:space="preserve">FEER1.0</text>
<rect x="1848.55" y="1426.87" width="22" height="6" fill="#ff0000"/>
<text transform="translate(1988.75 1429.87) scale(1 1)" font-size="29.6" xml:space="preserve">0.61</text>
<text transform="translate(1877.05 1457.39) scale(1 1)" font-size="24.6" xml:space="preserve">QFED2.4</text>
<rect x="1848.55" y="1454.69" width="22" height="6" fill="#f4a460"/>
<text transform="translate(1988.75 1457.69) scale(1 1)" font-size="29.6" xml:space="preserve">0.74</text>
</g>
<g>
<rect x="1438.7" y="2056.25" width="23" height="12.5" fill="#bebebe"/>
<rect x="1471.32" y="2055" width="23" height="13.75" fill="#bebebe"/>
<rect x="1503.94" y="2054.5" width="23" height="14.25" fill="#bebebe"/>
<rect x="1536.56" y="2060" width="23" height="8.75" fill="#bebebe"/>
<rect x="1569.18" y="2059.5" width="23" height="9.25" fill="#bebebe"/>
<rect x="1601.8" y="2058.75" width="23" height="10" fill="#bebebe"/>
<rect x="1634.42" y="2055.5" width="23" height="13.25" fill="#bebebe"/>
<rect x="1667.04" y="2029.25" width="23" height="39.5" fill="#bebebe"/>
<rect x="1699.66" y="1921.25" width="23" height="147.5" fill="#bebebe"/>
<rect x="1732.28" y="1930" width="23" height="138.75" fill="#bebebe"/>
<rect x="1764.9" y="2030.5" width="23" height="38.25" fill="#bebebe"/>
<rect x="1797.52" y="2057.5" width="23" height="11.25" fill="#bebebe"/>
<clipPath id="c13"><rect x="1434.25" y="1736.75" width="407.5" height="332"/></clipPath>
<g clip-path="url(#c13)">
<path d="M1442.2 2065L1450 2057.2L1457.8 2065L1450 2072.8Z" fill="none" stroke="#00ee00" stroke-width="2.4"/>
<path d="M1474.82 2051.25L1482.62 2043.45L1490.42 2051.25L1482.62 2059.05Z" fill="none" stroke="#00ee00" stroke-width="2.4"/>
<path d="M1507.44 2059.5L1515.24 2051.7L1523.04 2059.5L1515.24 2067.3Z" fill="none" stroke="#00ee00" stroke-width="2.4"/>
<path d="M1540.06 2062.5L1547.86 2054.7L1555.66 2062.5L1547.86 2070.3Z" fill="none" stroke="#00ee00" stroke-width="2.4"/>
<path d="M1572.68 2064.25L1580.48 2056.45L1588.28 2064.25L1580.48 2072.05Z" fill="none" stroke="#00ee00" stroke-width="2.4"/>
<path d="M1637.92 2058.75L1645.72 2050.95L1653.52 2058.75L1645.72 2066.55Z" fill="none" stroke="#00ee00" stroke-width="2.4"/>
<path d="M1703.16 2067.5L1710.96 2059.7L1718.76 2067.5L1710.96 2075.3Z" fill="none" stroke="#00ee00" stroke-width="2.4"/>
<path d="M1768.4 2061.25L1776.2 2053.45L1784 2061.25L1776.2 2069.05Z" fill="none" stroke="#00ee00" stroke-width="2.4"/>
<path d="M1801.02 2054.25L1808.82 2046.45L1816.62 2054.25L1808.82 2062.05Z" fill="none" stroke="#00ee00" stroke-width="2.4"/>
<polyline points="1450,2062.5 1482.62,2063 1515.24,2064.5 1547.86,2064.5 1580.48,2062 1613.1,2061.25 1645.72,2061.25 1678.34,2060.5 1710.96,2062 1743.58,2062 1776.2,2064 1808.82,2063.5" fill="none" stroke="#000000" stroke-width="3.4" stroke-linejoin="miter"/>
<polyline points="1450,2062.5 1482.62,2063 1515.24,2064.5 1547.86,2064.5 1580.48,2062 1613.1,2061.25 1645.72,2061.25 1678.34,2060.5 1710.96,2060.5 1743.58,2061.5 1776.2,2063.75 1808.82,2063.25" fill="none" stroke="#0000ff" stroke-width="3.4" stroke-linejoin="miter"/>
<polyline points="1450,2062.5 1482.62,2063 1515.24,2064.5 1547.86,2064.5 1580.48,2062 1613.1,2061.25 1645.72,2061.25 1678.34,2060.5 1710.96,2061.25 1743.58,2061.75 1776.2,2064 1808.82,2063.5" fill="none" stroke="#00fbff" stroke-width="3.4" stroke-linejoin="miter"/>
<polyline points="1450,2062.5 1482.62,2063 1515.24,2064.5 1547.86,2064.5 1580.48,2062 1613.1,2061.25 1645.72,2061.25 1678.34,2060.5 1710.96,2060 1743.58,2061.5 1776.2,2063.75 1808.82,2063.25" fill="none" stroke="#2cc830" stroke-width="3.4" stroke-linejoin="miter"/>
<polyline points="1450,2062.5 1482.62,2063 1515.24,2064.5 1547.86,2064.5 1580.48,2062 1613.1,2061.25 1645.72,2061.25 1678.34,2060.5 1710.96,2052 1743.58,2060.5 1776.2,2063.75 1808.82,2063.25" fill="none" stroke="#ee82ee" stroke-width="3.4" stroke-linejoin="miter"/>
<polyline points="1450,2062.5 1482.62,2063 1515.24,2064.5 1547.86,2064.5 1580.48,2062 1613.1,2061.25 1645.72,2061.25 1678.34,2060.5 1710.96,2056.25 1743.58,2061 1776.2,2063.75 1808.82,2063.25" fill="none" stroke="#ff0000" stroke-width="3.4" stroke-linejoin="miter"/>
<polyline points="1450,2062.5 1482.62,2063 1515.24,2064.5 1547.86,2064.5 1580.48,2062 1613.1,2061.25 1645.72,2061.25 1678.34,2060.5 1710.96,2059.5 1743.58,2061.25 1776.2,2063.75 1808.82,2063.25" fill="none" stroke="#f4a460" stroke-width="3.4" stroke-linejoin="miter"/>
</g>
<rect x="1433.5" y="1736" width="408" height="332.55" fill="none" stroke="#1c1c1c" stroke-width="1.6"/>
<path d="M1450 1736v-9.8M1450 2068.55v10M1482.62 1736v-9.8M1482.62 2068.55v10M1515.24 1736v-9.8M1515.24 2068.55v10M1547.86 1736v-9.8M1547.86 2068.55v10M1580.48 1736v-9.8M1580.48 2068.55v10M1613.1 1736v-9.8M1613.1 2068.55v10M1645.72 1736v-9.8M1645.72 2068.55v10M1678.34 1736v-9.8M1678.34 2068.55v10M1710.96 1736v-9.8M1710.96 2068.55v10M1743.58 1736v-9.8M1743.58 2068.55v10M1776.2 1736v-9.8M1776.2 2068.55v10M1808.82 1736v-9.8M1808.82 2068.55v10M1433.5 1742.5h4M1841.5 1742.5h-4M1433.5 1824.25h4M1841.5 1824.25h-4M1433.5 1905.75h4M1841.5 1905.75h-4M1433.5 1987h4M1841.5 1987h-4" stroke="#1c1c1c" stroke-width="1.4" fill="none"/>
<path d="M1433.5 2060.59h2.3M1841.5 2060.59h-2.3M1433.5 2052.44h2.3M1841.5 2052.44h-2.3M1433.5 2044.28h2.3M1841.5 2044.28h-2.3M1433.5 2036.12h2.3M1841.5 2036.12h-2.3M1433.5 2027.97h2.3M1841.5 2027.97h-2.3M1433.5 2019.81h2.3M1841.5 2019.81h-2.3M1433.5 2011.66h2.3M1841.5 2011.66h-2.3M1433.5 2003.5h2.3M1841.5 2003.5h-2.3M1433.5 1995.34h2.3M1841.5 1995.34h-2.3M1433.5 1979.03h2.3M1841.5 1979.03h-2.3M1433.5 1970.88h2.3M1841.5 1970.88h-2.3M1433.5 1962.72h2.3M1841.5 1962.72h-2.3M1433.5 1954.56h2.3M1841.5 1954.56h-2.3M1433.5 1946.41h2.3M1841.5 1946.41h-2.3M1433.5 1938.25h2.3M1841.5 1938.25h-2.3M1433.5 1930.09h2.3M1841.5 1930.09h-2.3M1433.5 1921.94h2.3M1841.5 1921.94h-2.3M1433.5 1913.78h2.3M1841.5 1913.78h-2.3M1433.5 1897.47h2.3M1841.5 1897.47h-2.3M1433.5 1889.31h2.3M1841.5 1889.31h-2.3M1433.5 1881.16h2.3M1841.5 1881.16h-2.3M1433.5 1873h2.3M1841.5 1873h-2.3M1433.5 1864.84h2.3M1841.5 1864.84h-2.3M1433.5 1856.69h2.3M1841.5 1856.69h-2.3M1433.5 1848.53h2.3M1841.5 1848.53h-2.3M1433.5 1840.38h2.3M1841.5 1840.38h-2.3M1433.5 1832.22h2.3M1841.5 1832.22h-2.3M1433.5 1815.91h2.3M1841.5 1815.91h-2.3M1433.5 1807.75h2.3M1841.5 1807.75h-2.3M1433.5 1799.59h2.3M1841.5 1799.59h-2.3M1433.5 1791.44h2.3M1841.5 1791.44h-2.3M1433.5 1783.28h2.3M1841.5 1783.28h-2.3M1433.5 1775.12h2.3M1841.5 1775.12h-2.3M1433.5 1766.97h2.3M1841.5 1766.97h-2.3M1433.5 1758.81h2.3M1841.5 1758.81h-2.3M1433.5 1750.66h2.3M1841.5 1750.66h-2.3" stroke="#111" stroke-width="1.1" fill="none"/>
<text transform="translate(1425.65 2068.35) scale(1 1)" font-size="29.5" text-anchor="end" xml:space="preserve">0</text>
<text transform="translate(1425.65 1997.1) scale(1 1)" font-size="29.5" text-anchor="end" xml:space="preserve">1</text>
<text transform="translate(1425.65 1915.85) scale(1 1)" font-size="29.5" text-anchor="end" xml:space="preserve">2</text>
<text transform="translate(1425.65 1834.35) scale(1 1)" font-size="29.5" text-anchor="end" xml:space="preserve">3</text>
<text transform="translate(1425.65 1752.6) scale(1 1)" font-size="29.5" text-anchor="end" xml:space="preserve">4</text>
<text transform="translate(1446.8 2115.35) scale(1 1)" font-size="29" text-anchor="middle" xml:space="preserve">J</text>
<text transform="translate(1483.22 2115.35) scale(1 1)" font-size="29" text-anchor="middle" xml:space="preserve">F</text>
<text transform="translate(1515.84 2115.35) scale(1 1)" font-size="29" text-anchor="middle" xml:space="preserve">M</text>
<text transform="translate(1548.46 2115.35) scale(1 1)" font-size="29" text-anchor="middle" xml:space="preserve">A</text>
<text transform="translate(1581.08 2115.35) scale(1 1)" font-size="29" text-anchor="middle" xml:space="preserve">M</text>
<text transform="translate(1609.9 2115.35) scale(1 1)" font-size="29" text-anchor="middle" xml:space="preserve">J</text>
<text transform="translate(1642.52 2115.35) scale(1 1)" font-size="29" text-anchor="middle" xml:space="preserve">J</text>
<text transform="translate(1678.94 2115.35) scale(1 1)" font-size="29" text-anchor="middle" xml:space="preserve">A</text>
<text transform="translate(1711.56 2115.35) scale(1 1)" font-size="29" text-anchor="middle" xml:space="preserve">S</text>
<text transform="translate(1744.18 2115.35) scale(1 1)" font-size="29" text-anchor="middle" xml:space="preserve">O</text>
<text transform="translate(1776.8 2115.35) scale(1 1)" font-size="29" text-anchor="middle" xml:space="preserve">N</text>
<text transform="translate(1809.42 2115.35) scale(1 1)" font-size="29" text-anchor="middle" xml:space="preserve">D</text>
<text transform="translate(1627.45 1721.45) scale(1 1)" font-size="36.7" text-anchor="middle" xml:space="preserve">(13) Palangkaraya (Indonesia)</text>
<text transform="translate(1442.4 1765.35) scale(1 1)" font-size="33.8" textLength="120.25" lengthAdjust="spacing" xml:space="preserve">2.23° S,</text>
<text transform="translate(1560.65 1765.35) scale(1 1)" font-size="33.8" textLength="153.25" lengthAdjust="spacing" xml:space="preserve">113.95° E,</text>
<text transform="translate(1735.65 1765.35) scale(1 1)" font-size="33.8" xml:space="preserve">27</text>
<text transform="translate(1807 1765.35) scale(1 1)" font-size="33.8" text-anchor="end" xml:space="preserve">m</text>
<rect x="1446.65" y="1783.05" width="12.6" height="25.6" fill="#bebebe"/>
<rect x="1446.65" y="1816.55" width="12.6" height="25.4" fill="#5c320c"/>
<text transform="translate(1462.55 1802.55) scale(1 1)" font-size="29.3" xml:space="preserve">AERONET-clim</text>
<text transform="translate(1462.55 1836.25) scale(1 1)" font-size="29.3" xml:space="preserve">AERONET</text>
<text transform="translate(1689.75 1802.55) scale(1 1)" font-size="29.3" xml:space="preserve">( 0.47)</text>
<text transform="translate(1982.75 1748.95) scale(1 1)" font-size="29" xml:space="preserve">Ratio</text>
<text transform="translate(1877.05 1791.65) scale(1 1)" font-size="24.6" xml:space="preserve">MISR</text>
<path d="M1846.95 1792.35L1854.95 1784.35L1862.95 1792.35L1854.95 1800.35Z" fill="none" stroke="#00ee00" stroke-width="2.4"/>
<text transform="translate(1877.05 1819.47) scale(1 1)" font-size="24.6" xml:space="preserve">NOBB</text>
<rect x="1848.55" y="1815.77" width="22" height="8" fill="#000000"/>
<text transform="translate(1877.05 1847.29) scale(1 1)" font-size="24.6" xml:space="preserve">GFED3.1</text>
<rect x="1848.55" y="1844.59" width="22" height="6" fill="#0000ff"/>
<text transform="translate(1877.05 1875.11) scale(1 1)" font-size="24.6" xml:space="preserve">GFED4s</text>
<rect x="1848.55" y="1872.41" width="22" height="6" fill="#00fbff"/>
<text transform="translate(1877.05 1902.93) scale(1 1)" font-size="24.6" xml:space="preserve">FINN1.5</text>
<rect x="1848.55" y="1900.23" width="22" height="6" fill="#2cc830"/>
<text transform="translate(1877.05 1930.75) scale(1 1)" font-size="24.6" xml:space="preserve">GFAS1.2</text>
<rect x="1848.55" y="1928.05" width="22" height="6" fill="#ee82ee"/>
<text transform="translate(1877.05 1958.57) scale(1 1)" font-size="24.6" xml:space="preserve">FEER1.0</text>
<rect x="1848.55" y="1955.87" width="22" height="6" fill="#ff0000"/>
<text transform="translate(1877.05 1986.39) scale(1 1)" font-size="24.6" xml:space="preserve">QFED2.4</text>
<rect x="1848.55" y="1983.69" width="22" height="6" fill="#f4a460"/>
</g>
<g>
<rect x="1438.7" y="2542.5" width="23" height="54.25" fill="#bebebe"/>
<rect x="1471.32" y="2551" width="23" height="45.75" fill="#bebebe"/>
<rect x="1503.94" y="2556.75" width="23" height="40" fill="#bebebe"/>
<rect x="1536.56" y="2568" width="23" height="28.75" fill="#bebebe"/>
<rect x="1569.18" y="2561.25" width="23" height="35.5" fill="#bebebe"/>
<rect x="1601.8" y="2572.5" width="23" height="24.25" fill="#bebebe"/>
<rect x="1634.42" y="2572.5" width="23" height="24.25" fill="#bebebe"/>
<rect x="1667.04" y="2554.75" width="23" height="42" fill="#bebebe"/>
<rect x="1699.66" y="2483.75" width="23" height="113" fill="#bebebe"/>
<rect x="1732.28" y="2449.25" width="23" height="147.5" fill="#bebebe"/>
<rect x="1764.9" y="2471.75" width="23" height="125" fill="#bebebe"/>
<rect x="1797.52" y="2518.5" width="23" height="78.25" fill="#bebebe"/>
<rect x="1446.2" y="2541.75" width="8" height="55" fill="#5c320c"/>
<rect x="1478.82" y="2561.75" width="8" height="35" fill="#5c320c"/>
<rect x="1511.44" y="2559.25" width="8" height="37.5" fill="#5c320c"/>
<rect x="1707.16" y="2526.75" width="8" height="70" fill="#5c320c"/>
<rect x="1739.78" y="2517.25" width="8" height="79.5" fill="#5c320c"/>
<rect x="1772.4" y="2498.75" width="8" height="98" fill="#5c320c"/>
<clipPath id="c14"><rect x="1434.25" y="2264.75" width="407.5" height="332"/></clipPath>
<g clip-path="url(#c14)">
<path d="M1442.2 2569.25L1450 2561.45L1457.8 2569.25L1450 2577.05Z" fill="none" stroke="#00ee00" stroke-width="2.4"/>
<path d="M1507.44 2556.75L1515.24 2548.95L1523.04 2556.75L1515.24 2564.55Z" fill="none" stroke="#00ee00" stroke-width="2.4"/>
<path d="M1540.06 2576L1547.86 2568.2L1555.66 2576L1547.86 2583.8Z" fill="none" stroke="#00ee00" stroke-width="2.4"/>
<path d="M1572.68 2557.25L1580.48 2549.45L1588.28 2557.25L1580.48 2565.05Z" fill="none" stroke="#00ee00" stroke-width="2.4"/>
<path d="M1605.3 2528L1613.1 2520.2L1620.9 2528L1613.1 2535.8Z" fill="none" stroke="#00ee00" stroke-width="2.4"/>
<path d="M1670.54 2535L1678.34 2527.2L1686.14 2535L1678.34 2542.8Z" fill="none" stroke="#00ee00" stroke-width="2.4"/>
<path d="M1703.16 2561.75L1710.96 2553.95L1718.76 2561.75L1710.96 2569.55Z" fill="none" stroke="#00ee00" stroke-width="2.4"/>
<path d="M1735.78 2491L1743.58 2483.2L1751.38 2491L1743.58 2498.8Z" fill="none" stroke="#00ee00" stroke-width="2.4"/>
<path d="M1768.4 2565.5L1776.2 2557.7L1784 2565.5L1776.2 2573.3Z" fill="none" stroke="#00ee00" stroke-width="2.4"/>
<path d="M1801.02 2576L1808.82 2568.2L1816.62 2576L1808.82 2583.8Z" fill="none" stroke="#00ee00" stroke-width="2.4"/>
<polyline points="1450,2556 1482.62,2549.75 1515.24,2567.5 1547.86,2571.75 1580.48,2579.25 1613.1,2579.75 1645.72,2583 1678.34,2572.5 1710.96,2563 1743.58,2559.75 1776.2,2560.5 1808.82,2556.75" fill="none" stroke="#000000" stroke-width="3.4" stroke-linejoin="miter"/>
<polyline points="1450,2555 1482.62,2549.25 1515.24,2566.75 1547.86,2561.75 1580.48,2575.5 1613.1,2578.5 1645.72,2581.25 1678.34,2568.5 1710.96,2550 1743.58,2546.75 1776.2,2545.5 1808.82,2551.75" fill="none" stroke="#0000ff" stroke-width="3.4" stroke-linejoin="miter"/>
<polyline points="1450,2555 1482.62,2549.25 1515.24,2566.75 1547.86,2566.75 1580.48,2576 1613.1,2578.75 1645.72,2581.75 1678.34,2569.25 1710.96,2555.5 1743.58,2553 1776.2,2549.25 1808.82,2554.25" fill="none" stroke="#00fbff" stroke-width="3.4" stroke-linejoin="miter"/>
<polyline points="1450,2555.5 1482.62,2549.25 1515.24,2567.25 1547.86,2571 1580.48,2578 1613.1,2579.25 1645.72,2582.25 1678.34,2571.75 1710.96,2560.5 1743.58,2557.25 1776.2,2559.25 1808.82,2555.5" fill="none" stroke="#2cc830" stroke-width="3.4" stroke-linejoin="miter"/>
<polyline points="1450,2555 1482.62,2549.25 1515.24,2566.75 1547.86,2562.5 1580.48,2575 1613.1,2578.5 1645.72,2581 1678.34,2568 1710.96,2551 1743.58,2548.5 1776.2,2543.5 1808.82,2551" fill="none" stroke="#ee82ee" stroke-width="3.4" stroke-linejoin="miter"/>
<polyline points="1450,2550.5 1482.62,2548 1515.24,2566 1547.86,2558 1580.48,2573.5 1613.1,2577.25 1645.72,2580 1678.34,2565.5 1710.96,2546.75 1743.58,2538 1776.2,2525 1808.82,2549.25" fill="none" stroke="#ff0000" stroke-width="3.4" stroke-linejoin="miter"/>
<polyline points="1450,2544.25 1482.62,2545 1515.24,2565 1547.86,2553 1580.48,2571.75 1613.1,2576 1645.72,2578.5 1678.34,2561.75 1710.96,2532.5 1743.58,2528 1776.2,2507.5 1808.82,2548" fill="none" stroke="#f4a460" stroke-width="3.4" stroke-linejoin="miter"/>
</g>
<rect x="1433.5" y="2264" width="408" height="332.55" fill="none" stroke="#1c1c1c" stroke-width="1.6"/>
<path d="M1450 2264v-9.8M1450 2596.55v10M1482.62 2264v-9.8M1482.62 2596.55v10M1515.24 2264v-9.8M1515.24 2596.55v10M1547.86 2264v-9.8M1547.86 2596.55v10M1580.48 2264v-9.8M1580.48 2596.55v10M1613.1 2264v-9.8M1613.1 2596.55v10M1645.72 2264v-9.8M1645.72 2596.55v10M1678.34 2264v-9.8M1678.34 2596.55v10M1710.96 2264v-9.8M1710.96 2596.55v10M1743.58 2264v-9.8M1743.58 2596.55v10M1776.2 2264v-9.8M1776.2 2596.55v10M1808.82 2264v-9.8M1808.82 2596.55v10M1433.5 2281h4M1841.5 2281h-4M1433.5 2344.25h4M1841.5 2344.25h-4M1433.5 2407.25h4M1841.5 2407.25h-4M1433.5 2470.5h4M1841.5 2470.5h-4M1433.5 2533.75h4M1841.5 2533.75h-4" stroke="#1c1c1c" stroke-width="1.4" fill="none"/>
<path d="M1433.5 2584.12h2.3M1841.5 2584.12h-2.3M1433.5 2571.49h2.3M1841.5 2571.49h-2.3M1433.5 2558.86h2.3M1841.5 2558.86h-2.3M1433.5 2546.23h2.3M1841.5 2546.23h-2.3M1433.5 2520.97h2.3M1841.5 2520.97h-2.3M1433.5 2508.34h2.3M1841.5 2508.34h-2.3M1433.5 2495.71h2.3M1841.5 2495.71h-2.3M1433.5 2483.08h2.3M1841.5 2483.08h-2.3M1433.5 2457.82h2.3M1841.5 2457.82h-2.3M1433.5 2445.19h2.3M1841.5 2445.19h-2.3M1433.5 2432.56h2.3M1841.5 2432.56h-2.3M1433.5 2419.93h2.3M1841.5 2419.93h-2.3M1433.5 2394.67h2.3M1841.5 2394.67h-2.3M1433.5 2382.04h2.3M1841.5 2382.04h-2.3M1433.5 2369.41h2.3M1841.5 2369.41h-2.3M1433.5 2356.78h2.3M1841.5 2356.78h-2.3M1433.5 2331.52h2.3M1841.5 2331.52h-2.3M1433.5 2318.89h2.3M1841.5 2318.89h-2.3M1433.5 2306.26h2.3M1841.5 2306.26h-2.3M1433.5 2293.63h2.3M1841.5 2293.63h-2.3M1433.5 2268.37h2.3M1841.5 2268.37h-2.3" stroke="#111" stroke-width="1.1" fill="none"/>
<text transform="translate(1425.65 2596.35) scale(1 1)" font-size="29.5" text-anchor="end" xml:space="preserve">0.0</text>
<text transform="translate(1425.65 2543.85) scale(1 1)" font-size="29.5" text-anchor="end" xml:space="preserve">0.1</text>
<text transform="translate(1425.65 2480.6) scale(1 1)" font-size="29.5" text-anchor="end" xml:space="preserve">0.2</text>
<text transform="translate(1425.65 2417.35) scale(1 1)" font-size="29.5" text-anchor="end" xml:space="preserve">0.3</text>
<text transform="translate(1425.65 2354.35) scale(1 1)" font-size="29.5" text-anchor="end" xml:space="preserve">0.4</text>
<text transform="translate(1425.65 2291.1) scale(1 1)" font-size="29.5" text-anchor="end" xml:space="preserve">0.5</text>
<text transform="translate(1446.8 2643.35) scale(1 1)" font-size="29" text-anchor="middle" xml:space="preserve">J</text>
<text transform="translate(1483.22 2643.35) scale(1 1)" font-size="29" text-anchor="middle" xml:space="preserve">F</text>
<text transform="translate(1515.84 2643.35) scale(1 1)" font-size="29" text-anchor="middle" xml:space="preserve">M</text>
<text transform="translate(1548.46 2643.35) scale(1 1)" font-size="29" text-anchor="middle" xml:space="preserve">A</text>
<text transform="translate(1581.08 2643.35) scale(1 1)" font-size="29" text-anchor="middle" xml:space="preserve">M</text>
<text transform="translate(1609.9 2643.35) scale(1 1)" font-size="29" text-anchor="middle" xml:space="preserve">J</text>
<text transform="translate(1642.52 2643.35) scale(1 1)" font-size="29" text-anchor="middle" xml:space="preserve">J</text>
<text transform="translate(1678.94 2643.35) scale(1 1)" font-size="29" text-anchor="middle" xml:space="preserve">A</text>
<text transform="translate(1711.56 2643.35) scale(1 1)" font-size="29" text-anchor="middle" xml:space="preserve">S</text>
<text transform="translate(1744.18 2643.35) scale(1 1)" font-size="29" text-anchor="middle" xml:space="preserve">O</text>
<text transform="translate(1776.8 2643.35) scale(1 1)" font-size="29" text-anchor="middle" xml:space="preserve">N</text>
<text transform="translate(1809.42 2643.35) scale(1 1)" font-size="29" text-anchor="middle" xml:space="preserve">D</text>
<text transform="translate(1627.45 2249.45) scale(1 1)" font-size="36.7" text-anchor="middle" xml:space="preserve">(14) Lake_Argyle (Australia)</text>
<text transform="translate(1439.9 2293.35) scale(1 1)" font-size="33.8" textLength="131.5" lengthAdjust="spacing" xml:space="preserve">16.11° S,</text>
<text transform="translate(1568.15 2293.35) scale(1 1)" font-size="33.8" textLength="154.5" lengthAdjust="spacing" xml:space="preserve">128.75° E,</text>
<text transform="translate(1736.9 2293.35) scale(1 1)" font-size="33.8" xml:space="preserve">150</text>
<text transform="translate(1824.5 2293.35) scale(1 1)" font-size="33.8" text-anchor="end" xml:space="preserve">m</text>
<rect x="1446.65" y="2311.05" width="12.6" height="25.6" fill="#bebebe"/>
<rect x="1446.65" y="2344.55" width="12.6" height="25.4" fill="#5c320c"/>
<text transform="translate(1462.55 2330.55) scale(1 1)" font-size="29.3" xml:space="preserve">AERONET-clim</text>
<text transform="translate(1462.55 2364.25) scale(1 1)" font-size="29.3" xml:space="preserve">AERONET</text>
<text transform="translate(1689.75 2330.55) scale(1 1)" font-size="29.3" xml:space="preserve">( 0.10)</text>
<text transform="translate(1689.75 2364.25) scale(1 1)" font-size="29.3" xml:space="preserve">( 0.10)</text>
<text transform="translate(1982.75 2276.95) scale(1 1)" font-size="29" xml:space="preserve">Ratio</text>
<text transform="translate(1877.05 2319.65) scale(1 1)" font-size="24.6" xml:space="preserve">MISR</text>
<path d="M1846.95 2320.35L1854.95 2312.35L1862.95 2320.35L1854.95 2328.35Z" fill="none" stroke="#00ee00" stroke-width="2.4"/>
<text transform="translate(1988.75 2319.95) scale(1 1)" font-size="29.6" xml:space="preserve">0.71</text>
<text transform="translate(1877.05 2347.47) scale(1 1)" font-size="24.6" xml:space="preserve">NOBB</text>
<rect x="1848.55" y="2343.77" width="22" height="8" fill="#000000"/>
<text transform="translate(1988.75 2347.77) scale(1 1)" font-size="29.6" xml:space="preserve">0.59</text>
<text transform="translate(1877.05 2375.29) scale(1 1)" font-size="24.6" xml:space="preserve">GFED3.1</text>
<rect x="1848.55" y="2372.59" width="22" height="6" fill="#0000ff"/>
<text transform="translate(1988.75 2375.59) scale(1 1)" font-size="29.6" xml:space="preserve">0.71</text>
<text transform="translate(1877.05 2403.11) scale(1 1)" font-size="24.6" xml:space="preserve">GFED4s</text>
<rect x="1848.55" y="2400.41" width="22" height="6" fill="#00fbff"/>
<text transform="translate(1988.75 2403.41) scale(1 1)" font-size="29.6" xml:space="preserve">0.67</text>
<text transform="translate(1877.05 2430.93) scale(1 1)" font-size="24.6" xml:space="preserve">FINN1.5</text>
<rect x="1848.55" y="2428.23" width="22" height="6" fill="#2cc830"/>
<text transform="translate(1988.75 2431.23) scale(1 1)" font-size="29.6" xml:space="preserve">0.61</text>
<text transform="translate(1877.05 2458.75) scale(1 1)" font-size="24.6" xml:space="preserve">GFAS1.2</text>
<rect x="1848.55" y="2456.05" width="22" height="6" fill="#ee82ee"/>
<text transform="translate(1988.75 2459.05) scale(1 1)" font-size="29.6" xml:space="preserve">0.72</text>
<text transform="translate(1877.05 2486.57) scale(1 1)" font-size="24.6" xml:space="preserve">FEER1.0</text>
<rect x="1848.55" y="2483.87" width="22" height="6" fill="#ff0000"/>
<text transform="translate(1988.75 2486.87) scale(1 1)" font-size="29.6" xml:space="preserve">0.81</text>
<text transform="translate(1877.05 2514.39) scale(1 1)" font-size="24.6" xml:space="preserve">QFED2.4</text>
<rect x="1848.55" y="2511.69" width="22" height="6" fill="#f4a460"/>
<text transform="translate(1988.75 2514.69) scale(1 1)" font-size="29.6" xml:space="preserve">0.95</text>
</g>
</svg>
</body></html>
